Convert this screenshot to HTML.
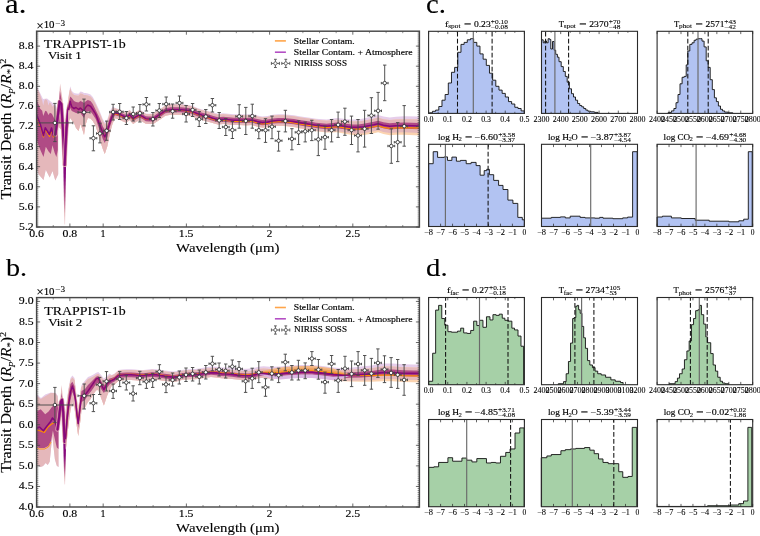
<!DOCTYPE html>
<html><head><meta charset="utf-8"><style>
html,body{margin:0;padding:0;background:#fff;}
svg{display:block;will-change:transform;}
text{font-family:"Liberation Serif",serif;stroke:#000;}
</style></head><body>
<svg width="760" height="536" viewBox="0 0 760 536">
<rect width="760" height="536" fill="#fff"/>
<text x="5.12" y="12.6" font-size="27" text-anchor="start" textLength="21.34" lengthAdjust="spacingAndGlyphs" fill="#000" stroke-width="0.12" >a.</text>
<text x="5.9" y="276" font-size="26.2" text-anchor="start" textLength="21.13" lengthAdjust="spacingAndGlyphs" fill="#000" stroke-width="0.12" >b.</text>
<text x="426.02" y="12.9" font-size="27.5" text-anchor="start" textLength="19.91" lengthAdjust="spacingAndGlyphs" fill="#000" stroke-width="0.12" >c.</text>
<text x="426.09" y="275.8" font-size="26" text-anchor="start" textLength="21.58" lengthAdjust="spacingAndGlyphs" fill="#000" stroke-width="0.12" >d.</text>
<defs><clipPath id="ca"><rect x="36.6" y="31.2" width="382.8" height="195.8"/></clipPath><clipPath id="cb"><rect x="36.6" y="297.6" width="382.8" height="209.4"/></clipPath></defs>
<g clip-path="url(#ca)">
<polygon points="36.6,85.5 39.6,92 43,99 47,98.5 52,102.5 56,106 57.5,112 58.2,174.3 55.3,180.4 52.5,170.9 49.7,177.6 45.8,169.8 43.5,179.9 38.5,174.3 36.6,167" fill="#e6cdea" />
<polygon points="36.6,86.7 38.1,90.3 39.6,93.3 41.2,97.9 42.2,100.5 43.2,105.6 44.3,100.5 45.8,99 47.3,100.5 48.4,105.6 49.4,102.6 50.9,103.6 52.5,106.7 54,104.6 55.5,108 57,114 58.2,125 58.2,174.3 55.3,180.4 52.5,170.9 49.7,177.6 45.8,169.8 43.5,179.9 38.5,174.3 36.6,167" fill="#e5b8bb" />
<polygon points="36.6,99.5 38.1,103.6 40.2,108.7 42.2,110.8 43.2,115.9 45.3,110.8 46.8,111.5 48.4,114.9 49.9,112.8 51.9,113.8 53.5,116.9 54.5,119 56,121 57.8,128 57.8,150 56.4,156.9 54.7,153 52.5,145.2 50.8,154.1 48.6,151.5 45.8,146.8 43.5,156.9 40.7,150.8 38.5,145.2 36.6,138.4" fill="#b04b85" />
<polyline points="36.6,116 38.6,122 40.2,126 41.7,131 43.5,137 45.3,129 47.3,133 49.5,136.5 51.5,130 53.3,137 55.5,136" fill="none" stroke="#ff8c00" stroke-width="1.2" stroke-linejoin="round" />
<polyline points="36.6,114.9 38.6,120 40.2,124.1 41.7,129.2 43.5,135.6 45.3,127.8 47.3,131 49.5,134.5 51.5,128 53.3,135.6 55.5,134.4" fill="none" stroke="#86087c" stroke-width="1.6" stroke-linejoin="round" />
<polygon points="57,126 58.3,108 60.1,83.4 62.6,100 63.6,124 62,130" fill="#e5b8bb" />
<polygon points="67.6,118 68.6,104 70.2,87.8 72.5,100" fill="#e5b8bb" />
<polygon points="57.8,122 58.9,106 59.9,91 61.6,100 62.6,118 60.5,124" fill="#b04b85" />
<polygon points="68.4,110 70.2,96.5 71.8,104" fill="#b04b85" />
<defs><linearGradient id="spA" x1="0" y1="0" x2="0" y2="1"><stop offset="0" stop-color="#86087c"/><stop offset="0.35" stop-color="#86087c"/><stop offset="0.6" stop-color="#b04b85"/><stop offset="0.85" stop-color="#e5b8bb"/><stop offset="1" stop-color="#f6e0e3"/></linearGradient></defs>
<polygon points="63.1,150 66.3,150 65.1,224.5 64.3,224.5" fill="url(#spA)" />
<polyline points="55.5,134.4 57.6,118 59.6,101.5 61.3,104 63,130 64.2,155 64.7,165" fill="none" stroke="#e5b8bb" stroke-width="4.2" stroke-linejoin="round" stroke-linecap="round"/>
<polyline points="55.5,134.4 57.6,118 59.6,101.5 61.3,104 63,130 64.2,155 64.7,165" fill="none" stroke="#b04b85" stroke-width="3" stroke-linejoin="round" stroke-linecap="round"/>
<polyline points="55.5,134.4 57.6,118 59.6,101.5 61.3,104 63,130 64.2,155 64.7,165" fill="none" stroke="#86087c" stroke-width="2" stroke-linejoin="round" stroke-linecap="round"/>
<polyline points="64.7,165 65.3,150 66.5,128 68.2,110 70.2,101.2 72.3,108" fill="none" stroke="#e5b8bb" stroke-width="4.2" stroke-linejoin="round" stroke-linecap="round"/>
<polyline points="64.7,165 65.3,150 66.5,128 68.2,110 70.2,101.2 72.3,108" fill="none" stroke="#b04b85" stroke-width="3" stroke-linejoin="round" stroke-linecap="round"/>
<polyline points="64.7,165 65.3,150 66.5,128 68.2,110 70.2,101.2 72.3,108" fill="none" stroke="#86087c" stroke-width="2" stroke-linejoin="round" stroke-linecap="round"/>
<polygon points="68.5,96 70.2,86.2 71.8,91 74,92.9 76,93.5 78.5,93.7 80.5,91.5 82.5,92 84,93 85.5,93 87.8,93.5 90.5,94.5 92.8,97 95.7,102.5 99.6,111 102.8,119 104.8,122.5 107.4,119 110,111 112.6,106.5 115.2,107.95 119.2,109.19 123.1,111.14 126.3,112.39 129.6,109.74 133.2,113.59 136.3,111.45 139.5,109.8 142.6,111.35 145.8,113.41 148.9,113.66 153.2,113.6 157.4,110.64 161.6,107.89 165.3,105.27 170.5,104.13 175.8,104.1 181,104.07 186.3,104.64 191.6,105.6 196.8,107.67 202.1,109.44 207.4,110.8 212.6,112.37 217.9,113.84 223.2,113.31 228.4,113.77 233.7,114.34 238.9,114.31 246.5,114.46 251.8,113.93 257.1,115.49 262.3,116.46 267.6,115.93 272.8,114.8 278.1,114.26 283.4,114.23 288.6,114.7 293.9,115.26 299.2,116.23 304.4,117 309.7,117.76 316,118.83 326.5,119.54 337,118.12 347.6,119.2 352.8,119.59 358.1,119.38 363.4,118.56 368.6,117.36 373.9,116.12 378.1,115.04 383.4,116.53 389.7,117.41 396,116.78 404,116.32 420,116.5 420,133 404,132.34 396,132.56 389.7,133 383.4,131.93 378.1,130.28 373.9,131.24 368.6,132.27 363.4,133.17 358.1,133.66 352.8,133.56 347.6,132.85 337,131.14 326.5,131.93 316,130.76 309.7,129.61 304.4,128.76 299.2,127.92 293.9,126.87 288.6,126.23 283.4,125.68 278.1,125.63 272.8,126.09 267.6,127.14 262.3,127.6 257.1,126.55 251.8,124.9 246.5,125.36 238.9,125.1 233.7,125.12 228.4,124.53 223.2,124.04 217.9,124.56 212.6,123.07 207.4,121.48 202.1,120.09 196.8,118.31 191.6,116.22 186.3,115.23 181,114.65 175.8,114.66 170.5,114.67 165.3,115.79 161.6,118.4 157.4,121.13 153.2,124.07 148.9,124.12 145.8,123.85 142.6,121.78 139.5,120.21 136.3,121.85 133.2,123.98 129.6,120.12 126.3,122.75 123.1,121.48 119.2,119.52 115.2,118.27 112.6,123.5 110,133 107.4,146 104.8,154 102.8,149 99.6,139 95.7,126 92.8,121 90.5,118.5 87.8,118 85.5,125 84,135 82.5,130 80.5,124 78.5,131 76,128 74,123 71.8,120.3 70.2,118 68.5,122" fill="#e6cdea" />
<polygon points="68.5,98 70.2,88.2 71.8,93 74,94.9 76,95.5 78.5,95.7 80.5,93.5 82.5,94 84,95 85.5,95 87.8,95.5 90.5,96.5 92.8,99 95.7,104.5 99.6,113 102.8,121 104.8,124.5 107.4,121 110,113 112.6,108.5 115.2,108.55 119.2,109.78 123.1,111.71 126.3,112.96 129.6,110.31 133.2,114.15 136.3,111.99 139.5,110.34 142.6,111.89 145.8,113.94 148.9,114.19 153.2,114.11 157.4,111.14 161.6,108.4 165.3,105.8 170.5,104.7 175.8,104.7 181,104.7 186.3,105.3 191.6,106.3 196.8,108.4 202.1,110.2 207.4,111.6 212.6,113.2 217.9,114.7 223.2,114.2 228.4,114.7 233.7,115.3 238.9,115.3 246.5,115.46 251.8,114.93 257.1,116.49 262.3,117.46 267.6,116.93 272.8,115.8 278.1,115.26 283.4,115.23 288.6,115.7 293.9,116.26 299.2,117.23 304.4,118 309.7,118.76 316,119.83 326.5,120.73 337,119.63 347.6,121.02 352.8,121.57 358.1,121.52 363.4,120.87 368.6,119.81 373.9,118.66 378.1,117.62 383.4,119.17 389.7,120.1 396,119.54 404,119.16 420,119.5 420,135.5 404,134.68 396,134.82 389.7,135.19 383.4,134.07 378.1,132.36 373.9,133.28 368.6,134.23 363.4,134.97 358.1,135.31 352.8,135.04 347.6,134.18 337,132.15 326.5,132.62 316,131.24 309.7,130.05 304.4,129.17 299.2,128.29 293.9,127.21 288.6,126.53 283.4,125.95 278.1,125.87 272.8,126.29 267.6,127.31 262.3,127.73 257.1,126.66 251.8,124.98 246.5,125.4 238.9,125.1 233.7,125.12 228.4,124.53 223.2,124.04 217.9,124.56 212.6,123.07 207.4,121.48 202.1,120.09 196.8,118.31 191.6,116.22 186.3,115.23 181,114.65 175.8,114.66 170.5,114.67 165.3,115.79 161.6,118.4 157.4,121.13 153.2,124.07 148.9,124.12 145.8,123.85 142.6,121.78 139.5,120.21 136.3,121.85 133.2,123.98 129.6,120.12 126.3,122.75 123.1,121.48 119.2,119.52 115.2,118.27 112.6,123.5 110,133 107.4,146 104.8,154 102.8,149 99.6,139 95.7,126 92.8,121 90.5,118.5 87.8,118 85.5,125 84,135 82.5,130 80.5,124 78.5,131 76,128 74,123 71.8,120.3 70.2,118 68.5,122" fill="#fbd3b0" />
<polygon points="68.5,98 70.2,88.2 71.8,93 74,94.9 76,95.5 78.5,95.7 80.5,93.5 82.5,94 84,95 85.5,95 87.8,95.5 90.5,96.5 92.8,99 95.7,104.5 99.6,113 102.8,121 104.8,124.5 107.4,121 110,113 112.6,108.5 115.2,108.55 119.2,109.78 123.1,111.71 126.3,112.96 129.6,110.31 133.2,114.15 136.3,111.99 139.5,110.34 142.6,111.89 145.8,113.94 148.9,114.19 153.2,114.11 157.4,111.14 161.6,108.4 165.3,105.8 170.5,104.7 175.8,104.7 181,104.7 186.3,105.3 191.6,106.3 196.8,108.4 202.1,110.2 207.4,111.6 212.6,113.2 217.9,114.7 223.2,114.2 228.4,114.7 233.7,115.3 238.9,115.3 246.5,115.46 251.8,114.93 257.1,116.49 262.3,117.46 267.6,116.93 272.8,115.8 278.1,115.26 283.4,115.23 288.6,115.7 293.9,116.26 299.2,117.23 304.4,118 309.7,118.76 316,119.83 326.5,120.73 337,119.63 347.6,121.02 352.8,121.57 358.1,121.52 363.4,120.87 368.6,119.81 373.9,118.66 378.1,117.62 383.4,119.17 389.7,120.1 396,119.54 404,119.16 420,119.5 420,133 404,132.34 396,132.56 389.7,133 383.4,131.93 378.1,130.28 373.9,131.24 368.6,132.27 363.4,133.17 358.1,133.66 352.8,133.56 347.6,132.85 337,131.14 326.5,131.93 316,130.76 309.7,129.61 304.4,128.76 299.2,127.92 293.9,126.87 288.6,126.23 283.4,125.68 278.1,125.63 272.8,126.09 267.6,127.14 262.3,127.6 257.1,126.55 251.8,124.9 246.5,125.36 238.9,125.1 233.7,125.12 228.4,124.53 223.2,124.04 217.9,124.56 212.6,123.07 207.4,121.48 202.1,120.09 196.8,118.31 191.6,116.22 186.3,115.23 181,114.65 175.8,114.66 170.5,114.67 165.3,115.79 161.6,118.4 157.4,121.13 153.2,124.07 148.9,124.12 145.8,123.85 142.6,121.78 139.5,120.21 136.3,121.85 133.2,123.98 129.6,120.12 126.3,122.75 123.1,121.48 119.2,119.52 115.2,118.27 112.6,123.5 110,133 107.4,146 104.8,154 102.8,149 99.6,139 95.7,126 92.8,121 90.5,118.5 87.8,118 85.5,125 84,135 82.5,130 80.5,124 78.5,131 76,128 74,123 71.8,120.3 70.2,118 68.5,122" fill="#e5b8bb" />
<polygon points="68.5,104 70.2,96.5 71.8,98 74,101 76,102 78.5,102.4 80.5,101 82.5,102 84,103 85.5,101.5 87.8,100 90.5,101 92.8,104 95.7,110 99.6,118 102.8,126.5 104.8,129.5 107.4,125.5 110,117 112.6,111.5 115.2,110.58 119.2,111.85 123.1,113.83 126.3,115.11 129.6,112.49 133.2,116.37 136.3,114.25 139.5,112.63 142.6,114.21 145.8,116.29 148.9,116.57 153.2,116.54 157.4,113.62 161.6,110.9 165.3,108.3 170.5,107.2 175.8,107.2 181,107.2 186.3,107.8 191.6,108.8 196.8,110.9 202.1,112.7 207.4,114.1 212.6,115.7 217.9,117.2 223.2,116.7 228.4,117.2 233.7,117.8 238.9,117.8 246.5,117.99 251.8,117.49 257.1,119.08 262.3,120.07 267.6,119.57 272.8,118.46 278.1,117.95 283.4,117.95 288.6,118.44 293.9,119.03 299.2,120.03 304.4,120.82 309.7,121.61 316,122.7 326.5,123.65 337,122.56 347.6,123.98 352.8,124.54 358.1,124.5 363.4,123.85 368.6,122.81 373.9,121.7 378.1,120.7 383.4,122.3 389.7,123.3 396,122.8 404,122.5 420,123 420,129.2 404,128.64 396,128.9 389.7,129.38 383.4,128.35 378.1,126.73 373.9,127.72 368.6,128.79 363.4,129.77 358.1,130.35 352.8,130.33 347.6,129.71 337,128.17 326.5,129.13 316,128.09 309.7,126.96 304.4,126.14 299.2,125.32 293.9,124.3 288.6,123.68 283.4,123.16 278.1,123.14 272.8,123.62 267.6,124.7 262.3,125.18 257.1,124.16 251.8,122.54 246.5,123.02 238.9,122.8 233.7,122.8 228.4,122.2 223.2,121.7 217.9,122.2 212.6,120.7 207.4,119.1 202.1,117.7 196.8,115.9 191.6,113.8 186.3,112.8 181,112.2 175.8,112.2 170.5,112.2 165.3,113.3 161.6,115.9 157.4,118.59 153.2,121.49 148.9,121.48 145.8,121.17 142.6,119.06 139.5,117.46 136.3,119.05 133.2,121.14 129.6,117.24 126.3,119.83 123.1,118.52 119.2,116.52 115.2,115.21 112.6,119 110,126.5 107.4,137 104.8,143 102.8,139 99.6,130 95.7,119 92.8,114.5 90.5,111.5 87.8,111 85.5,114 84,118 82.5,116 80.5,113 78.5,113.6 76,113 74,112.1 71.8,111 70.2,108 68.5,112" fill="#b04b85" />
<polyline points="68.5,110 70.2,101.4 71.8,106.9 74,108.5 76,107.5 78.5,109.5 80.5,108 82.5,110 84,110.8 85.5,107.5 87.8,105 90.5,106.3 92.8,109.5 95.7,114.1 99.6,124.6 102.8,133 104.8,137 107.4,131.1 110,121.9 112.6,115.4 115.2,113.75 119.2,114.99 123.1,116.94 126.3,118.19 129.6,115.54 133.2,119.39 136.3,117.25 139.5,115.6 142.6,117.15 145.8,119.21 148.9,119.46 153.2,119.4 157.4,116.44 161.6,113.72 165.3,111.16 170.5,110.12 175.8,110.18 181,110.24 186.3,110.9 191.6,111.96 196.8,114.11 202.1,115.97 207.4,117.43 212.6,119.09 217.9,120.65 223.2,120.21 228.4,120.77 233.7,121.43 238.9,121.49 246.5,121.7 251.8,121.2 257.1,122.8 262.3,123.8 267.6,123.3 272.8,122.2 278.1,121.7 283.4,121.7 288.6,122.2 293.9,122.8 299.2,123.8 304.4,124.6 309.7,125.4 316,126.5 326.5,127.6 337,126.77 347.6,128.44 352.8,129.12 358.1,129.21 363.4,128.69 368.6,127.78 373.9,126.72 378.1,125.73 383.4,127.35 389.7,128.38 396,127.9 404,127.64 420,128.2" fill="none" stroke="#ff8c00" stroke-width="1.2" stroke-linejoin="round" />
<polyline points="68.5,110 70.2,101.4 71.8,106.9 74,108.5 76,107.5 78.5,109.5 80.5,108 82.5,110 84,110.8 85.5,107.5 87.8,105 90.5,106.3 92.8,109.5 95.7,114.1 99.6,124.6 102.8,133 104.8,137 107.4,131.1 110,121.9 112.6,115.4 115.2,112.8 119.2,114.1 123.1,116.1 126.3,117.4 129.6,114.8 133.2,118.7 136.3,116.6 139.5,115 142.6,116.6 145.8,118.7 148.9,119 153.2,119 157.4,116.1 161.6,113.4 165.3,110.8 170.5,109.7 175.8,109.7 181,109.7 186.3,110.3 191.6,111.3 196.8,113.4 202.1,115.2 207.4,116.6 212.6,118.2 217.9,119.7 223.2,119.2 228.4,119.7 233.7,120.3 238.9,120.3 246.5,120.5 251.8,120 257.1,121.6 262.3,122.6 267.6,122.1 272.8,121 278.1,120.5 283.4,120.5 288.6,121 293.9,121.6 299.2,122.6 304.4,123.4 309.7,124.2 316,125.3 326.5,126.3 337,125.3 347.6,126.8 352.8,127.4 358.1,127.4 363.4,126.8 368.6,125.8 373.9,124.7 378.1,123.7 383.4,125.3 389.7,126.3 396,125.8 404,125.5 420,126" fill="none" stroke="#86087c" stroke-width="1.6" stroke-linejoin="round" />
<line x1="37.3" y1="122.9" x2="72.8" y2="122.9" stroke="#4a4a4a" stroke-width="0.95" />
<line x1="54.9" y1="103.4" x2="54.9" y2="141.6" stroke="#4a4a4a" stroke-width="0.95" />
<line x1="53.2" y1="103.4" x2="56.6" y2="103.4" stroke="#4a4a4a" stroke-width="0.95" />
<line x1="53.2" y1="141.6" x2="56.6" y2="141.6" stroke="#4a4a4a" stroke-width="0.95" />
<line x1="37.3" y1="121.6" x2="37.3" y2="124.2" stroke="#4a4a4a" stroke-width="0.95" />
<line x1="72.8" y1="121.6" x2="72.8" y2="124.2" stroke="#4a4a4a" stroke-width="0.95" />
<circle cx="54.9" cy="122.9" r="1.75" fill="#fff" stroke="#222" stroke-width="0.8"/>
<line x1="78" y1="112.3" x2="90" y2="112.3" stroke="#4a4a4a" stroke-width="0.95" />
<line x1="84" y1="99.1" x2="84" y2="125.9" stroke="#4a4a4a" stroke-width="0.95" />
<line x1="82.3" y1="99.1" x2="85.7" y2="99.1" stroke="#4a4a4a" stroke-width="0.95" />
<line x1="82.3" y1="125.9" x2="85.7" y2="125.9" stroke="#4a4a4a" stroke-width="0.95" />
<line x1="78" y1="111" x2="78" y2="113.6" stroke="#4a4a4a" stroke-width="0.95" />
<line x1="90" y1="111" x2="90" y2="113.6" stroke="#4a4a4a" stroke-width="0.95" />
<circle cx="84" cy="112.3" r="1.75" fill="#fff" stroke="#222" stroke-width="0.8"/>
<line x1="90" y1="138.2" x2="96.8" y2="138.2" stroke="#4a4a4a" stroke-width="0.95" />
<line x1="93.4" y1="125.8" x2="93.4" y2="150.8" stroke="#4a4a4a" stroke-width="0.95" />
<line x1="91.7" y1="125.8" x2="95.1" y2="125.8" stroke="#4a4a4a" stroke-width="0.95" />
<line x1="91.7" y1="150.8" x2="95.1" y2="150.8" stroke="#4a4a4a" stroke-width="0.95" />
<line x1="90" y1="137" x2="90" y2="139.4" stroke="#4a4a4a" stroke-width="0.95" />
<line x1="96.8" y1="137" x2="96.8" y2="139.4" stroke="#4a4a4a" stroke-width="0.95" />
<circle cx="93.4" cy="138.2" r="1.75" fill="#fff" stroke="#222" stroke-width="0.8"/>
<line x1="96.5" y1="133.5" x2="103.3" y2="133.5" stroke="#4a4a4a" stroke-width="0.95" />
<line x1="99.9" y1="123.2" x2="99.9" y2="142.9" stroke="#4a4a4a" stroke-width="0.95" />
<line x1="98.2" y1="123.2" x2="101.6" y2="123.2" stroke="#4a4a4a" stroke-width="0.95" />
<line x1="98.2" y1="142.9" x2="101.6" y2="142.9" stroke="#4a4a4a" stroke-width="0.95" />
<line x1="96.5" y1="132.3" x2="96.5" y2="134.7" stroke="#4a4a4a" stroke-width="0.95" />
<line x1="103.3" y1="132.3" x2="103.3" y2="134.7" stroke="#4a4a4a" stroke-width="0.95" />
<circle cx="99.9" cy="133.5" r="1.75" fill="#fff" stroke="#222" stroke-width="0.8"/>
<line x1="103.3" y1="130.8" x2="110.1" y2="130.8" stroke="#4a4a4a" stroke-width="0.95" />
<line x1="106.7" y1="121.1" x2="106.7" y2="140.3" stroke="#4a4a4a" stroke-width="0.95" />
<line x1="105" y1="121.1" x2="108.4" y2="121.1" stroke="#4a4a4a" stroke-width="0.95" />
<line x1="105" y1="140.3" x2="108.4" y2="140.3" stroke="#4a4a4a" stroke-width="0.95" />
<line x1="103.3" y1="129.6" x2="103.3" y2="132" stroke="#4a4a4a" stroke-width="0.95" />
<line x1="110.1" y1="129.6" x2="110.1" y2="132" stroke="#4a4a4a" stroke-width="0.95" />
<circle cx="106.7" cy="130.8" r="1.75" fill="#fff" stroke="#222" stroke-width="0.8"/>
<line x1="109.7" y1="112.1" x2="116.5" y2="112.1" stroke="#4a4a4a" stroke-width="0.95" />
<line x1="113.1" y1="104.3" x2="113.1" y2="120" stroke="#4a4a4a" stroke-width="0.95" />
<line x1="111.4" y1="104.3" x2="114.8" y2="104.3" stroke="#4a4a4a" stroke-width="0.95" />
<line x1="111.4" y1="120" x2="114.8" y2="120" stroke="#4a4a4a" stroke-width="0.95" />
<line x1="109.7" y1="110.9" x2="109.7" y2="113.3" stroke="#4a4a4a" stroke-width="0.95" />
<line x1="116.5" y1="110.9" x2="116.5" y2="113.3" stroke="#4a4a4a" stroke-width="0.95" />
<circle cx="113.1" cy="112.1" r="1.75" fill="#fff" stroke="#222" stroke-width="0.8"/>
<line x1="116.3" y1="111.8" x2="123.1" y2="111.8" stroke="#4a4a4a" stroke-width="0.95" />
<line x1="119.7" y1="103.5" x2="119.7" y2="119.5" stroke="#4a4a4a" stroke-width="0.95" />
<line x1="118" y1="103.5" x2="121.4" y2="103.5" stroke="#4a4a4a" stroke-width="0.95" />
<line x1="118" y1="119.5" x2="121.4" y2="119.5" stroke="#4a4a4a" stroke-width="0.95" />
<line x1="116.3" y1="110.6" x2="116.3" y2="113" stroke="#4a4a4a" stroke-width="0.95" />
<line x1="123.1" y1="110.6" x2="123.1" y2="113" stroke="#4a4a4a" stroke-width="0.95" />
<circle cx="119.7" cy="111.8" r="1.75" fill="#fff" stroke="#222" stroke-width="0.8"/>
<line x1="123" y1="118.1" x2="129.8" y2="118.1" stroke="#4a4a4a" stroke-width="0.95" />
<line x1="126.4" y1="111.5" x2="126.4" y2="124.5" stroke="#4a4a4a" stroke-width="0.95" />
<line x1="124.7" y1="111.5" x2="128.1" y2="111.5" stroke="#4a4a4a" stroke-width="0.95" />
<line x1="124.7" y1="124.5" x2="128.1" y2="124.5" stroke="#4a4a4a" stroke-width="0.95" />
<line x1="123" y1="116.9" x2="123" y2="119.3" stroke="#4a4a4a" stroke-width="0.95" />
<line x1="129.8" y1="116.9" x2="129.8" y2="119.3" stroke="#4a4a4a" stroke-width="0.95" />
<circle cx="126.4" cy="118.1" r="1.75" fill="#fff" stroke="#222" stroke-width="0.8"/>
<line x1="129.8" y1="114" x2="136.6" y2="114" stroke="#4a4a4a" stroke-width="0.95" />
<line x1="133.2" y1="107" x2="133.2" y2="121" stroke="#4a4a4a" stroke-width="0.95" />
<line x1="131.5" y1="107" x2="134.9" y2="107" stroke="#4a4a4a" stroke-width="0.95" />
<line x1="131.5" y1="121" x2="134.9" y2="121" stroke="#4a4a4a" stroke-width="0.95" />
<line x1="129.8" y1="112.8" x2="129.8" y2="115.2" stroke="#4a4a4a" stroke-width="0.95" />
<line x1="136.6" y1="112.8" x2="136.6" y2="115.2" stroke="#4a4a4a" stroke-width="0.95" />
<circle cx="133.2" cy="114" r="1.75" fill="#fff" stroke="#222" stroke-width="0.8"/>
<line x1="136.5" y1="113.2" x2="143.3" y2="113.2" stroke="#4a4a4a" stroke-width="0.95" />
<line x1="139.9" y1="104.5" x2="139.9" y2="122" stroke="#4a4a4a" stroke-width="0.95" />
<line x1="138.2" y1="104.5" x2="141.6" y2="104.5" stroke="#4a4a4a" stroke-width="0.95" />
<line x1="138.2" y1="122" x2="141.6" y2="122" stroke="#4a4a4a" stroke-width="0.95" />
<line x1="136.5" y1="112" x2="136.5" y2="114.4" stroke="#4a4a4a" stroke-width="0.95" />
<line x1="143.3" y1="112" x2="143.3" y2="114.4" stroke="#4a4a4a" stroke-width="0.95" />
<circle cx="139.9" cy="113.2" r="1.75" fill="#fff" stroke="#222" stroke-width="0.8"/>
<line x1="143" y1="104.4" x2="149.8" y2="104.4" stroke="#4a4a4a" stroke-width="0.95" />
<line x1="146.4" y1="97.5" x2="146.4" y2="111" stroke="#4a4a4a" stroke-width="0.95" />
<line x1="144.7" y1="97.5" x2="148.1" y2="97.5" stroke="#4a4a4a" stroke-width="0.95" />
<line x1="144.7" y1="111" x2="148.1" y2="111" stroke="#4a4a4a" stroke-width="0.95" />
<line x1="143" y1="103.2" x2="143" y2="105.6" stroke="#4a4a4a" stroke-width="0.95" />
<line x1="149.8" y1="103.2" x2="149.8" y2="105.6" stroke="#4a4a4a" stroke-width="0.95" />
<circle cx="146.4" cy="104.4" r="1.75" fill="#fff" stroke="#222" stroke-width="0.8"/>
<line x1="149.5" y1="119.1" x2="156.3" y2="119.1" stroke="#4a4a4a" stroke-width="0.95" />
<line x1="152.9" y1="112.5" x2="152.9" y2="126" stroke="#4a4a4a" stroke-width="0.95" />
<line x1="151.2" y1="112.5" x2="154.6" y2="112.5" stroke="#4a4a4a" stroke-width="0.95" />
<line x1="151.2" y1="126" x2="154.6" y2="126" stroke="#4a4a4a" stroke-width="0.95" />
<line x1="149.5" y1="117.9" x2="149.5" y2="120.3" stroke="#4a4a4a" stroke-width="0.95" />
<line x1="156.3" y1="117.9" x2="156.3" y2="120.3" stroke="#4a4a4a" stroke-width="0.95" />
<circle cx="152.9" cy="119.1" r="1.75" fill="#fff" stroke="#222" stroke-width="0.8"/>
<line x1="155.9" y1="110.5" x2="162.7" y2="110.5" stroke="#4a4a4a" stroke-width="0.95" />
<line x1="159.3" y1="103.5" x2="159.3" y2="117.5" stroke="#4a4a4a" stroke-width="0.95" />
<line x1="157.6" y1="103.5" x2="161" y2="103.5" stroke="#4a4a4a" stroke-width="0.95" />
<line x1="157.6" y1="117.5" x2="161" y2="117.5" stroke="#4a4a4a" stroke-width="0.95" />
<line x1="155.9" y1="109.3" x2="155.9" y2="111.7" stroke="#4a4a4a" stroke-width="0.95" />
<line x1="162.7" y1="109.3" x2="162.7" y2="111.7" stroke="#4a4a4a" stroke-width="0.95" />
<circle cx="159.3" cy="110.5" r="1.75" fill="#fff" stroke="#222" stroke-width="0.8"/>
<line x1="162.8" y1="104.1" x2="169.6" y2="104.1" stroke="#4a4a4a" stroke-width="0.95" />
<line x1="166.2" y1="97" x2="166.2" y2="111" stroke="#4a4a4a" stroke-width="0.95" />
<line x1="164.5" y1="97" x2="167.9" y2="97" stroke="#4a4a4a" stroke-width="0.95" />
<line x1="164.5" y1="111" x2="167.9" y2="111" stroke="#4a4a4a" stroke-width="0.95" />
<line x1="162.8" y1="102.9" x2="162.8" y2="105.3" stroke="#4a4a4a" stroke-width="0.95" />
<line x1="169.6" y1="102.9" x2="169.6" y2="105.3" stroke="#4a4a4a" stroke-width="0.95" />
<circle cx="166.2" cy="104.1" r="1.75" fill="#fff" stroke="#222" stroke-width="0.8"/>
<line x1="169.2" y1="111.2" x2="176" y2="111.2" stroke="#4a4a4a" stroke-width="0.95" />
<line x1="172.6" y1="104" x2="172.6" y2="118.2" stroke="#4a4a4a" stroke-width="0.95" />
<line x1="170.9" y1="104" x2="174.3" y2="104" stroke="#4a4a4a" stroke-width="0.95" />
<line x1="170.9" y1="118.2" x2="174.3" y2="118.2" stroke="#4a4a4a" stroke-width="0.95" />
<line x1="169.2" y1="110" x2="169.2" y2="112.4" stroke="#4a4a4a" stroke-width="0.95" />
<line x1="176" y1="110" x2="176" y2="112.4" stroke="#4a4a4a" stroke-width="0.95" />
<circle cx="172.6" cy="111.2" r="1.75" fill="#fff" stroke="#222" stroke-width="0.8"/>
<line x1="176.1" y1="103" x2="182.9" y2="103" stroke="#4a4a4a" stroke-width="0.95" />
<line x1="179.5" y1="96" x2="179.5" y2="110.5" stroke="#4a4a4a" stroke-width="0.95" />
<line x1="177.8" y1="96" x2="181.2" y2="96" stroke="#4a4a4a" stroke-width="0.95" />
<line x1="177.8" y1="110.5" x2="181.2" y2="110.5" stroke="#4a4a4a" stroke-width="0.95" />
<line x1="176.1" y1="101.8" x2="176.1" y2="104.2" stroke="#4a4a4a" stroke-width="0.95" />
<line x1="182.9" y1="101.8" x2="182.9" y2="104.2" stroke="#4a4a4a" stroke-width="0.95" />
<circle cx="179.5" cy="103" r="1.75" fill="#fff" stroke="#222" stroke-width="0.8"/>
<line x1="182.7" y1="114" x2="189.5" y2="114" stroke="#4a4a4a" stroke-width="0.95" />
<line x1="186.1" y1="105.5" x2="186.1" y2="122" stroke="#4a4a4a" stroke-width="0.95" />
<line x1="184.4" y1="105.5" x2="187.8" y2="105.5" stroke="#4a4a4a" stroke-width="0.95" />
<line x1="184.4" y1="122" x2="187.8" y2="122" stroke="#4a4a4a" stroke-width="0.95" />
<line x1="182.7" y1="112.8" x2="182.7" y2="115.2" stroke="#4a4a4a" stroke-width="0.95" />
<line x1="189.5" y1="112.8" x2="189.5" y2="115.2" stroke="#4a4a4a" stroke-width="0.95" />
<circle cx="186.1" cy="114" r="1.75" fill="#fff" stroke="#222" stroke-width="0.8"/>
<line x1="189.2" y1="109.9" x2="196" y2="109.9" stroke="#4a4a4a" stroke-width="0.95" />
<line x1="192.6" y1="103.5" x2="192.6" y2="116.5" stroke="#4a4a4a" stroke-width="0.95" />
<line x1="190.9" y1="103.5" x2="194.3" y2="103.5" stroke="#4a4a4a" stroke-width="0.95" />
<line x1="190.9" y1="116.5" x2="194.3" y2="116.5" stroke="#4a4a4a" stroke-width="0.95" />
<line x1="189.2" y1="108.7" x2="189.2" y2="111.1" stroke="#4a4a4a" stroke-width="0.95" />
<line x1="196" y1="108.7" x2="196" y2="111.1" stroke="#4a4a4a" stroke-width="0.95" />
<circle cx="192.6" cy="109.9" r="1.75" fill="#fff" stroke="#222" stroke-width="0.8"/>
<line x1="195.8" y1="119.2" x2="202.6" y2="119.2" stroke="#4a4a4a" stroke-width="0.95" />
<line x1="199.2" y1="111.5" x2="199.2" y2="126.5" stroke="#4a4a4a" stroke-width="0.95" />
<line x1="197.5" y1="111.5" x2="200.9" y2="111.5" stroke="#4a4a4a" stroke-width="0.95" />
<line x1="197.5" y1="126.5" x2="200.9" y2="126.5" stroke="#4a4a4a" stroke-width="0.95" />
<line x1="195.8" y1="118" x2="195.8" y2="120.4" stroke="#4a4a4a" stroke-width="0.95" />
<line x1="202.6" y1="118" x2="202.6" y2="120.4" stroke="#4a4a4a" stroke-width="0.95" />
<circle cx="199.2" cy="119.2" r="1.75" fill="#fff" stroke="#222" stroke-width="0.8"/>
<line x1="202.4" y1="116.5" x2="209.2" y2="116.5" stroke="#4a4a4a" stroke-width="0.95" />
<line x1="205.8" y1="109.5" x2="205.8" y2="123.5" stroke="#4a4a4a" stroke-width="0.95" />
<line x1="204.1" y1="109.5" x2="207.5" y2="109.5" stroke="#4a4a4a" stroke-width="0.95" />
<line x1="204.1" y1="123.5" x2="207.5" y2="123.5" stroke="#4a4a4a" stroke-width="0.95" />
<line x1="202.4" y1="115.3" x2="202.4" y2="117.7" stroke="#4a4a4a" stroke-width="0.95" />
<line x1="209.2" y1="115.3" x2="209.2" y2="117.7" stroke="#4a4a4a" stroke-width="0.95" />
<circle cx="205.8" cy="116.5" r="1.75" fill="#fff" stroke="#222" stroke-width="0.8"/>
<line x1="209" y1="105.2" x2="215.8" y2="105.2" stroke="#4a4a4a" stroke-width="0.95" />
<line x1="212.4" y1="98.5" x2="212.4" y2="112" stroke="#4a4a4a" stroke-width="0.95" />
<line x1="210.7" y1="98.5" x2="214.1" y2="98.5" stroke="#4a4a4a" stroke-width="0.95" />
<line x1="210.7" y1="112" x2="214.1" y2="112" stroke="#4a4a4a" stroke-width="0.95" />
<line x1="209" y1="104" x2="209" y2="106.4" stroke="#4a4a4a" stroke-width="0.95" />
<line x1="215.8" y1="104" x2="215.8" y2="106.4" stroke="#4a4a4a" stroke-width="0.95" />
<circle cx="212.4" cy="105.2" r="1.75" fill="#fff" stroke="#222" stroke-width="0.8"/>
<line x1="215.8" y1="120.4" x2="222.6" y2="120.4" stroke="#4a4a4a" stroke-width="0.95" />
<line x1="219.2" y1="112.5" x2="219.2" y2="128.5" stroke="#4a4a4a" stroke-width="0.95" />
<line x1="217.5" y1="112.5" x2="220.9" y2="112.5" stroke="#4a4a4a" stroke-width="0.95" />
<line x1="217.5" y1="128.5" x2="220.9" y2="128.5" stroke="#4a4a4a" stroke-width="0.95" />
<line x1="215.8" y1="119.2" x2="215.8" y2="121.6" stroke="#4a4a4a" stroke-width="0.95" />
<line x1="222.6" y1="119.2" x2="222.6" y2="121.6" stroke="#4a4a4a" stroke-width="0.95" />
<circle cx="219.2" cy="120.4" r="1.75" fill="#fff" stroke="#222" stroke-width="0.8"/>
<line x1="222.4" y1="127" x2="229.2" y2="127" stroke="#4a4a4a" stroke-width="0.95" />
<line x1="225.8" y1="118.5" x2="225.8" y2="135.5" stroke="#4a4a4a" stroke-width="0.95" />
<line x1="224.1" y1="118.5" x2="227.5" y2="118.5" stroke="#4a4a4a" stroke-width="0.95" />
<line x1="224.1" y1="135.5" x2="227.5" y2="135.5" stroke="#4a4a4a" stroke-width="0.95" />
<line x1="222.4" y1="125.8" x2="222.4" y2="128.2" stroke="#4a4a4a" stroke-width="0.95" />
<line x1="229.2" y1="125.8" x2="229.2" y2="128.2" stroke="#4a4a4a" stroke-width="0.95" />
<circle cx="225.8" cy="127" r="1.75" fill="#fff" stroke="#222" stroke-width="0.8"/>
<line x1="229" y1="130" x2="235.8" y2="130" stroke="#4a4a4a" stroke-width="0.95" />
<line x1="232.4" y1="121.5" x2="232.4" y2="138.5" stroke="#4a4a4a" stroke-width="0.95" />
<line x1="230.7" y1="121.5" x2="234.1" y2="121.5" stroke="#4a4a4a" stroke-width="0.95" />
<line x1="230.7" y1="138.5" x2="234.1" y2="138.5" stroke="#4a4a4a" stroke-width="0.95" />
<line x1="229" y1="128.8" x2="229" y2="131.2" stroke="#4a4a4a" stroke-width="0.95" />
<line x1="235.8" y1="128.8" x2="235.8" y2="131.2" stroke="#4a4a4a" stroke-width="0.95" />
<circle cx="232.4" cy="130" r="1.75" fill="#fff" stroke="#222" stroke-width="0.8"/>
<line x1="235.8" y1="116.4" x2="242.6" y2="116.4" stroke="#4a4a4a" stroke-width="0.95" />
<line x1="239.2" y1="104.7" x2="239.2" y2="128.2" stroke="#4a4a4a" stroke-width="0.95" />
<line x1="237.5" y1="104.7" x2="240.9" y2="104.7" stroke="#4a4a4a" stroke-width="0.95" />
<line x1="237.5" y1="128.2" x2="240.9" y2="128.2" stroke="#4a4a4a" stroke-width="0.95" />
<line x1="235.8" y1="115.2" x2="235.8" y2="117.6" stroke="#4a4a4a" stroke-width="0.95" />
<line x1="242.6" y1="115.2" x2="242.6" y2="117.6" stroke="#4a4a4a" stroke-width="0.95" />
<circle cx="239.2" cy="116.4" r="1.75" fill="#fff" stroke="#222" stroke-width="0.8"/>
<line x1="242.4" y1="120.9" x2="249.2" y2="120.9" stroke="#4a4a4a" stroke-width="0.95" />
<line x1="245.8" y1="107.4" x2="245.8" y2="134.5" stroke="#4a4a4a" stroke-width="0.95" />
<line x1="244.1" y1="107.4" x2="247.5" y2="107.4" stroke="#4a4a4a" stroke-width="0.95" />
<line x1="244.1" y1="134.5" x2="247.5" y2="134.5" stroke="#4a4a4a" stroke-width="0.95" />
<line x1="242.4" y1="119.7" x2="242.4" y2="122.1" stroke="#4a4a4a" stroke-width="0.95" />
<line x1="249.2" y1="119.7" x2="249.2" y2="122.1" stroke="#4a4a4a" stroke-width="0.95" />
<circle cx="245.8" cy="120.9" r="1.75" fill="#fff" stroke="#222" stroke-width="0.8"/>
<line x1="248.9" y1="116.1" x2="255.7" y2="116.1" stroke="#4a4a4a" stroke-width="0.95" />
<line x1="252.3" y1="104.2" x2="252.3" y2="128.2" stroke="#4a4a4a" stroke-width="0.95" />
<line x1="250.6" y1="104.2" x2="254" y2="104.2" stroke="#4a4a4a" stroke-width="0.95" />
<line x1="250.6" y1="128.2" x2="254" y2="128.2" stroke="#4a4a4a" stroke-width="0.95" />
<line x1="248.9" y1="114.9" x2="248.9" y2="117.3" stroke="#4a4a4a" stroke-width="0.95" />
<line x1="255.7" y1="114.9" x2="255.7" y2="117.3" stroke="#4a4a4a" stroke-width="0.95" />
<circle cx="252.3" cy="116.1" r="1.75" fill="#fff" stroke="#222" stroke-width="0.8"/>
<line x1="255.4" y1="130.2" x2="262.2" y2="130.2" stroke="#4a4a4a" stroke-width="0.95" />
<line x1="258.8" y1="123.5" x2="258.8" y2="138.7" stroke="#4a4a4a" stroke-width="0.95" />
<line x1="257.1" y1="123.5" x2="260.5" y2="123.5" stroke="#4a4a4a" stroke-width="0.95" />
<line x1="257.1" y1="138.7" x2="260.5" y2="138.7" stroke="#4a4a4a" stroke-width="0.95" />
<line x1="255.4" y1="129" x2="255.4" y2="131.4" stroke="#4a4a4a" stroke-width="0.95" />
<line x1="262.2" y1="129" x2="262.2" y2="131.4" stroke="#4a4a4a" stroke-width="0.95" />
<circle cx="258.8" cy="130.2" r="1.75" fill="#fff" stroke="#222" stroke-width="0.8"/>
<line x1="262.1" y1="130.2" x2="268.9" y2="130.2" stroke="#4a4a4a" stroke-width="0.95" />
<line x1="265.5" y1="118.7" x2="265.5" y2="142.4" stroke="#4a4a4a" stroke-width="0.95" />
<line x1="263.8" y1="118.7" x2="267.2" y2="118.7" stroke="#4a4a4a" stroke-width="0.95" />
<line x1="263.8" y1="142.4" x2="267.2" y2="142.4" stroke="#4a4a4a" stroke-width="0.95" />
<line x1="262.1" y1="129" x2="262.1" y2="131.4" stroke="#4a4a4a" stroke-width="0.95" />
<line x1="268.9" y1="129" x2="268.9" y2="131.4" stroke="#4a4a4a" stroke-width="0.95" />
<circle cx="265.5" cy="130.2" r="1.75" fill="#fff" stroke="#222" stroke-width="0.8"/>
<line x1="268.6" y1="126.7" x2="275.4" y2="126.7" stroke="#4a4a4a" stroke-width="0.95" />
<line x1="272" y1="116.1" x2="272" y2="138.7" stroke="#4a4a4a" stroke-width="0.95" />
<line x1="270.3" y1="116.1" x2="273.7" y2="116.1" stroke="#4a4a4a" stroke-width="0.95" />
<line x1="270.3" y1="138.7" x2="273.7" y2="138.7" stroke="#4a4a4a" stroke-width="0.95" />
<line x1="268.6" y1="125.5" x2="268.6" y2="127.9" stroke="#4a4a4a" stroke-width="0.95" />
<line x1="275.4" y1="125.5" x2="275.4" y2="127.9" stroke="#4a4a4a" stroke-width="0.95" />
<circle cx="272" cy="126.7" r="1.75" fill="#fff" stroke="#222" stroke-width="0.8"/>
<line x1="275.2" y1="140.7" x2="282" y2="140.7" stroke="#4a4a4a" stroke-width="0.95" />
<line x1="278.6" y1="131.3" x2="278.6" y2="151.1" stroke="#4a4a4a" stroke-width="0.95" />
<line x1="276.9" y1="131.3" x2="280.3" y2="131.3" stroke="#4a4a4a" stroke-width="0.95" />
<line x1="276.9" y1="151.1" x2="280.3" y2="151.1" stroke="#4a4a4a" stroke-width="0.95" />
<line x1="275.2" y1="139.5" x2="275.2" y2="141.9" stroke="#4a4a4a" stroke-width="0.95" />
<line x1="282" y1="139.5" x2="282" y2="141.9" stroke="#4a4a4a" stroke-width="0.95" />
<circle cx="278.6" cy="140.7" r="1.75" fill="#fff" stroke="#222" stroke-width="0.8"/>
<line x1="282" y1="121" x2="288.8" y2="121" stroke="#4a4a4a" stroke-width="0.95" />
<line x1="285.4" y1="110.3" x2="285.4" y2="131.9" stroke="#4a4a4a" stroke-width="0.95" />
<line x1="283.7" y1="110.3" x2="287.1" y2="110.3" stroke="#4a4a4a" stroke-width="0.95" />
<line x1="283.7" y1="131.9" x2="287.1" y2="131.9" stroke="#4a4a4a" stroke-width="0.95" />
<line x1="282" y1="119.8" x2="282" y2="122.2" stroke="#4a4a4a" stroke-width="0.95" />
<line x1="288.8" y1="119.8" x2="288.8" y2="122.2" stroke="#4a4a4a" stroke-width="0.95" />
<circle cx="285.4" cy="121" r="1.75" fill="#fff" stroke="#222" stroke-width="0.8"/>
<line x1="288.5" y1="138.9" x2="295.3" y2="138.9" stroke="#4a4a4a" stroke-width="0.95" />
<line x1="291.9" y1="128.7" x2="291.9" y2="149.8" stroke="#4a4a4a" stroke-width="0.95" />
<line x1="290.2" y1="128.7" x2="293.6" y2="128.7" stroke="#4a4a4a" stroke-width="0.95" />
<line x1="290.2" y1="149.8" x2="293.6" y2="149.8" stroke="#4a4a4a" stroke-width="0.95" />
<line x1="288.5" y1="137.7" x2="288.5" y2="140.1" stroke="#4a4a4a" stroke-width="0.95" />
<line x1="295.3" y1="137.7" x2="295.3" y2="140.1" stroke="#4a4a4a" stroke-width="0.95" />
<circle cx="291.9" cy="138.9" r="1.75" fill="#fff" stroke="#222" stroke-width="0.8"/>
<line x1="295.2" y1="132.3" x2="302" y2="132.3" stroke="#4a4a4a" stroke-width="0.95" />
<line x1="298.6" y1="120.8" x2="298.6" y2="144.5" stroke="#4a4a4a" stroke-width="0.95" />
<line x1="296.9" y1="120.8" x2="300.3" y2="120.8" stroke="#4a4a4a" stroke-width="0.95" />
<line x1="296.9" y1="144.5" x2="300.3" y2="144.5" stroke="#4a4a4a" stroke-width="0.95" />
<line x1="295.2" y1="131.1" x2="295.2" y2="133.5" stroke="#4a4a4a" stroke-width="0.95" />
<line x1="302" y1="131.1" x2="302" y2="133.5" stroke="#4a4a4a" stroke-width="0.95" />
<circle cx="298.6" cy="132.3" r="1.75" fill="#fff" stroke="#222" stroke-width="0.8"/>
<line x1="301.8" y1="131.3" x2="308.6" y2="131.3" stroke="#4a4a4a" stroke-width="0.95" />
<line x1="305.2" y1="122.1" x2="305.2" y2="141.9" stroke="#4a4a4a" stroke-width="0.95" />
<line x1="303.5" y1="122.1" x2="306.9" y2="122.1" stroke="#4a4a4a" stroke-width="0.95" />
<line x1="303.5" y1="141.9" x2="306.9" y2="141.9" stroke="#4a4a4a" stroke-width="0.95" />
<line x1="301.8" y1="130.1" x2="301.8" y2="132.5" stroke="#4a4a4a" stroke-width="0.95" />
<line x1="308.6" y1="130.1" x2="308.6" y2="132.5" stroke="#4a4a4a" stroke-width="0.95" />
<circle cx="305.2" cy="131.3" r="1.75" fill="#fff" stroke="#222" stroke-width="0.8"/>
<line x1="308.4" y1="130.2" x2="315.2" y2="130.2" stroke="#4a4a4a" stroke-width="0.95" />
<line x1="311.8" y1="120.3" x2="311.8" y2="140.6" stroke="#4a4a4a" stroke-width="0.95" />
<line x1="310.1" y1="120.3" x2="313.5" y2="120.3" stroke="#4a4a4a" stroke-width="0.95" />
<line x1="310.1" y1="140.6" x2="313.5" y2="140.6" stroke="#4a4a4a" stroke-width="0.95" />
<line x1="308.4" y1="129" x2="308.4" y2="131.4" stroke="#4a4a4a" stroke-width="0.95" />
<line x1="315.2" y1="129" x2="315.2" y2="131.4" stroke="#4a4a4a" stroke-width="0.95" />
<circle cx="311.8" cy="130.2" r="1.75" fill="#fff" stroke="#222" stroke-width="0.8"/>
<line x1="314.9" y1="139.4" x2="321.7" y2="139.4" stroke="#4a4a4a" stroke-width="0.95" />
<line x1="318.3" y1="124.8" x2="318.3" y2="155.6" stroke="#4a4a4a" stroke-width="0.95" />
<line x1="316.6" y1="124.8" x2="320" y2="124.8" stroke="#4a4a4a" stroke-width="0.95" />
<line x1="316.6" y1="155.6" x2="320" y2="155.6" stroke="#4a4a4a" stroke-width="0.95" />
<line x1="314.9" y1="138.2" x2="314.9" y2="140.6" stroke="#4a4a4a" stroke-width="0.95" />
<line x1="321.7" y1="138.2" x2="321.7" y2="140.6" stroke="#4a4a4a" stroke-width="0.95" />
<circle cx="318.3" cy="139.4" r="1.75" fill="#fff" stroke="#222" stroke-width="0.8"/>
<line x1="321.6" y1="137.2" x2="328.4" y2="137.2" stroke="#4a4a4a" stroke-width="0.95" />
<line x1="325" y1="126.1" x2="325" y2="149.3" stroke="#4a4a4a" stroke-width="0.95" />
<line x1="323.3" y1="126.1" x2="326.7" y2="126.1" stroke="#4a4a4a" stroke-width="0.95" />
<line x1="323.3" y1="149.3" x2="326.7" y2="149.3" stroke="#4a4a4a" stroke-width="0.95" />
<line x1="321.6" y1="136" x2="321.6" y2="138.4" stroke="#4a4a4a" stroke-width="0.95" />
<line x1="328.4" y1="136" x2="328.4" y2="138.4" stroke="#4a4a4a" stroke-width="0.95" />
<circle cx="325" cy="137.2" r="1.75" fill="#fff" stroke="#222" stroke-width="0.8"/>
<line x1="328.2" y1="130.2" x2="335" y2="130.2" stroke="#4a4a4a" stroke-width="0.95" />
<line x1="331.6" y1="119.5" x2="331.6" y2="141.9" stroke="#4a4a4a" stroke-width="0.95" />
<line x1="329.9" y1="119.5" x2="333.3" y2="119.5" stroke="#4a4a4a" stroke-width="0.95" />
<line x1="329.9" y1="141.9" x2="333.3" y2="141.9" stroke="#4a4a4a" stroke-width="0.95" />
<line x1="328.2" y1="129" x2="328.2" y2="131.4" stroke="#4a4a4a" stroke-width="0.95" />
<line x1="335" y1="129" x2="335" y2="131.4" stroke="#4a4a4a" stroke-width="0.95" />
<circle cx="331.6" cy="130.2" r="1.75" fill="#fff" stroke="#222" stroke-width="0.8"/>
<line x1="334.7" y1="124.8" x2="341.5" y2="124.8" stroke="#4a4a4a" stroke-width="0.95" />
<line x1="338.1" y1="112.1" x2="338.1" y2="137.4" stroke="#4a4a4a" stroke-width="0.95" />
<line x1="336.4" y1="112.1" x2="339.8" y2="112.1" stroke="#4a4a4a" stroke-width="0.95" />
<line x1="336.4" y1="137.4" x2="339.8" y2="137.4" stroke="#4a4a4a" stroke-width="0.95" />
<line x1="334.7" y1="123.6" x2="334.7" y2="126" stroke="#4a4a4a" stroke-width="0.95" />
<line x1="341.5" y1="123.6" x2="341.5" y2="126" stroke="#4a4a4a" stroke-width="0.95" />
<circle cx="338.1" cy="124.8" r="1.75" fill="#fff" stroke="#222" stroke-width="0.8"/>
<line x1="341.5" y1="121.6" x2="348.3" y2="121.6" stroke="#4a4a4a" stroke-width="0.95" />
<line x1="344.9" y1="108.2" x2="344.9" y2="135.3" stroke="#4a4a4a" stroke-width="0.95" />
<line x1="343.2" y1="108.2" x2="346.6" y2="108.2" stroke="#4a4a4a" stroke-width="0.95" />
<line x1="343.2" y1="135.3" x2="346.6" y2="135.3" stroke="#4a4a4a" stroke-width="0.95" />
<line x1="341.5" y1="120.4" x2="341.5" y2="122.8" stroke="#4a4a4a" stroke-width="0.95" />
<line x1="348.3" y1="120.4" x2="348.3" y2="122.8" stroke="#4a4a4a" stroke-width="0.95" />
<circle cx="344.9" cy="121.6" r="1.75" fill="#fff" stroke="#222" stroke-width="0.8"/>
<line x1="348.1" y1="130.1" x2="354.9" y2="130.1" stroke="#4a4a4a" stroke-width="0.95" />
<line x1="351.5" y1="116.1" x2="351.5" y2="144.5" stroke="#4a4a4a" stroke-width="0.95" />
<line x1="349.8" y1="116.1" x2="353.2" y2="116.1" stroke="#4a4a4a" stroke-width="0.95" />
<line x1="349.8" y1="144.5" x2="353.2" y2="144.5" stroke="#4a4a4a" stroke-width="0.95" />
<line x1="348.1" y1="128.9" x2="348.1" y2="131.3" stroke="#4a4a4a" stroke-width="0.95" />
<line x1="354.9" y1="128.9" x2="354.9" y2="131.3" stroke="#4a4a4a" stroke-width="0.95" />
<circle cx="351.5" cy="130.1" r="1.75" fill="#fff" stroke="#222" stroke-width="0.8"/>
<line x1="354.6" y1="135.5" x2="361.4" y2="135.5" stroke="#4a4a4a" stroke-width="0.95" />
<line x1="358" y1="119.5" x2="358" y2="151.9" stroke="#4a4a4a" stroke-width="0.95" />
<line x1="356.3" y1="119.5" x2="359.7" y2="119.5" stroke="#4a4a4a" stroke-width="0.95" />
<line x1="356.3" y1="151.9" x2="359.7" y2="151.9" stroke="#4a4a4a" stroke-width="0.95" />
<line x1="354.6" y1="134.3" x2="354.6" y2="136.7" stroke="#4a4a4a" stroke-width="0.95" />
<line x1="361.4" y1="134.3" x2="361.4" y2="136.7" stroke="#4a4a4a" stroke-width="0.95" />
<circle cx="358" cy="135.5" r="1.75" fill="#fff" stroke="#222" stroke-width="0.8"/>
<line x1="361.2" y1="128.8" x2="368" y2="128.8" stroke="#4a4a4a" stroke-width="0.95" />
<line x1="364.6" y1="110.3" x2="364.6" y2="147.1" stroke="#4a4a4a" stroke-width="0.95" />
<line x1="362.9" y1="110.3" x2="366.3" y2="110.3" stroke="#4a4a4a" stroke-width="0.95" />
<line x1="362.9" y1="147.1" x2="366.3" y2="147.1" stroke="#4a4a4a" stroke-width="0.95" />
<line x1="361.2" y1="127.6" x2="361.2" y2="130" stroke="#4a4a4a" stroke-width="0.95" />
<line x1="368" y1="127.6" x2="368" y2="130" stroke="#4a4a4a" stroke-width="0.95" />
<circle cx="364.6" cy="128.8" r="1.75" fill="#fff" stroke="#222" stroke-width="0.8"/>
<line x1="368" y1="115.5" x2="374.8" y2="115.5" stroke="#4a4a4a" stroke-width="0.95" />
<line x1="371.4" y1="97.7" x2="371.4" y2="133.5" stroke="#4a4a4a" stroke-width="0.95" />
<line x1="369.7" y1="97.7" x2="373.1" y2="97.7" stroke="#4a4a4a" stroke-width="0.95" />
<line x1="369.7" y1="133.5" x2="373.1" y2="133.5" stroke="#4a4a4a" stroke-width="0.95" />
<line x1="368" y1="114.3" x2="368" y2="116.7" stroke="#4a4a4a" stroke-width="0.95" />
<line x1="374.8" y1="114.3" x2="374.8" y2="116.7" stroke="#4a4a4a" stroke-width="0.95" />
<circle cx="371.4" cy="115.5" r="1.75" fill="#fff" stroke="#222" stroke-width="0.8"/>
<line x1="374.7" y1="110.8" x2="381.5" y2="110.8" stroke="#4a4a4a" stroke-width="0.95" />
<line x1="378.1" y1="92.4" x2="378.1" y2="129.2" stroke="#4a4a4a" stroke-width="0.95" />
<line x1="376.4" y1="92.4" x2="379.8" y2="92.4" stroke="#4a4a4a" stroke-width="0.95" />
<line x1="376.4" y1="129.2" x2="379.8" y2="129.2" stroke="#4a4a4a" stroke-width="0.95" />
<line x1="374.7" y1="109.6" x2="374.7" y2="112" stroke="#4a4a4a" stroke-width="0.95" />
<line x1="381.5" y1="109.6" x2="381.5" y2="112" stroke="#4a4a4a" stroke-width="0.95" />
<circle cx="378.1" cy="110.8" r="1.75" fill="#fff" stroke="#222" stroke-width="0.8"/>
<line x1="381.3" y1="83.1" x2="388.1" y2="83.1" stroke="#4a4a4a" stroke-width="0.95" />
<line x1="384.7" y1="65.1" x2="384.7" y2="100.7" stroke="#4a4a4a" stroke-width="0.95" />
<line x1="383" y1="65.1" x2="386.4" y2="65.1" stroke="#4a4a4a" stroke-width="0.95" />
<line x1="383" y1="100.7" x2="386.4" y2="100.7" stroke="#4a4a4a" stroke-width="0.95" />
<line x1="381.3" y1="81.9" x2="381.3" y2="84.3" stroke="#4a4a4a" stroke-width="0.95" />
<line x1="388.1" y1="81.9" x2="388.1" y2="84.3" stroke="#4a4a4a" stroke-width="0.95" />
<circle cx="384.7" cy="83.1" r="1.75" fill="#fff" stroke="#222" stroke-width="0.8"/>
<line x1="387.9" y1="146" x2="394.7" y2="146" stroke="#4a4a4a" stroke-width="0.95" />
<line x1="391.3" y1="128.8" x2="391.3" y2="163.3" stroke="#4a4a4a" stroke-width="0.95" />
<line x1="389.6" y1="128.8" x2="393" y2="128.8" stroke="#4a4a4a" stroke-width="0.95" />
<line x1="389.6" y1="163.3" x2="393" y2="163.3" stroke="#4a4a4a" stroke-width="0.95" />
<line x1="387.9" y1="144.8" x2="387.9" y2="147.2" stroke="#4a4a4a" stroke-width="0.95" />
<line x1="394.7" y1="144.8" x2="394.7" y2="147.2" stroke="#4a4a4a" stroke-width="0.95" />
<circle cx="391.3" cy="146" r="1.75" fill="#fff" stroke="#222" stroke-width="0.8"/>
<line x1="394.3" y1="142.2" x2="401.1" y2="142.2" stroke="#4a4a4a" stroke-width="0.95" />
<line x1="397.7" y1="122.6" x2="397.7" y2="161.6" stroke="#4a4a4a" stroke-width="0.95" />
<line x1="396" y1="122.6" x2="399.4" y2="122.6" stroke="#4a4a4a" stroke-width="0.95" />
<line x1="396" y1="161.6" x2="399.4" y2="161.6" stroke="#4a4a4a" stroke-width="0.95" />
<line x1="394.3" y1="141" x2="394.3" y2="143.4" stroke="#4a4a4a" stroke-width="0.95" />
<line x1="401.1" y1="141" x2="401.1" y2="143.4" stroke="#4a4a4a" stroke-width="0.95" />
<circle cx="397.7" cy="142.2" r="1.75" fill="#fff" stroke="#222" stroke-width="0.8"/>
<line x1="400.8" y1="126.2" x2="407.6" y2="126.2" stroke="#4a4a4a" stroke-width="0.95" />
<line x1="404.2" y1="105.6" x2="404.2" y2="146.2" stroke="#4a4a4a" stroke-width="0.95" />
<line x1="402.5" y1="105.6" x2="405.9" y2="105.6" stroke="#4a4a4a" stroke-width="0.95" />
<line x1="402.5" y1="146.2" x2="405.9" y2="146.2" stroke="#4a4a4a" stroke-width="0.95" />
<line x1="400.8" y1="125" x2="400.8" y2="127.4" stroke="#4a4a4a" stroke-width="0.95" />
<line x1="407.6" y1="125" x2="407.6" y2="127.4" stroke="#4a4a4a" stroke-width="0.95" />
<circle cx="404.2" cy="126.2" r="1.75" fill="#fff" stroke="#222" stroke-width="0.8"/>
</g>
<rect x="36.6" y="31.2" width="382.8" height="195.8" fill="none" stroke="#484848" stroke-width="1.45"/>
<line x1="36.6" y1="227" x2="36.6" y2="223.5" stroke="#484848" stroke-width="0.8" />
<line x1="36.6" y1="31.2" x2="36.6" y2="34.7" stroke="#484848" stroke-width="0.8" />
<line x1="69.89" y1="227" x2="69.89" y2="223.5" stroke="#484848" stroke-width="0.8" />
<line x1="69.89" y1="31.2" x2="69.89" y2="34.7" stroke="#484848" stroke-width="0.8" />
<line x1="103.17" y1="227" x2="103.17" y2="223.5" stroke="#484848" stroke-width="0.8" />
<line x1="103.17" y1="31.2" x2="103.17" y2="34.7" stroke="#484848" stroke-width="0.8" />
<line x1="186.39" y1="227" x2="186.39" y2="223.5" stroke="#484848" stroke-width="0.8" />
<line x1="186.39" y1="31.2" x2="186.39" y2="34.7" stroke="#484848" stroke-width="0.8" />
<line x1="269.6" y1="227" x2="269.6" y2="223.5" stroke="#484848" stroke-width="0.8" />
<line x1="269.6" y1="31.2" x2="269.6" y2="34.7" stroke="#484848" stroke-width="0.8" />
<line x1="352.82" y1="227" x2="352.82" y2="223.5" stroke="#484848" stroke-width="0.8" />
<line x1="352.82" y1="31.2" x2="352.82" y2="34.7" stroke="#484848" stroke-width="0.8" />
<line x1="53.24" y1="227" x2="53.24" y2="225" stroke="#484848" stroke-width="0.6" />
<line x1="53.24" y1="31.2" x2="53.24" y2="33.2" stroke="#484848" stroke-width="0.6" />
<line x1="86.53" y1="227" x2="86.53" y2="225" stroke="#484848" stroke-width="0.6" />
<line x1="86.53" y1="31.2" x2="86.53" y2="33.2" stroke="#484848" stroke-width="0.6" />
<line x1="119.81" y1="227" x2="119.81" y2="225" stroke="#484848" stroke-width="0.6" />
<line x1="119.81" y1="31.2" x2="119.81" y2="33.2" stroke="#484848" stroke-width="0.6" />
<line x1="136.46" y1="227" x2="136.46" y2="225" stroke="#484848" stroke-width="0.6" />
<line x1="136.46" y1="31.2" x2="136.46" y2="33.2" stroke="#484848" stroke-width="0.6" />
<line x1="153.1" y1="227" x2="153.1" y2="225" stroke="#484848" stroke-width="0.6" />
<line x1="153.1" y1="31.2" x2="153.1" y2="33.2" stroke="#484848" stroke-width="0.6" />
<line x1="169.74" y1="227" x2="169.74" y2="225" stroke="#484848" stroke-width="0.6" />
<line x1="169.74" y1="31.2" x2="169.74" y2="33.2" stroke="#484848" stroke-width="0.6" />
<line x1="203.03" y1="227" x2="203.03" y2="225" stroke="#484848" stroke-width="0.6" />
<line x1="203.03" y1="31.2" x2="203.03" y2="33.2" stroke="#484848" stroke-width="0.6" />
<line x1="219.67" y1="227" x2="219.67" y2="225" stroke="#484848" stroke-width="0.6" />
<line x1="219.67" y1="31.2" x2="219.67" y2="33.2" stroke="#484848" stroke-width="0.6" />
<line x1="236.32" y1="227" x2="236.32" y2="225" stroke="#484848" stroke-width="0.6" />
<line x1="236.32" y1="31.2" x2="236.32" y2="33.2" stroke="#484848" stroke-width="0.6" />
<line x1="252.96" y1="227" x2="252.96" y2="225" stroke="#484848" stroke-width="0.6" />
<line x1="252.96" y1="31.2" x2="252.96" y2="33.2" stroke="#484848" stroke-width="0.6" />
<line x1="286.25" y1="227" x2="286.25" y2="225" stroke="#484848" stroke-width="0.6" />
<line x1="286.25" y1="31.2" x2="286.25" y2="33.2" stroke="#484848" stroke-width="0.6" />
<line x1="302.89" y1="227" x2="302.89" y2="225" stroke="#484848" stroke-width="0.6" />
<line x1="302.89" y1="31.2" x2="302.89" y2="33.2" stroke="#484848" stroke-width="0.6" />
<line x1="319.53" y1="227" x2="319.53" y2="225" stroke="#484848" stroke-width="0.6" />
<line x1="319.53" y1="31.2" x2="319.53" y2="33.2" stroke="#484848" stroke-width="0.6" />
<line x1="336.17" y1="227" x2="336.17" y2="225" stroke="#484848" stroke-width="0.6" />
<line x1="336.17" y1="31.2" x2="336.17" y2="33.2" stroke="#484848" stroke-width="0.6" />
<line x1="369.46" y1="227" x2="369.46" y2="225" stroke="#484848" stroke-width="0.6" />
<line x1="369.46" y1="31.2" x2="369.46" y2="33.2" stroke="#484848" stroke-width="0.6" />
<line x1="386.1" y1="227" x2="386.1" y2="225" stroke="#484848" stroke-width="0.6" />
<line x1="386.1" y1="31.2" x2="386.1" y2="33.2" stroke="#484848" stroke-width="0.6" />
<line x1="402.75" y1="227" x2="402.75" y2="225" stroke="#484848" stroke-width="0.6" />
<line x1="402.75" y1="31.2" x2="402.75" y2="33.2" stroke="#484848" stroke-width="0.6" />
<line x1="36.6" y1="227" x2="40.1" y2="227" stroke="#484848" stroke-width="0.8" />
<line x1="419.4" y1="227" x2="415.9" y2="227" stroke="#484848" stroke-width="0.8" />
<line x1="36.6" y1="206.9" x2="40.1" y2="206.9" stroke="#484848" stroke-width="0.8" />
<line x1="419.4" y1="206.9" x2="415.9" y2="206.9" stroke="#484848" stroke-width="0.8" />
<line x1="36.6" y1="186.8" x2="40.1" y2="186.8" stroke="#484848" stroke-width="0.8" />
<line x1="419.4" y1="186.8" x2="415.9" y2="186.8" stroke="#484848" stroke-width="0.8" />
<line x1="36.6" y1="166.7" x2="40.1" y2="166.7" stroke="#484848" stroke-width="0.8" />
<line x1="419.4" y1="166.7" x2="415.9" y2="166.7" stroke="#484848" stroke-width="0.8" />
<line x1="36.6" y1="146.6" x2="40.1" y2="146.6" stroke="#484848" stroke-width="0.8" />
<line x1="419.4" y1="146.6" x2="415.9" y2="146.6" stroke="#484848" stroke-width="0.8" />
<line x1="36.6" y1="126.5" x2="40.1" y2="126.5" stroke="#484848" stroke-width="0.8" />
<line x1="419.4" y1="126.5" x2="415.9" y2="126.5" stroke="#484848" stroke-width="0.8" />
<line x1="36.6" y1="106.4" x2="40.1" y2="106.4" stroke="#484848" stroke-width="0.8" />
<line x1="419.4" y1="106.4" x2="415.9" y2="106.4" stroke="#484848" stroke-width="0.8" />
<line x1="36.6" y1="86.3" x2="40.1" y2="86.3" stroke="#484848" stroke-width="0.8" />
<line x1="419.4" y1="86.3" x2="415.9" y2="86.3" stroke="#484848" stroke-width="0.8" />
<line x1="36.6" y1="66.2" x2="40.1" y2="66.2" stroke="#484848" stroke-width="0.8" />
<line x1="419.4" y1="66.2" x2="415.9" y2="66.2" stroke="#484848" stroke-width="0.8" />
<line x1="36.6" y1="46.1" x2="40.1" y2="46.1" stroke="#484848" stroke-width="0.8" />
<line x1="419.4" y1="46.1" x2="415.9" y2="46.1" stroke="#484848" stroke-width="0.8" />
<line x1="36.6" y1="227" x2="38.4" y2="227" stroke="#484848" stroke-width="0.65" />
<line x1="419.4" y1="227" x2="417.6" y2="227" stroke="#484848" stroke-width="0.65" />
<line x1="36.6" y1="224.99" x2="38.4" y2="224.99" stroke="#484848" stroke-width="0.65" />
<line x1="419.4" y1="224.99" x2="417.6" y2="224.99" stroke="#484848" stroke-width="0.65" />
<line x1="36.6" y1="222.98" x2="38.4" y2="222.98" stroke="#484848" stroke-width="0.65" />
<line x1="419.4" y1="222.98" x2="417.6" y2="222.98" stroke="#484848" stroke-width="0.65" />
<line x1="36.6" y1="220.97" x2="38.4" y2="220.97" stroke="#484848" stroke-width="0.65" />
<line x1="419.4" y1="220.97" x2="417.6" y2="220.97" stroke="#484848" stroke-width="0.65" />
<line x1="36.6" y1="218.96" x2="38.4" y2="218.96" stroke="#484848" stroke-width="0.65" />
<line x1="419.4" y1="218.96" x2="417.6" y2="218.96" stroke="#484848" stroke-width="0.65" />
<line x1="36.6" y1="216.95" x2="38.4" y2="216.95" stroke="#484848" stroke-width="0.65" />
<line x1="419.4" y1="216.95" x2="417.6" y2="216.95" stroke="#484848" stroke-width="0.65" />
<line x1="36.6" y1="214.94" x2="38.4" y2="214.94" stroke="#484848" stroke-width="0.65" />
<line x1="419.4" y1="214.94" x2="417.6" y2="214.94" stroke="#484848" stroke-width="0.65" />
<line x1="36.6" y1="212.93" x2="38.4" y2="212.93" stroke="#484848" stroke-width="0.65" />
<line x1="419.4" y1="212.93" x2="417.6" y2="212.93" stroke="#484848" stroke-width="0.65" />
<line x1="36.6" y1="210.92" x2="38.4" y2="210.92" stroke="#484848" stroke-width="0.65" />
<line x1="419.4" y1="210.92" x2="417.6" y2="210.92" stroke="#484848" stroke-width="0.65" />
<line x1="36.6" y1="208.91" x2="38.4" y2="208.91" stroke="#484848" stroke-width="0.65" />
<line x1="419.4" y1="208.91" x2="417.6" y2="208.91" stroke="#484848" stroke-width="0.65" />
<line x1="36.6" y1="206.9" x2="38.4" y2="206.9" stroke="#484848" stroke-width="0.65" />
<line x1="419.4" y1="206.9" x2="417.6" y2="206.9" stroke="#484848" stroke-width="0.65" />
<line x1="36.6" y1="204.89" x2="38.4" y2="204.89" stroke="#484848" stroke-width="0.65" />
<line x1="419.4" y1="204.89" x2="417.6" y2="204.89" stroke="#484848" stroke-width="0.65" />
<line x1="36.6" y1="202.88" x2="38.4" y2="202.88" stroke="#484848" stroke-width="0.65" />
<line x1="419.4" y1="202.88" x2="417.6" y2="202.88" stroke="#484848" stroke-width="0.65" />
<line x1="36.6" y1="200.87" x2="38.4" y2="200.87" stroke="#484848" stroke-width="0.65" />
<line x1="419.4" y1="200.87" x2="417.6" y2="200.87" stroke="#484848" stroke-width="0.65" />
<line x1="36.6" y1="198.86" x2="38.4" y2="198.86" stroke="#484848" stroke-width="0.65" />
<line x1="419.4" y1="198.86" x2="417.6" y2="198.86" stroke="#484848" stroke-width="0.65" />
<line x1="36.6" y1="196.85" x2="38.4" y2="196.85" stroke="#484848" stroke-width="0.65" />
<line x1="419.4" y1="196.85" x2="417.6" y2="196.85" stroke="#484848" stroke-width="0.65" />
<line x1="36.6" y1="194.84" x2="38.4" y2="194.84" stroke="#484848" stroke-width="0.65" />
<line x1="419.4" y1="194.84" x2="417.6" y2="194.84" stroke="#484848" stroke-width="0.65" />
<line x1="36.6" y1="192.83" x2="38.4" y2="192.83" stroke="#484848" stroke-width="0.65" />
<line x1="419.4" y1="192.83" x2="417.6" y2="192.83" stroke="#484848" stroke-width="0.65" />
<line x1="36.6" y1="190.82" x2="38.4" y2="190.82" stroke="#484848" stroke-width="0.65" />
<line x1="419.4" y1="190.82" x2="417.6" y2="190.82" stroke="#484848" stroke-width="0.65" />
<line x1="36.6" y1="188.81" x2="38.4" y2="188.81" stroke="#484848" stroke-width="0.65" />
<line x1="419.4" y1="188.81" x2="417.6" y2="188.81" stroke="#484848" stroke-width="0.65" />
<line x1="36.6" y1="186.8" x2="38.4" y2="186.8" stroke="#484848" stroke-width="0.65" />
<line x1="419.4" y1="186.8" x2="417.6" y2="186.8" stroke="#484848" stroke-width="0.65" />
<line x1="36.6" y1="184.79" x2="38.4" y2="184.79" stroke="#484848" stroke-width="0.65" />
<line x1="419.4" y1="184.79" x2="417.6" y2="184.79" stroke="#484848" stroke-width="0.65" />
<line x1="36.6" y1="182.78" x2="38.4" y2="182.78" stroke="#484848" stroke-width="0.65" />
<line x1="419.4" y1="182.78" x2="417.6" y2="182.78" stroke="#484848" stroke-width="0.65" />
<line x1="36.6" y1="180.77" x2="38.4" y2="180.77" stroke="#484848" stroke-width="0.65" />
<line x1="419.4" y1="180.77" x2="417.6" y2="180.77" stroke="#484848" stroke-width="0.65" />
<line x1="36.6" y1="178.76" x2="38.4" y2="178.76" stroke="#484848" stroke-width="0.65" />
<line x1="419.4" y1="178.76" x2="417.6" y2="178.76" stroke="#484848" stroke-width="0.65" />
<line x1="36.6" y1="176.75" x2="38.4" y2="176.75" stroke="#484848" stroke-width="0.65" />
<line x1="419.4" y1="176.75" x2="417.6" y2="176.75" stroke="#484848" stroke-width="0.65" />
<line x1="36.6" y1="174.74" x2="38.4" y2="174.74" stroke="#484848" stroke-width="0.65" />
<line x1="419.4" y1="174.74" x2="417.6" y2="174.74" stroke="#484848" stroke-width="0.65" />
<line x1="36.6" y1="172.73" x2="38.4" y2="172.73" stroke="#484848" stroke-width="0.65" />
<line x1="419.4" y1="172.73" x2="417.6" y2="172.73" stroke="#484848" stroke-width="0.65" />
<line x1="36.6" y1="170.72" x2="38.4" y2="170.72" stroke="#484848" stroke-width="0.65" />
<line x1="419.4" y1="170.72" x2="417.6" y2="170.72" stroke="#484848" stroke-width="0.65" />
<line x1="36.6" y1="168.71" x2="38.4" y2="168.71" stroke="#484848" stroke-width="0.65" />
<line x1="419.4" y1="168.71" x2="417.6" y2="168.71" stroke="#484848" stroke-width="0.65" />
<line x1="36.6" y1="166.7" x2="38.4" y2="166.7" stroke="#484848" stroke-width="0.65" />
<line x1="419.4" y1="166.7" x2="417.6" y2="166.7" stroke="#484848" stroke-width="0.65" />
<line x1="36.6" y1="164.69" x2="38.4" y2="164.69" stroke="#484848" stroke-width="0.65" />
<line x1="419.4" y1="164.69" x2="417.6" y2="164.69" stroke="#484848" stroke-width="0.65" />
<line x1="36.6" y1="162.68" x2="38.4" y2="162.68" stroke="#484848" stroke-width="0.65" />
<line x1="419.4" y1="162.68" x2="417.6" y2="162.68" stroke="#484848" stroke-width="0.65" />
<line x1="36.6" y1="160.67" x2="38.4" y2="160.67" stroke="#484848" stroke-width="0.65" />
<line x1="419.4" y1="160.67" x2="417.6" y2="160.67" stroke="#484848" stroke-width="0.65" />
<line x1="36.6" y1="158.66" x2="38.4" y2="158.66" stroke="#484848" stroke-width="0.65" />
<line x1="419.4" y1="158.66" x2="417.6" y2="158.66" stroke="#484848" stroke-width="0.65" />
<line x1="36.6" y1="156.65" x2="38.4" y2="156.65" stroke="#484848" stroke-width="0.65" />
<line x1="419.4" y1="156.65" x2="417.6" y2="156.65" stroke="#484848" stroke-width="0.65" />
<line x1="36.6" y1="154.64" x2="38.4" y2="154.64" stroke="#484848" stroke-width="0.65" />
<line x1="419.4" y1="154.64" x2="417.6" y2="154.64" stroke="#484848" stroke-width="0.65" />
<line x1="36.6" y1="152.63" x2="38.4" y2="152.63" stroke="#484848" stroke-width="0.65" />
<line x1="419.4" y1="152.63" x2="417.6" y2="152.63" stroke="#484848" stroke-width="0.65" />
<line x1="36.6" y1="150.62" x2="38.4" y2="150.62" stroke="#484848" stroke-width="0.65" />
<line x1="419.4" y1="150.62" x2="417.6" y2="150.62" stroke="#484848" stroke-width="0.65" />
<line x1="36.6" y1="148.61" x2="38.4" y2="148.61" stroke="#484848" stroke-width="0.65" />
<line x1="419.4" y1="148.61" x2="417.6" y2="148.61" stroke="#484848" stroke-width="0.65" />
<line x1="36.6" y1="146.6" x2="38.4" y2="146.6" stroke="#484848" stroke-width="0.65" />
<line x1="419.4" y1="146.6" x2="417.6" y2="146.6" stroke="#484848" stroke-width="0.65" />
<line x1="36.6" y1="144.59" x2="38.4" y2="144.59" stroke="#484848" stroke-width="0.65" />
<line x1="419.4" y1="144.59" x2="417.6" y2="144.59" stroke="#484848" stroke-width="0.65" />
<line x1="36.6" y1="142.58" x2="38.4" y2="142.58" stroke="#484848" stroke-width="0.65" />
<line x1="419.4" y1="142.58" x2="417.6" y2="142.58" stroke="#484848" stroke-width="0.65" />
<line x1="36.6" y1="140.57" x2="38.4" y2="140.57" stroke="#484848" stroke-width="0.65" />
<line x1="419.4" y1="140.57" x2="417.6" y2="140.57" stroke="#484848" stroke-width="0.65" />
<line x1="36.6" y1="138.56" x2="38.4" y2="138.56" stroke="#484848" stroke-width="0.65" />
<line x1="419.4" y1="138.56" x2="417.6" y2="138.56" stroke="#484848" stroke-width="0.65" />
<line x1="36.6" y1="136.55" x2="38.4" y2="136.55" stroke="#484848" stroke-width="0.65" />
<line x1="419.4" y1="136.55" x2="417.6" y2="136.55" stroke="#484848" stroke-width="0.65" />
<line x1="36.6" y1="134.54" x2="38.4" y2="134.54" stroke="#484848" stroke-width="0.65" />
<line x1="419.4" y1="134.54" x2="417.6" y2="134.54" stroke="#484848" stroke-width="0.65" />
<line x1="36.6" y1="132.53" x2="38.4" y2="132.53" stroke="#484848" stroke-width="0.65" />
<line x1="419.4" y1="132.53" x2="417.6" y2="132.53" stroke="#484848" stroke-width="0.65" />
<line x1="36.6" y1="130.52" x2="38.4" y2="130.52" stroke="#484848" stroke-width="0.65" />
<line x1="419.4" y1="130.52" x2="417.6" y2="130.52" stroke="#484848" stroke-width="0.65" />
<line x1="36.6" y1="128.51" x2="38.4" y2="128.51" stroke="#484848" stroke-width="0.65" />
<line x1="419.4" y1="128.51" x2="417.6" y2="128.51" stroke="#484848" stroke-width="0.65" />
<line x1="36.6" y1="126.5" x2="38.4" y2="126.5" stroke="#484848" stroke-width="0.65" />
<line x1="419.4" y1="126.5" x2="417.6" y2="126.5" stroke="#484848" stroke-width="0.65" />
<line x1="36.6" y1="124.49" x2="38.4" y2="124.49" stroke="#484848" stroke-width="0.65" />
<line x1="419.4" y1="124.49" x2="417.6" y2="124.49" stroke="#484848" stroke-width="0.65" />
<line x1="36.6" y1="122.48" x2="38.4" y2="122.48" stroke="#484848" stroke-width="0.65" />
<line x1="419.4" y1="122.48" x2="417.6" y2="122.48" stroke="#484848" stroke-width="0.65" />
<line x1="36.6" y1="120.47" x2="38.4" y2="120.47" stroke="#484848" stroke-width="0.65" />
<line x1="419.4" y1="120.47" x2="417.6" y2="120.47" stroke="#484848" stroke-width="0.65" />
<line x1="36.6" y1="118.46" x2="38.4" y2="118.46" stroke="#484848" stroke-width="0.65" />
<line x1="419.4" y1="118.46" x2="417.6" y2="118.46" stroke="#484848" stroke-width="0.65" />
<line x1="36.6" y1="116.45" x2="38.4" y2="116.45" stroke="#484848" stroke-width="0.65" />
<line x1="419.4" y1="116.45" x2="417.6" y2="116.45" stroke="#484848" stroke-width="0.65" />
<line x1="36.6" y1="114.44" x2="38.4" y2="114.44" stroke="#484848" stroke-width="0.65" />
<line x1="419.4" y1="114.44" x2="417.6" y2="114.44" stroke="#484848" stroke-width="0.65" />
<line x1="36.6" y1="112.43" x2="38.4" y2="112.43" stroke="#484848" stroke-width="0.65" />
<line x1="419.4" y1="112.43" x2="417.6" y2="112.43" stroke="#484848" stroke-width="0.65" />
<line x1="36.6" y1="110.42" x2="38.4" y2="110.42" stroke="#484848" stroke-width="0.65" />
<line x1="419.4" y1="110.42" x2="417.6" y2="110.42" stroke="#484848" stroke-width="0.65" />
<line x1="36.6" y1="108.41" x2="38.4" y2="108.41" stroke="#484848" stroke-width="0.65" />
<line x1="419.4" y1="108.41" x2="417.6" y2="108.41" stroke="#484848" stroke-width="0.65" />
<line x1="36.6" y1="106.4" x2="38.4" y2="106.4" stroke="#484848" stroke-width="0.65" />
<line x1="419.4" y1="106.4" x2="417.6" y2="106.4" stroke="#484848" stroke-width="0.65" />
<line x1="36.6" y1="104.39" x2="38.4" y2="104.39" stroke="#484848" stroke-width="0.65" />
<line x1="419.4" y1="104.39" x2="417.6" y2="104.39" stroke="#484848" stroke-width="0.65" />
<line x1="36.6" y1="102.38" x2="38.4" y2="102.38" stroke="#484848" stroke-width="0.65" />
<line x1="419.4" y1="102.38" x2="417.6" y2="102.38" stroke="#484848" stroke-width="0.65" />
<line x1="36.6" y1="100.37" x2="38.4" y2="100.37" stroke="#484848" stroke-width="0.65" />
<line x1="419.4" y1="100.37" x2="417.6" y2="100.37" stroke="#484848" stroke-width="0.65" />
<line x1="36.6" y1="98.36" x2="38.4" y2="98.36" stroke="#484848" stroke-width="0.65" />
<line x1="419.4" y1="98.36" x2="417.6" y2="98.36" stroke="#484848" stroke-width="0.65" />
<line x1="36.6" y1="96.35" x2="38.4" y2="96.35" stroke="#484848" stroke-width="0.65" />
<line x1="419.4" y1="96.35" x2="417.6" y2="96.35" stroke="#484848" stroke-width="0.65" />
<line x1="36.6" y1="94.34" x2="38.4" y2="94.34" stroke="#484848" stroke-width="0.65" />
<line x1="419.4" y1="94.34" x2="417.6" y2="94.34" stroke="#484848" stroke-width="0.65" />
<line x1="36.6" y1="92.33" x2="38.4" y2="92.33" stroke="#484848" stroke-width="0.65" />
<line x1="419.4" y1="92.33" x2="417.6" y2="92.33" stroke="#484848" stroke-width="0.65" />
<line x1="36.6" y1="90.32" x2="38.4" y2="90.32" stroke="#484848" stroke-width="0.65" />
<line x1="419.4" y1="90.32" x2="417.6" y2="90.32" stroke="#484848" stroke-width="0.65" />
<line x1="36.6" y1="88.31" x2="38.4" y2="88.31" stroke="#484848" stroke-width="0.65" />
<line x1="419.4" y1="88.31" x2="417.6" y2="88.31" stroke="#484848" stroke-width="0.65" />
<line x1="36.6" y1="86.3" x2="38.4" y2="86.3" stroke="#484848" stroke-width="0.65" />
<line x1="419.4" y1="86.3" x2="417.6" y2="86.3" stroke="#484848" stroke-width="0.65" />
<line x1="36.6" y1="84.29" x2="38.4" y2="84.29" stroke="#484848" stroke-width="0.65" />
<line x1="419.4" y1="84.29" x2="417.6" y2="84.29" stroke="#484848" stroke-width="0.65" />
<line x1="36.6" y1="82.28" x2="38.4" y2="82.28" stroke="#484848" stroke-width="0.65" />
<line x1="419.4" y1="82.28" x2="417.6" y2="82.28" stroke="#484848" stroke-width="0.65" />
<line x1="36.6" y1="80.27" x2="38.4" y2="80.27" stroke="#484848" stroke-width="0.65" />
<line x1="419.4" y1="80.27" x2="417.6" y2="80.27" stroke="#484848" stroke-width="0.65" />
<line x1="36.6" y1="78.26" x2="38.4" y2="78.26" stroke="#484848" stroke-width="0.65" />
<line x1="419.4" y1="78.26" x2="417.6" y2="78.26" stroke="#484848" stroke-width="0.65" />
<line x1="36.6" y1="76.25" x2="38.4" y2="76.25" stroke="#484848" stroke-width="0.65" />
<line x1="419.4" y1="76.25" x2="417.6" y2="76.25" stroke="#484848" stroke-width="0.65" />
<line x1="36.6" y1="74.24" x2="38.4" y2="74.24" stroke="#484848" stroke-width="0.65" />
<line x1="419.4" y1="74.24" x2="417.6" y2="74.24" stroke="#484848" stroke-width="0.65" />
<line x1="36.6" y1="72.23" x2="38.4" y2="72.23" stroke="#484848" stroke-width="0.65" />
<line x1="419.4" y1="72.23" x2="417.6" y2="72.23" stroke="#484848" stroke-width="0.65" />
<line x1="36.6" y1="70.22" x2="38.4" y2="70.22" stroke="#484848" stroke-width="0.65" />
<line x1="419.4" y1="70.22" x2="417.6" y2="70.22" stroke="#484848" stroke-width="0.65" />
<line x1="36.6" y1="68.21" x2="38.4" y2="68.21" stroke="#484848" stroke-width="0.65" />
<line x1="419.4" y1="68.21" x2="417.6" y2="68.21" stroke="#484848" stroke-width="0.65" />
<line x1="36.6" y1="66.2" x2="38.4" y2="66.2" stroke="#484848" stroke-width="0.65" />
<line x1="419.4" y1="66.2" x2="417.6" y2="66.2" stroke="#484848" stroke-width="0.65" />
<line x1="36.6" y1="64.19" x2="38.4" y2="64.19" stroke="#484848" stroke-width="0.65" />
<line x1="419.4" y1="64.19" x2="417.6" y2="64.19" stroke="#484848" stroke-width="0.65" />
<line x1="36.6" y1="62.18" x2="38.4" y2="62.18" stroke="#484848" stroke-width="0.65" />
<line x1="419.4" y1="62.18" x2="417.6" y2="62.18" stroke="#484848" stroke-width="0.65" />
<line x1="36.6" y1="60.17" x2="38.4" y2="60.17" stroke="#484848" stroke-width="0.65" />
<line x1="419.4" y1="60.17" x2="417.6" y2="60.17" stroke="#484848" stroke-width="0.65" />
<line x1="36.6" y1="58.16" x2="38.4" y2="58.16" stroke="#484848" stroke-width="0.65" />
<line x1="419.4" y1="58.16" x2="417.6" y2="58.16" stroke="#484848" stroke-width="0.65" />
<line x1="36.6" y1="56.15" x2="38.4" y2="56.15" stroke="#484848" stroke-width="0.65" />
<line x1="419.4" y1="56.15" x2="417.6" y2="56.15" stroke="#484848" stroke-width="0.65" />
<line x1="36.6" y1="54.14" x2="38.4" y2="54.14" stroke="#484848" stroke-width="0.65" />
<line x1="419.4" y1="54.14" x2="417.6" y2="54.14" stroke="#484848" stroke-width="0.65" />
<line x1="36.6" y1="52.13" x2="38.4" y2="52.13" stroke="#484848" stroke-width="0.65" />
<line x1="419.4" y1="52.13" x2="417.6" y2="52.13" stroke="#484848" stroke-width="0.65" />
<line x1="36.6" y1="50.12" x2="38.4" y2="50.12" stroke="#484848" stroke-width="0.65" />
<line x1="419.4" y1="50.12" x2="417.6" y2="50.12" stroke="#484848" stroke-width="0.65" />
<line x1="36.6" y1="48.11" x2="38.4" y2="48.11" stroke="#484848" stroke-width="0.65" />
<line x1="419.4" y1="48.11" x2="417.6" y2="48.11" stroke="#484848" stroke-width="0.65" />
<line x1="36.6" y1="46.1" x2="38.4" y2="46.1" stroke="#484848" stroke-width="0.65" />
<line x1="419.4" y1="46.1" x2="417.6" y2="46.1" stroke="#484848" stroke-width="0.65" />
<line x1="36.6" y1="44.09" x2="38.4" y2="44.09" stroke="#484848" stroke-width="0.65" />
<line x1="419.4" y1="44.09" x2="417.6" y2="44.09" stroke="#484848" stroke-width="0.65" />
<line x1="36.6" y1="42.08" x2="38.4" y2="42.08" stroke="#484848" stroke-width="0.65" />
<line x1="419.4" y1="42.08" x2="417.6" y2="42.08" stroke="#484848" stroke-width="0.65" />
<line x1="36.6" y1="40.07" x2="38.4" y2="40.07" stroke="#484848" stroke-width="0.65" />
<line x1="419.4" y1="40.07" x2="417.6" y2="40.07" stroke="#484848" stroke-width="0.65" />
<line x1="36.6" y1="38.06" x2="38.4" y2="38.06" stroke="#484848" stroke-width="0.65" />
<line x1="419.4" y1="38.06" x2="417.6" y2="38.06" stroke="#484848" stroke-width="0.65" />
<line x1="36.6" y1="36.05" x2="38.4" y2="36.05" stroke="#484848" stroke-width="0.65" />
<line x1="419.4" y1="36.05" x2="417.6" y2="36.05" stroke="#484848" stroke-width="0.65" />
<line x1="36.6" y1="34.04" x2="38.4" y2="34.04" stroke="#484848" stroke-width="0.65" />
<line x1="419.4" y1="34.04" x2="417.6" y2="34.04" stroke="#484848" stroke-width="0.65" />
<line x1="36.6" y1="32.03" x2="38.4" y2="32.03" stroke="#484848" stroke-width="0.65" />
<line x1="419.4" y1="32.03" x2="417.6" y2="32.03" stroke="#484848" stroke-width="0.65" />
<text x="19.05" y="229.9" font-size="10" text-anchor="start" textLength="14.69" lengthAdjust="spacingAndGlyphs" fill="#000" stroke-width="0.14" >5.2</text>
<text x="18.72" y="209.8" font-size="10" text-anchor="start" textLength="14.74" lengthAdjust="spacingAndGlyphs" fill="#000" stroke-width="0.14" >5.6</text>
<text x="18.75" y="189.7" font-size="10" text-anchor="start" textLength="14.79" lengthAdjust="spacingAndGlyphs" fill="#000" stroke-width="0.14" >6.0</text>
<text x="18.61" y="169.6" font-size="10" text-anchor="start" textLength="14.66" lengthAdjust="spacingAndGlyphs" fill="#000" stroke-width="0.14" >6.4</text>
<text x="18.75" y="149.5" font-size="10" text-anchor="start" textLength="14.79" lengthAdjust="spacingAndGlyphs" fill="#000" stroke-width="0.14" >6.8</text>
<text x="18.96" y="129.4" font-size="10" text-anchor="start" textLength="14.79" lengthAdjust="spacingAndGlyphs" fill="#000" stroke-width="0.14" >7.2</text>
<text x="18.63" y="109.3" font-size="10" text-anchor="start" textLength="14.83" lengthAdjust="spacingAndGlyphs" fill="#000" stroke-width="0.14" >7.6</text>
<text x="18.81" y="89.2" font-size="10" text-anchor="start" textLength="14.73" lengthAdjust="spacingAndGlyphs" fill="#000" stroke-width="0.14" >8.0</text>
<text x="18.67" y="69.1" font-size="10" text-anchor="start" textLength="14.6" lengthAdjust="spacingAndGlyphs" fill="#000" stroke-width="0.14" >8.4</text>
<text x="18.81" y="49" font-size="10" text-anchor="start" textLength="14.73" lengthAdjust="spacingAndGlyphs" fill="#000" stroke-width="0.14" >8.8</text>
<text x="29.21" y="237.2" font-size="10" text-anchor="start" textLength="14.69" lengthAdjust="spacingAndGlyphs" fill="#000" stroke-width="0.14" >0.6</text>
<text x="62.51" y="237.2" font-size="10" text-anchor="start" textLength="14.76" lengthAdjust="spacingAndGlyphs" fill="#000" stroke-width="0.14" >0.8</text>
<text x="100.52" y="237.2" font-size="10" text-anchor="start" textLength="5.02" lengthAdjust="spacingAndGlyphs" fill="#000" stroke-width="0.14" >1</text>
<text x="178.74" y="237.2" font-size="10" text-anchor="start" textLength="14.73" lengthAdjust="spacingAndGlyphs" fill="#000" stroke-width="0.14" >1.5</text>
<text x="266.87" y="237.2" font-size="10" text-anchor="start" textLength="5.58" lengthAdjust="spacingAndGlyphs" fill="#000" stroke-width="0.14" >2</text>
<text x="345.41" y="237.2" font-size="10" text-anchor="start" textLength="14.75" lengthAdjust="spacingAndGlyphs" fill="#000" stroke-width="0.14" >2.5</text>
<text x="176.1" y="251.6" font-size="13.5" text-anchor="start" textLength="103.35" lengthAdjust="spacingAndGlyphs" fill="#000" stroke-width="0.12" >Wavelength (μm)</text>
<g transform="translate(10.8,129.1) rotate(-90)"><text x="0" y="0" font-size="13.8" stroke-width="0.12" text-anchor="middle" textLength="141" lengthAdjust="spacingAndGlyphs">Transit Depth (<tspan font-style="italic">R</tspan><tspan font-style="italic" font-size="9" dy="2.5">p</tspan><tspan dy="-2.5">/</tspan><tspan font-style="italic">R</tspan><tspan font-size="9" dy="2.5">*</tspan><tspan dy="-2.5">)</tspan><tspan font-size="9" dy="-5">2</tspan></text></g>
<text x="36.49" y="29.9" font-size="11.6" text-anchor="start" textLength="7.1" lengthAdjust="spacingAndGlyphs" fill="#000" stroke-width="0.14" >×</text>
<text x="43.65" y="28.3" font-size="9.6" text-anchor="start" textLength="10.86" lengthAdjust="spacingAndGlyphs" fill="#000" stroke-width="0.14" >10</text>
<text x="55.24" y="25.5" font-size="7.6" text-anchor="start" textLength="9.82" lengthAdjust="spacingAndGlyphs" fill="#000" stroke-width="0.08" >−3</text>
<text x="43.86" y="47.8" font-size="12.3" text-anchor="start" textLength="81.78" lengthAdjust="spacingAndGlyphs" fill="#000" stroke-width="0.12" >TRAPPIST-1b</text>
<text x="47.97" y="58.7" font-size="11" text-anchor="start" textLength="33.69" lengthAdjust="spacingAndGlyphs" fill="#000" stroke-width="0.14" >Visit 1</text>
<line x1="274.9" y1="40.9" x2="285.9" y2="40.9" stroke="#ffa54a" stroke-width="1.6" />
<line x1="274.9" y1="52.2" x2="285.9" y2="52.2" stroke="#b44fc4" stroke-width="1.6" />
<line x1="271.4" y1="63.4" x2="279.4" y2="63.4" stroke="#5e5e5e" stroke-width="1" />
<line x1="275.4" y1="59.3" x2="275.4" y2="67.5" stroke="#5e5e5e" stroke-width="1" />
<line x1="274" y1="59.3" x2="276.8" y2="59.3" stroke="#5e5e5e" stroke-width="1" />
<line x1="274" y1="67.5" x2="276.8" y2="67.5" stroke="#5e5e5e" stroke-width="1" />
<line x1="271.4" y1="61.9" x2="271.4" y2="64.9" stroke="#5e5e5e" stroke-width="1" />
<line x1="279.4" y1="61.9" x2="279.4" y2="64.9" stroke="#5e5e5e" stroke-width="1" />
<circle cx="275.4" cy="63.4" r="1.6" fill="#fff" stroke="#555" stroke-width="0.8"/>
<line x1="281.8" y1="63.4" x2="289.8" y2="63.4" stroke="#5e5e5e" stroke-width="1" />
<line x1="285.8" y1="59.3" x2="285.8" y2="67.5" stroke="#5e5e5e" stroke-width="1" />
<line x1="284.4" y1="59.3" x2="287.2" y2="59.3" stroke="#5e5e5e" stroke-width="1" />
<line x1="284.4" y1="67.5" x2="287.2" y2="67.5" stroke="#5e5e5e" stroke-width="1" />
<line x1="281.8" y1="61.9" x2="281.8" y2="64.9" stroke="#5e5e5e" stroke-width="1" />
<line x1="289.8" y1="61.9" x2="289.8" y2="64.9" stroke="#5e5e5e" stroke-width="1" />
<circle cx="285.8" cy="63.4" r="1.6" fill="#fff" stroke="#555" stroke-width="0.8"/>
<text x="293.74" y="43.8" font-size="8.4" text-anchor="start" textLength="60.98" lengthAdjust="spacingAndGlyphs" fill="#000" stroke-width="0.14" >Stellar Contam.</text>
<text x="293.74" y="55.3" font-size="8.4" text-anchor="start" textLength="118.89" lengthAdjust="spacingAndGlyphs" fill="#000" stroke-width="0.14" >Stellar Contam. + Atmosphere</text>
<text x="294.13" y="65.7" font-size="8.4" text-anchor="start" textLength="52.83" lengthAdjust="spacingAndGlyphs" fill="#000" stroke-width="0.14" >NIRISS SOSS</text>
<g clip-path="url(#cb)">
<polygon points="36.6,394.1 41,398 45.2,394.6 50.8,392.4 56,393 57.8,396 58.5,467 56.8,465.7 54.9,459.2 52.3,435.7 49.7,461.8 47.7,465 45.7,463.1 43.1,466 40.5,467 36.6,464.4" fill="#e6cdea" />
<polygon points="36.6,395.8 40.7,399.1 45.2,396.3 50.8,393 55,393 57.5,396 58.5,405 58.5,467 56.8,465.7 54.9,459.2 52.3,435.7 49.7,461.8 47.7,465 45.7,463.1 43.1,466 40.5,467 36.6,464.4" fill="#e5b8bb" />
<polygon points="36.6,411.4 40.7,409.2 45.2,414.2 48.6,411.4 51.9,407 55,404 57.5,405 58.5,412 58.5,449 56.8,447.4 54.9,439.6 52.9,430.4 51,440.9 48.4,446 44.4,448.1 39.2,448.1 36.6,446.1" fill="#b04b85" />
<polyline points="36.6,430 40.5,431 44.4,432.4 48,427 51,424.5 54.9,422 58.2,429.1" fill="none" stroke="#ff8c00" stroke-width="1.2" stroke-linejoin="round" />
<polyline points="36.6,428.2 39.5,427 43.4,430.8 47,426 50.6,421.5 52.5,418 54.7,420.4 57.5,429.4" fill="none" stroke="#86087c" stroke-width="1.6" stroke-linejoin="round" />
<polyline points="36.6,447.5 39.2,449 44.4,449 48.4,447 51,442" fill="none" stroke="#ff8c00" stroke-width="1" stroke-linejoin="round" opacity="0.8"/>
<polygon points="59.2,412 61.6,385 64,410" fill="#e5b8bb" />
<polygon points="60,408 61.7,393 63.4,406" fill="#b04b85" />
<defs><linearGradient id="spB" x1="0" y1="0" x2="0" y2="1"><stop offset="0" stop-color="#86087c"/><stop offset="0.35" stop-color="#86087c"/><stop offset="0.6" stop-color="#b04b85"/><stop offset="0.85" stop-color="#e5b8bb"/><stop offset="1" stop-color="#f6e0e3"/></linearGradient></defs>
<polygon points="63.2,440 66.2,440 65.1,484.5 64.3,484.5" fill="url(#spB)" />
<polyline points="57.5,429.4 59,418 60.8,402 62,399.7 63.2,412 64.2,432 64.7,442" fill="none" stroke="#e5b8bb" stroke-width="4.2" stroke-linejoin="round" stroke-linecap="round"/>
<polyline points="57.5,429.4 59,418 60.8,402 62,399.7 63.2,412 64.2,432 64.7,442" fill="none" stroke="#b04b85" stroke-width="3" stroke-linejoin="round" stroke-linecap="round"/>
<polyline points="57.5,429.4 59,418 60.8,402 62,399.7 63.2,412 64.2,432 64.7,442" fill="none" stroke="#86087c" stroke-width="2" stroke-linejoin="round" stroke-linecap="round"/>
<polygon points="65.8,408 68.5,388 70.5,378 72.4,375.6 74.5,378 76.5,395 78.2,408 80.5,390 81.5,385 85,380.4 88,377 90.6,376 93.5,374.5 96.2,372.7 98.3,372 101.1,375 103.9,378.4 107,376 109.5,373.5 111.6,374.9 114.2,373.7 118.4,370 122.6,369.5 126.8,369.3 131,369.3 135.3,369.5 139.5,370 143.7,370 147.9,369.5 152.1,369 156.3,369.3 160.5,370 164.7,370.6 168.9,371.1 173.2,371.6 177.4,371.1 181.6,370 185.8,369.5 190,369.3 195.3,369.07 200.5,368.24 205.8,367.31 211,366.58 216.3,366.74 221.6,367.41 226.8,367.58 232.1,367.85 237.4,368.42 242.6,368.69 247.9,368.85 253.2,368.1 258.4,366.7 263.7,366.2 270,366.7 280.5,366.6 291.1,365.6 301.6,365.1 312.1,365.1 322.6,366.1 333.2,367.4 343.7,368.2 350.5,367.69 361,366.59 371.6,365.38 382.1,363.6 392.6,363.6 403.2,364.2 413.7,364.4 420,364.4 420,379.9 413.7,379.9 403.2,379.7 392.6,379.1 382.1,379.1 371.6,380.16 361,380.46 350.5,380.66 343.7,380.69 333.2,379.77 322.6,378.35 312.1,377.23 301.6,377.12 291.1,377.51 280.5,378.41 270,378.4 263.7,377.84 258.4,378.28 253.2,379.63 247.9,380.3 242.6,380 237.4,379.6 232.1,378.9 226.8,378.5 221.6,378.2 216.3,377.4 211,377.1 205.8,377.7 200.5,378.5 195.3,379.2 190,379.3 185.8,379.55 181.6,380.11 177.4,381.26 173.2,381.81 168.9,381.36 164.7,380.92 160.5,380.37 156.3,379.72 152.1,379.47 147.9,380.03 143.7,380.58 139.5,380.63 135.3,380.18 131,380.04 126.8,380.09 122.6,380.34 118.4,380.89 114.2,384.65 111.6,385.88 109.5,390 107,396 103.9,405.6 101.1,398 98.3,390 96.2,390.3 93.5,394 90.6,399 88,402 85,407.6 81.5,410 80.5,420 78.2,436 76.5,424 74.5,408 72.4,402 70.5,410 68.5,425 65.8,450" fill="#e6cdea" />
<polygon points="65.8,410 68.5,390 70.5,380 72.4,377.6 74.5,380 76.5,397 78.2,410 80.5,392 81.5,387 85,382.4 88,379 90.6,378 93.5,376.5 96.2,374.7 98.3,374 101.1,377 103.9,380.4 107,378 109.5,375.5 111.6,375.61 114.2,374.42 118.4,370.73 122.6,370.25 126.8,370.06 131,370.08 135.3,370.29 139.5,370.81 143.7,370.83 147.9,370.34 152.1,369.86 156.3,370.17 160.5,370.89 164.7,371.51 168.9,372.02 173.2,372.54 177.4,372.05 181.6,370.97 185.8,370.48 190,370.3 195.3,370.2 200.5,369.5 205.8,368.7 211,368.1 216.3,368.4 221.6,369.2 226.8,369.5 232.1,369.9 237.4,370.6 242.6,371 247.9,371.3 253.2,370.57 258.4,369.12 263.7,368.56 270,369 280.5,368.8 291.1,367.69 301.6,367.1 312.1,367.1 322.6,368.1 333.2,369.4 343.7,370.2 350.5,369.84 361,369.04 371.6,368.14 382.1,366.6 392.6,366.6 403.2,367.2 413.7,367.4 420,367.4 420,382.4 413.7,382.32 403.2,381.99 392.6,381.26 382.1,381.13 371.6,381.8 361,381.64 350.5,381.39 343.7,381.17 333.2,380.14 322.6,378.6 312.1,377.37 301.6,377.14 291.1,377.51 280.5,378.41 270,378.4 263.7,377.84 258.4,378.28 253.2,379.63 247.9,380.3 242.6,380 237.4,379.6 232.1,378.9 226.8,378.5 221.6,378.2 216.3,377.4 211,377.1 205.8,377.7 200.5,378.5 195.3,379.2 190,379.3 185.8,379.55 181.6,380.11 177.4,381.26 173.2,381.81 168.9,381.36 164.7,380.92 160.5,380.37 156.3,379.72 152.1,379.47 147.9,380.03 143.7,380.58 139.5,380.63 135.3,380.18 131,380.04 126.8,380.09 122.6,380.34 118.4,380.89 114.2,384.65 111.6,385.88 109.5,390 107,396 103.9,405.6 101.1,398 98.3,390 96.2,390.3 93.5,394 90.6,399 88,402 85,407.6 81.5,410 80.5,420 78.2,436 76.5,424 74.5,408 72.4,402 70.5,410 68.5,425 65.8,450" fill="#fbd3b0" />
<polygon points="65.8,410 68.5,390 70.5,380 72.4,377.6 74.5,380 76.5,397 78.2,410 80.5,392 81.5,387 85,382.4 88,379 90.6,378 93.5,376.5 96.2,374.7 98.3,374 101.1,377 103.9,380.4 107,378 109.5,375.5 111.6,375.61 114.2,374.42 118.4,370.73 122.6,370.25 126.8,370.06 131,370.08 135.3,370.29 139.5,370.81 143.7,370.83 147.9,370.34 152.1,369.86 156.3,370.17 160.5,370.89 164.7,371.51 168.9,372.02 173.2,372.54 177.4,372.05 181.6,370.97 185.8,370.48 190,370.3 195.3,370.2 200.5,369.5 205.8,368.7 211,368.1 216.3,368.4 221.6,369.2 226.8,369.5 232.1,369.9 237.4,370.6 242.6,371 247.9,371.3 253.2,370.57 258.4,369.12 263.7,368.56 270,369 280.5,368.8 291.1,367.69 301.6,367.1 312.1,367.1 322.6,368.1 333.2,369.4 343.7,370.2 350.5,369.84 361,369.04 371.6,368.14 382.1,366.6 392.6,366.6 403.2,367.2 413.7,367.4 420,367.4 420,379.9 413.7,379.9 403.2,379.7 392.6,379.1 382.1,379.1 371.6,380.16 361,380.46 350.5,380.66 343.7,380.69 333.2,379.77 322.6,378.35 312.1,377.23 301.6,377.12 291.1,377.51 280.5,378.41 270,378.4 263.7,377.84 258.4,378.28 253.2,379.63 247.9,380.3 242.6,380 237.4,379.6 232.1,378.9 226.8,378.5 221.6,378.2 216.3,377.4 211,377.1 205.8,377.7 200.5,378.5 195.3,379.2 190,379.3 185.8,379.55 181.6,380.11 177.4,381.26 173.2,381.81 168.9,381.36 164.7,380.92 160.5,380.37 156.3,379.72 152.1,379.47 147.9,380.03 143.7,380.58 139.5,380.63 135.3,380.18 131,380.04 126.8,380.09 122.6,380.34 118.4,380.89 114.2,384.65 111.6,385.88 109.5,390 107,396 103.9,405.6 101.1,398 98.3,390 96.2,390.3 93.5,394 90.6,399 88,402 85,407.6 81.5,410 80.5,420 78.2,436 76.5,424 74.5,408 72.4,402 70.5,410 68.5,425 65.8,450" fill="#e5b8bb" />
<polygon points="65.8,420 68.5,395 70.5,384 72.4,381.8 74.5,386 76.5,403 78.2,417 80.5,398 81.5,391 85,389 88,385 90.6,382.5 93.5,379.5 96.2,376.8 98.3,376 101.1,381 103.9,385.5 107,381.5 109.5,378.5 111.6,378.1 114.2,376.91 118.4,373.21 122.6,372.72 126.8,372.52 131,372.53 135.3,372.73 139.5,373.24 143.7,373.24 147.9,372.75 152.1,372.25 156.3,372.56 160.5,373.26 164.7,373.87 168.9,374.37 173.2,374.88 177.4,374.38 181.6,373.29 185.8,372.79 190,372.6 195.3,372.5 200.5,371.8 205.8,371 211,370.4 216.3,370.7 221.6,371.5 226.8,371.8 232.1,372.2 237.4,372.9 242.6,373.3 247.9,373.6 253.2,372.89 258.4,371.47 263.7,370.95 270,371.42 280.5,371.28 291.1,370.24 301.6,369.7 312.1,369.67 322.6,370.65 333.2,371.93 343.7,372.7 350.5,372.42 361,371.77 371.6,371.02 382.1,369.6 392.6,369.6 403.2,370.2 413.7,370.4 420,370.4 420,376.4 413.7,376.4 403.2,376.2 392.6,375.6 382.1,375.6 371.6,376.85 361,377.39 350.5,377.83 343.7,377.99 333.2,377.15 322.6,375.8 312.1,374.75 301.6,374.71 291.1,375.16 280.5,376.12 270,376.18 263.7,375.65 258.4,376.13 253.2,377.51 247.9,378.19 242.6,377.88 237.4,377.46 232.1,376.74 226.8,376.32 221.6,376.01 216.3,375.19 211,374.87 205.8,375.45 200.5,376.24 195.3,376.92 190,377 185.8,377.22 181.6,377.73 177.4,378.85 173.2,379.36 168.9,378.88 164.7,378.39 160.5,377.81 156.3,377.13 152.1,376.84 147.9,377.36 143.7,377.87 139.5,377.89 135.3,377.41 131,377.22 126.8,377.24 122.6,377.45 118.4,377.97 114.2,381.68 111.6,382.89 109.5,384.5 107,388 103.9,393 101.1,389 98.3,383 96.2,383.8 93.5,388 90.6,392 88,395 85,399.9 81.5,402 80.5,410 78.2,428 76.5,414 74.5,398 72.4,392 70.5,400 68.5,415 65.8,445" fill="#b04b85" />
<polyline points="65.4,439.2 67,420 68.5,405 70.5,392 72.4,386 74,391 75.5,400 77,415 78.2,423.5 80,408 81.5,395.8 85,395 88,391 90.6,387.3 93.5,383 96.2,378.9 98.3,378.3 101.1,384.6 103.9,389.5 107,384 109.5,381.5 111.6,379.9 114.2,378.69 118.4,374.99 122.6,374.48 126.8,374.28 131,374.27 135.3,374.47 139.5,374.96 143.7,374.96 147.9,374.45 152.1,373.95 156.3,374.24 160.5,374.94 164.7,375.53 168.9,376.03 173.2,376.52 177.4,376.02 181.6,374.91 185.8,374.41 190,374.2 195.3,374.06 200.5,373.33 205.8,372.49 211,371.86 216.3,372.12 221.6,372.89 226.8,373.15 232.1,373.52 237.4,374.18 242.6,374.55 247.9,374.81 253.2,374.07 258.4,372.62 263.7,372.06 270,372.5 280.5,372.3 291.1,371.19 301.6,370.64 312.1,370.87 322.6,372.1 333.2,373.64 343.7,374.67 350.5,374.97 361,375.37 371.6,375.68 382.1,375.1 392.6,375.1 403.2,375.7 413.7,375.9 420,375.9" fill="none" stroke="#ff8c00" stroke-width="1.2" stroke-linejoin="round" />
<polyline points="65.4,439.2 67,420 68.5,405 70.5,392 72.4,386 74,391 75.5,400 77,415 78.2,423.5 80,408 81.5,395.8 85,395 88,391 90.6,387.3 93.5,383 96.2,378.9 98.3,378.3 101.1,384.6 103.9,389.5 107,384 109.5,381.5 111.6,380.4 114.2,379.2 118.4,375.5 122.6,375 126.8,374.8 131,374.8 135.3,375 139.5,375.5 143.7,375.5 147.9,375 152.1,374.5 156.3,374.8 160.5,375.5 164.7,376.1 168.9,376.6 173.2,377.1 177.4,376.6 181.6,375.5 185.8,375 190,374.8 195.3,374.7 200.5,374 205.8,373.2 211,372.6 216.3,372.9 221.6,373.7 226.8,374 232.1,374.4 237.4,375.1 242.6,375.5 247.9,375.8 253.2,375.1 258.4,373.7 263.7,373.2 270,373.7 280.5,373.6 291.1,372.6 301.6,372.1 312.1,372.1 322.6,373.1 333.2,374.4 343.7,375.2 350.5,375 361,374.5 371.6,373.9 382.1,372.6 392.6,372.6 403.2,373.2 413.7,373.4 420,373.4" fill="none" stroke="#86087c" stroke-width="1.6" stroke-linejoin="round" />
<polygon points="253.2,375.1 258.4,372.68 263.7,370.59 270,369.2 280.5,367.6 291.1,366.6 301.6,366.1 312.1,366.1 322.6,367.1 333.2,368.4 343.7,372.27 350.5,374.47 350.5,374.95 343.7,374.91 333.2,373.8 322.6,372.5 312.1,371.5 301.6,371.5 291.1,372 280.5,373 270,373.25 263.7,372.94 258.4,373.6 253.2,375.1" fill="#f3b27a" opacity="0.9"/>
<polygon points="253.2,375.1 258.4,373.05 263.7,371.55 270,370.85 280.5,369.8 291.1,368.8 301.6,368.3 312.1,368.3 322.6,369.3 333.2,370.6 343.7,373.34 350.5,374.66 350.5,374.95 343.7,374.91 333.2,373.8 322.6,372.5 312.1,371.5 301.6,371.5 291.1,372 280.5,373 270,373.25 263.7,372.94 258.4,373.6 253.2,375.1" fill="#ef9a4e" opacity="0.8"/>
<polygon points="253.2,375.1 258.4,374.11 263.7,374.24 270,375.5 280.5,376 291.1,375 301.6,374.5 312.1,374.5 322.6,375.5 333.2,376.8 343.7,376.37 350.5,375.21 350.5,375.51 343.7,378.03 333.2,380.2 322.6,378.9 312.1,377.9 301.6,377.9 291.1,378.4 280.5,379.4 270,378.05 263.7,375.72 258.4,374.69 253.2,375.1" fill="#dcb8e4" />
<polyline points="253.2,375.1 258.4,373.46 263.7,372.59 270,372.65 280.5,372.2 291.1,371.2 301.6,370.7 312.1,370.7 322.6,371.7 333.2,373 343.7,374.52 350.5,374.88" fill="none" stroke="#ff8c00" stroke-width="1.1" stroke-linejoin="round" />
<polyline points="253.2,375.1 258.4,373.7 263.7,373.2 270,373.7 280.5,373.6 291.1,372.6 301.6,372.1 312.1,372.1 322.6,373.1 333.2,374.4 343.7,375.2 350.5,375" fill="none" stroke="#86087c" stroke-width="1.6" stroke-linejoin="round" />
<line x1="36" y1="405" x2="72.8" y2="405" stroke="#4a4a4a" stroke-width="0.95" />
<line x1="54.9" y1="387.4" x2="54.9" y2="422.6" stroke="#4a4a4a" stroke-width="0.95" />
<line x1="53.2" y1="387.4" x2="56.6" y2="387.4" stroke="#4a4a4a" stroke-width="0.95" />
<line x1="53.2" y1="422.6" x2="56.6" y2="422.6" stroke="#4a4a4a" stroke-width="0.95" />
<line x1="36" y1="403.7" x2="36" y2="406.3" stroke="#4a4a4a" stroke-width="0.95" />
<line x1="72.8" y1="403.7" x2="72.8" y2="406.3" stroke="#4a4a4a" stroke-width="0.95" />
<circle cx="54.9" cy="405" r="1.75" fill="#fff" stroke="#222" stroke-width="0.8"/>
<line x1="78" y1="395.8" x2="90.5" y2="395.8" stroke="#4a4a4a" stroke-width="0.95" />
<line x1="84.2" y1="384" x2="84.2" y2="409" stroke="#4a4a4a" stroke-width="0.95" />
<line x1="82.5" y1="384" x2="85.9" y2="384" stroke="#4a4a4a" stroke-width="0.95" />
<line x1="82.5" y1="409" x2="85.9" y2="409" stroke="#4a4a4a" stroke-width="0.95" />
<line x1="78" y1="394.5" x2="78" y2="397.1" stroke="#4a4a4a" stroke-width="0.95" />
<line x1="90.5" y1="394.5" x2="90.5" y2="397.1" stroke="#4a4a4a" stroke-width="0.95" />
<circle cx="84.2" cy="395.8" r="1.75" fill="#fff" stroke="#222" stroke-width="0.8"/>
<line x1="90" y1="403.2" x2="96.8" y2="403.2" stroke="#4a4a4a" stroke-width="0.95" />
<line x1="93.4" y1="394.5" x2="93.4" y2="411.6" stroke="#4a4a4a" stroke-width="0.95" />
<line x1="91.7" y1="394.5" x2="95.1" y2="394.5" stroke="#4a4a4a" stroke-width="0.95" />
<line x1="91.7" y1="411.6" x2="95.1" y2="411.6" stroke="#4a4a4a" stroke-width="0.95" />
<line x1="90" y1="402" x2="90" y2="404.4" stroke="#4a4a4a" stroke-width="0.95" />
<line x1="96.8" y1="402" x2="96.8" y2="404.4" stroke="#4a4a4a" stroke-width="0.95" />
<circle cx="93.4" cy="403.2" r="1.75" fill="#fff" stroke="#222" stroke-width="0.8"/>
<line x1="96.3" y1="384.7" x2="103.1" y2="384.7" stroke="#4a4a4a" stroke-width="0.95" />
<line x1="99.7" y1="377.4" x2="99.7" y2="394.5" stroke="#4a4a4a" stroke-width="0.95" />
<line x1="98" y1="377.4" x2="101.4" y2="377.4" stroke="#4a4a4a" stroke-width="0.95" />
<line x1="98" y1="394.5" x2="101.4" y2="394.5" stroke="#4a4a4a" stroke-width="0.95" />
<line x1="96.3" y1="383.5" x2="96.3" y2="385.9" stroke="#4a4a4a" stroke-width="0.95" />
<line x1="103.1" y1="383.5" x2="103.1" y2="385.9" stroke="#4a4a4a" stroke-width="0.95" />
<circle cx="99.7" cy="384.7" r="1.75" fill="#fff" stroke="#222" stroke-width="0.8"/>
<line x1="103.1" y1="381.3" x2="109.9" y2="381.3" stroke="#4a4a4a" stroke-width="0.95" />
<line x1="106.5" y1="371.6" x2="106.5" y2="391" stroke="#4a4a4a" stroke-width="0.95" />
<line x1="104.8" y1="371.6" x2="108.2" y2="371.6" stroke="#4a4a4a" stroke-width="0.95" />
<line x1="104.8" y1="391" x2="108.2" y2="391" stroke="#4a4a4a" stroke-width="0.95" />
<line x1="103.1" y1="380.1" x2="103.1" y2="382.5" stroke="#4a4a4a" stroke-width="0.95" />
<line x1="109.9" y1="380.1" x2="109.9" y2="382.5" stroke="#4a4a4a" stroke-width="0.95" />
<circle cx="106.5" cy="381.3" r="1.75" fill="#fff" stroke="#222" stroke-width="0.8"/>
<line x1="109.7" y1="391" x2="116.5" y2="391" stroke="#4a4a4a" stroke-width="0.95" />
<line x1="113.1" y1="384" x2="113.1" y2="398.4" stroke="#4a4a4a" stroke-width="0.95" />
<line x1="111.4" y1="384" x2="114.8" y2="384" stroke="#4a4a4a" stroke-width="0.95" />
<line x1="111.4" y1="398.4" x2="114.8" y2="398.4" stroke="#4a4a4a" stroke-width="0.95" />
<line x1="109.7" y1="389.8" x2="109.7" y2="392.2" stroke="#4a4a4a" stroke-width="0.95" />
<line x1="116.5" y1="389.8" x2="116.5" y2="392.2" stroke="#4a4a4a" stroke-width="0.95" />
<circle cx="113.1" cy="391" r="1.75" fill="#fff" stroke="#222" stroke-width="0.8"/>
<line x1="116.3" y1="379" x2="123.1" y2="379" stroke="#4a4a4a" stroke-width="0.95" />
<line x1="119.7" y1="371.6" x2="119.7" y2="386.6" stroke="#4a4a4a" stroke-width="0.95" />
<line x1="118" y1="371.6" x2="121.4" y2="371.6" stroke="#4a4a4a" stroke-width="0.95" />
<line x1="118" y1="386.6" x2="121.4" y2="386.6" stroke="#4a4a4a" stroke-width="0.95" />
<line x1="116.3" y1="377.8" x2="116.3" y2="380.2" stroke="#4a4a4a" stroke-width="0.95" />
<line x1="123.1" y1="377.8" x2="123.1" y2="380.2" stroke="#4a4a4a" stroke-width="0.95" />
<circle cx="119.7" cy="379" r="1.75" fill="#fff" stroke="#222" stroke-width="0.8"/>
<line x1="122.9" y1="382.6" x2="129.7" y2="382.6" stroke="#4a4a4a" stroke-width="0.95" />
<line x1="126.3" y1="375.3" x2="126.3" y2="390" stroke="#4a4a4a" stroke-width="0.95" />
<line x1="124.6" y1="375.3" x2="128" y2="375.3" stroke="#4a4a4a" stroke-width="0.95" />
<line x1="124.6" y1="390" x2="128" y2="390" stroke="#4a4a4a" stroke-width="0.95" />
<line x1="122.9" y1="381.4" x2="122.9" y2="383.8" stroke="#4a4a4a" stroke-width="0.95" />
<line x1="129.7" y1="381.4" x2="129.7" y2="383.8" stroke="#4a4a4a" stroke-width="0.95" />
<circle cx="126.3" cy="382.6" r="1.75" fill="#fff" stroke="#222" stroke-width="0.8"/>
<line x1="129.7" y1="393.6" x2="136.5" y2="393.6" stroke="#4a4a4a" stroke-width="0.95" />
<line x1="133.1" y1="385.8" x2="133.1" y2="401" stroke="#4a4a4a" stroke-width="0.95" />
<line x1="131.4" y1="385.8" x2="134.8" y2="385.8" stroke="#4a4a4a" stroke-width="0.95" />
<line x1="131.4" y1="401" x2="134.8" y2="401" stroke="#4a4a4a" stroke-width="0.95" />
<line x1="129.7" y1="392.4" x2="129.7" y2="394.8" stroke="#4a4a4a" stroke-width="0.95" />
<line x1="136.5" y1="392.4" x2="136.5" y2="394.8" stroke="#4a4a4a" stroke-width="0.95" />
<circle cx="133.1" cy="393.6" r="1.75" fill="#fff" stroke="#222" stroke-width="0.8"/>
<line x1="136.4" y1="378" x2="143.2" y2="378" stroke="#4a4a4a" stroke-width="0.95" />
<line x1="139.8" y1="371.3" x2="139.8" y2="384.7" stroke="#4a4a4a" stroke-width="0.95" />
<line x1="138.1" y1="371.3" x2="141.5" y2="371.3" stroke="#4a4a4a" stroke-width="0.95" />
<line x1="138.1" y1="384.7" x2="141.5" y2="384.7" stroke="#4a4a4a" stroke-width="0.95" />
<line x1="136.4" y1="376.8" x2="136.4" y2="379.2" stroke="#4a4a4a" stroke-width="0.95" />
<line x1="143.2" y1="376.8" x2="143.2" y2="379.2" stroke="#4a4a4a" stroke-width="0.95" />
<circle cx="139.8" cy="378" r="1.75" fill="#fff" stroke="#222" stroke-width="0.8"/>
<line x1="143" y1="381.6" x2="149.8" y2="381.6" stroke="#4a4a4a" stroke-width="0.95" />
<line x1="146.4" y1="374.2" x2="146.4" y2="388.4" stroke="#4a4a4a" stroke-width="0.95" />
<line x1="144.7" y1="374.2" x2="148.1" y2="374.2" stroke="#4a4a4a" stroke-width="0.95" />
<line x1="144.7" y1="388.4" x2="148.1" y2="388.4" stroke="#4a4a4a" stroke-width="0.95" />
<line x1="143" y1="380.4" x2="143" y2="382.8" stroke="#4a4a4a" stroke-width="0.95" />
<line x1="149.8" y1="380.4" x2="149.8" y2="382.8" stroke="#4a4a4a" stroke-width="0.95" />
<circle cx="146.4" cy="381.6" r="1.75" fill="#fff" stroke="#222" stroke-width="0.8"/>
<line x1="149.3" y1="380" x2="156.1" y2="380" stroke="#4a4a4a" stroke-width="0.95" />
<line x1="152.7" y1="373.4" x2="152.7" y2="387.4" stroke="#4a4a4a" stroke-width="0.95" />
<line x1="151" y1="373.4" x2="154.4" y2="373.4" stroke="#4a4a4a" stroke-width="0.95" />
<line x1="151" y1="387.4" x2="154.4" y2="387.4" stroke="#4a4a4a" stroke-width="0.95" />
<line x1="149.3" y1="378.8" x2="149.3" y2="381.2" stroke="#4a4a4a" stroke-width="0.95" />
<line x1="156.1" y1="378.8" x2="156.1" y2="381.2" stroke="#4a4a4a" stroke-width="0.95" />
<circle cx="152.7" cy="380" r="1.75" fill="#fff" stroke="#222" stroke-width="0.8"/>
<line x1="156" y1="371.6" x2="162.8" y2="371.6" stroke="#4a4a4a" stroke-width="0.95" />
<line x1="159.4" y1="364.7" x2="159.4" y2="378.7" stroke="#4a4a4a" stroke-width="0.95" />
<line x1="157.7" y1="364.7" x2="161.1" y2="364.7" stroke="#4a4a4a" stroke-width="0.95" />
<line x1="157.7" y1="378.7" x2="161.1" y2="378.7" stroke="#4a4a4a" stroke-width="0.95" />
<line x1="156" y1="370.4" x2="156" y2="372.8" stroke="#4a4a4a" stroke-width="0.95" />
<line x1="162.8" y1="370.4" x2="162.8" y2="372.8" stroke="#4a4a4a" stroke-width="0.95" />
<circle cx="159.4" cy="371.6" r="1.75" fill="#fff" stroke="#222" stroke-width="0.8"/>
<line x1="162.6" y1="384.4" x2="169.4" y2="384.4" stroke="#4a4a4a" stroke-width="0.95" />
<line x1="166" y1="376.8" x2="166" y2="392.6" stroke="#4a4a4a" stroke-width="0.95" />
<line x1="164.3" y1="376.8" x2="167.7" y2="376.8" stroke="#4a4a4a" stroke-width="0.95" />
<line x1="164.3" y1="392.6" x2="167.7" y2="392.6" stroke="#4a4a4a" stroke-width="0.95" />
<line x1="162.6" y1="383.2" x2="162.6" y2="385.6" stroke="#4a4a4a" stroke-width="0.95" />
<line x1="169.4" y1="383.2" x2="169.4" y2="385.6" stroke="#4a4a4a" stroke-width="0.95" />
<circle cx="166" cy="384.4" r="1.75" fill="#fff" stroke="#222" stroke-width="0.8"/>
<line x1="169.2" y1="380" x2="176" y2="380" stroke="#4a4a4a" stroke-width="0.95" />
<line x1="172.6" y1="373" x2="172.6" y2="386" stroke="#4a4a4a" stroke-width="0.95" />
<line x1="170.9" y1="373" x2="174.3" y2="373" stroke="#4a4a4a" stroke-width="0.95" />
<line x1="170.9" y1="386" x2="174.3" y2="386" stroke="#4a4a4a" stroke-width="0.95" />
<line x1="169.2" y1="378.8" x2="169.2" y2="381.2" stroke="#4a4a4a" stroke-width="0.95" />
<line x1="176" y1="378.8" x2="176" y2="381.2" stroke="#4a4a4a" stroke-width="0.95" />
<circle cx="172.6" cy="380" r="1.75" fill="#fff" stroke="#222" stroke-width="0.8"/>
<line x1="175.9" y1="377.4" x2="182.7" y2="377.4" stroke="#4a4a4a" stroke-width="0.95" />
<line x1="179.3" y1="371" x2="179.3" y2="384" stroke="#4a4a4a" stroke-width="0.95" />
<line x1="177.6" y1="371" x2="181" y2="371" stroke="#4a4a4a" stroke-width="0.95" />
<line x1="177.6" y1="384" x2="181" y2="384" stroke="#4a4a4a" stroke-width="0.95" />
<line x1="175.9" y1="376.2" x2="175.9" y2="378.6" stroke="#4a4a4a" stroke-width="0.95" />
<line x1="182.7" y1="376.2" x2="182.7" y2="378.6" stroke="#4a4a4a" stroke-width="0.95" />
<circle cx="179.3" cy="377.4" r="1.75" fill="#fff" stroke="#222" stroke-width="0.8"/>
<line x1="182.6" y1="374.8" x2="189.4" y2="374.8" stroke="#4a4a4a" stroke-width="0.95" />
<line x1="186" y1="368" x2="186" y2="381.5" stroke="#4a4a4a" stroke-width="0.95" />
<line x1="184.3" y1="368" x2="187.7" y2="368" stroke="#4a4a4a" stroke-width="0.95" />
<line x1="184.3" y1="381.5" x2="187.7" y2="381.5" stroke="#4a4a4a" stroke-width="0.95" />
<line x1="182.6" y1="373.6" x2="182.6" y2="376" stroke="#4a4a4a" stroke-width="0.95" />
<line x1="189.4" y1="373.6" x2="189.4" y2="376" stroke="#4a4a4a" stroke-width="0.95" />
<circle cx="186" cy="374.8" r="1.75" fill="#fff" stroke="#222" stroke-width="0.8"/>
<line x1="189.2" y1="373.8" x2="196" y2="373.8" stroke="#4a4a4a" stroke-width="0.95" />
<line x1="192.6" y1="367.5" x2="192.6" y2="381" stroke="#4a4a4a" stroke-width="0.95" />
<line x1="190.9" y1="367.5" x2="194.3" y2="367.5" stroke="#4a4a4a" stroke-width="0.95" />
<line x1="190.9" y1="381" x2="194.3" y2="381" stroke="#4a4a4a" stroke-width="0.95" />
<line x1="189.2" y1="372.6" x2="189.2" y2="375" stroke="#4a4a4a" stroke-width="0.95" />
<line x1="196" y1="372.6" x2="196" y2="375" stroke="#4a4a4a" stroke-width="0.95" />
<circle cx="192.6" cy="373.8" r="1.75" fill="#fff" stroke="#222" stroke-width="0.8"/>
<line x1="195.9" y1="376.8" x2="202.7" y2="376.8" stroke="#4a4a4a" stroke-width="0.95" />
<line x1="199.3" y1="370" x2="199.3" y2="384" stroke="#4a4a4a" stroke-width="0.95" />
<line x1="197.6" y1="370" x2="201" y2="370" stroke="#4a4a4a" stroke-width="0.95" />
<line x1="197.6" y1="384" x2="201" y2="384" stroke="#4a4a4a" stroke-width="0.95" />
<line x1="195.9" y1="375.6" x2="195.9" y2="378" stroke="#4a4a4a" stroke-width="0.95" />
<line x1="202.7" y1="375.6" x2="202.7" y2="378" stroke="#4a4a4a" stroke-width="0.95" />
<circle cx="199.3" cy="376.8" r="1.75" fill="#fff" stroke="#222" stroke-width="0.8"/>
<line x1="202.4" y1="372.3" x2="209.2" y2="372.3" stroke="#4a4a4a" stroke-width="0.95" />
<line x1="205.8" y1="365.5" x2="205.8" y2="379" stroke="#4a4a4a" stroke-width="0.95" />
<line x1="204.1" y1="365.5" x2="207.5" y2="365.5" stroke="#4a4a4a" stroke-width="0.95" />
<line x1="204.1" y1="379" x2="207.5" y2="379" stroke="#4a4a4a" stroke-width="0.95" />
<line x1="202.4" y1="371.1" x2="202.4" y2="373.5" stroke="#4a4a4a" stroke-width="0.95" />
<line x1="209.2" y1="371.1" x2="209.2" y2="373.5" stroke="#4a4a4a" stroke-width="0.95" />
<circle cx="205.8" cy="372.3" r="1.75" fill="#fff" stroke="#222" stroke-width="0.8"/>
<line x1="209" y1="363.7" x2="215.8" y2="363.7" stroke="#4a4a4a" stroke-width="0.95" />
<line x1="212.4" y1="356.3" x2="212.4" y2="370.8" stroke="#4a4a4a" stroke-width="0.95" />
<line x1="210.7" y1="356.3" x2="214.1" y2="356.3" stroke="#4a4a4a" stroke-width="0.95" />
<line x1="210.7" y1="370.8" x2="214.1" y2="370.8" stroke="#4a4a4a" stroke-width="0.95" />
<line x1="209" y1="362.5" x2="209" y2="364.9" stroke="#4a4a4a" stroke-width="0.95" />
<line x1="215.8" y1="362.5" x2="215.8" y2="364.9" stroke="#4a4a4a" stroke-width="0.95" />
<circle cx="212.4" cy="363.7" r="1.75" fill="#fff" stroke="#222" stroke-width="0.8"/>
<line x1="215.7" y1="369.5" x2="222.5" y2="369.5" stroke="#4a4a4a" stroke-width="0.95" />
<line x1="219.1" y1="363" x2="219.1" y2="376" stroke="#4a4a4a" stroke-width="0.95" />
<line x1="217.4" y1="363" x2="220.8" y2="363" stroke="#4a4a4a" stroke-width="0.95" />
<line x1="217.4" y1="376" x2="220.8" y2="376" stroke="#4a4a4a" stroke-width="0.95" />
<line x1="215.7" y1="368.3" x2="215.7" y2="370.7" stroke="#4a4a4a" stroke-width="0.95" />
<line x1="222.5" y1="368.3" x2="222.5" y2="370.7" stroke="#4a4a4a" stroke-width="0.95" />
<circle cx="219.1" cy="369.5" r="1.75" fill="#fff" stroke="#222" stroke-width="0.8"/>
<line x1="222.3" y1="370.8" x2="229.1" y2="370.8" stroke="#4a4a4a" stroke-width="0.95" />
<line x1="225.7" y1="364" x2="225.7" y2="378" stroke="#4a4a4a" stroke-width="0.95" />
<line x1="224" y1="364" x2="227.4" y2="364" stroke="#4a4a4a" stroke-width="0.95" />
<line x1="224" y1="378" x2="227.4" y2="378" stroke="#4a4a4a" stroke-width="0.95" />
<line x1="222.3" y1="369.6" x2="222.3" y2="372" stroke="#4a4a4a" stroke-width="0.95" />
<line x1="229.1" y1="369.6" x2="229.1" y2="372" stroke="#4a4a4a" stroke-width="0.95" />
<circle cx="225.7" cy="370.8" r="1.75" fill="#fff" stroke="#222" stroke-width="0.8"/>
<line x1="228.9" y1="366.6" x2="235.7" y2="366.6" stroke="#4a4a4a" stroke-width="0.95" />
<line x1="232.3" y1="360" x2="232.3" y2="373.5" stroke="#4a4a4a" stroke-width="0.95" />
<line x1="230.6" y1="360" x2="234" y2="360" stroke="#4a4a4a" stroke-width="0.95" />
<line x1="230.6" y1="373.5" x2="234" y2="373.5" stroke="#4a4a4a" stroke-width="0.95" />
<line x1="228.9" y1="365.4" x2="228.9" y2="367.8" stroke="#4a4a4a" stroke-width="0.95" />
<line x1="235.7" y1="365.4" x2="235.7" y2="367.8" stroke="#4a4a4a" stroke-width="0.95" />
<circle cx="232.3" cy="366.6" r="1.75" fill="#fff" stroke="#222" stroke-width="0.8"/>
<line x1="235.6" y1="368.9" x2="242.4" y2="368.9" stroke="#4a4a4a" stroke-width="0.95" />
<line x1="239" y1="361.6" x2="239" y2="376.1" stroke="#4a4a4a" stroke-width="0.95" />
<line x1="237.3" y1="361.6" x2="240.7" y2="361.6" stroke="#4a4a4a" stroke-width="0.95" />
<line x1="237.3" y1="376.1" x2="240.7" y2="376.1" stroke="#4a4a4a" stroke-width="0.95" />
<line x1="235.6" y1="367.7" x2="235.6" y2="370.1" stroke="#4a4a4a" stroke-width="0.95" />
<line x1="242.4" y1="367.7" x2="242.4" y2="370.1" stroke="#4a4a4a" stroke-width="0.95" />
<circle cx="239" cy="368.9" r="1.75" fill="#fff" stroke="#222" stroke-width="0.8"/>
<line x1="242.2" y1="381.2" x2="249" y2="381.2" stroke="#4a4a4a" stroke-width="0.95" />
<line x1="245.6" y1="370.8" x2="245.6" y2="392.4" stroke="#4a4a4a" stroke-width="0.95" />
<line x1="243.9" y1="370.8" x2="247.3" y2="370.8" stroke="#4a4a4a" stroke-width="0.95" />
<line x1="243.9" y1="392.4" x2="247.3" y2="392.4" stroke="#4a4a4a" stroke-width="0.95" />
<line x1="242.2" y1="380" x2="242.2" y2="382.4" stroke="#4a4a4a" stroke-width="0.95" />
<line x1="249" y1="380" x2="249" y2="382.4" stroke="#4a4a4a" stroke-width="0.95" />
<circle cx="245.6" cy="381.2" r="1.75" fill="#fff" stroke="#222" stroke-width="0.8"/>
<line x1="248.8" y1="378.4" x2="255.6" y2="378.4" stroke="#4a4a4a" stroke-width="0.95" />
<line x1="252.2" y1="368.2" x2="252.2" y2="388.4" stroke="#4a4a4a" stroke-width="0.95" />
<line x1="250.5" y1="368.2" x2="253.9" y2="368.2" stroke="#4a4a4a" stroke-width="0.95" />
<line x1="250.5" y1="388.4" x2="253.9" y2="388.4" stroke="#4a4a4a" stroke-width="0.95" />
<line x1="248.8" y1="377.2" x2="248.8" y2="379.6" stroke="#4a4a4a" stroke-width="0.95" />
<line x1="255.6" y1="377.2" x2="255.6" y2="379.6" stroke="#4a4a4a" stroke-width="0.95" />
<circle cx="252.2" cy="378.4" r="1.75" fill="#fff" stroke="#222" stroke-width="0.8"/>
<line x1="255.4" y1="372.3" x2="262.2" y2="372.3" stroke="#4a4a4a" stroke-width="0.95" />
<line x1="258.8" y1="361.6" x2="258.8" y2="382.6" stroke="#4a4a4a" stroke-width="0.95" />
<line x1="257.1" y1="361.6" x2="260.5" y2="361.6" stroke="#4a4a4a" stroke-width="0.95" />
<line x1="257.1" y1="382.6" x2="260.5" y2="382.6" stroke="#4a4a4a" stroke-width="0.95" />
<line x1="255.4" y1="371.1" x2="255.4" y2="373.5" stroke="#4a4a4a" stroke-width="0.95" />
<line x1="262.2" y1="371.1" x2="262.2" y2="373.5" stroke="#4a4a4a" stroke-width="0.95" />
<circle cx="258.8" cy="372.3" r="1.75" fill="#fff" stroke="#222" stroke-width="0.8"/>
<line x1="262.1" y1="387.3" x2="268.9" y2="387.3" stroke="#4a4a4a" stroke-width="0.95" />
<line x1="265.5" y1="378.7" x2="265.5" y2="396.3" stroke="#4a4a4a" stroke-width="0.95" />
<line x1="263.8" y1="378.7" x2="267.2" y2="378.7" stroke="#4a4a4a" stroke-width="0.95" />
<line x1="263.8" y1="396.3" x2="267.2" y2="396.3" stroke="#4a4a4a" stroke-width="0.95" />
<line x1="262.1" y1="386.1" x2="262.1" y2="388.5" stroke="#4a4a4a" stroke-width="0.95" />
<line x1="268.9" y1="386.1" x2="268.9" y2="388.5" stroke="#4a4a4a" stroke-width="0.95" />
<circle cx="265.5" cy="387.3" r="1.75" fill="#fff" stroke="#222" stroke-width="0.8"/>
<line x1="268.5" y1="373.6" x2="275.3" y2="373.6" stroke="#4a4a4a" stroke-width="0.95" />
<line x1="271.9" y1="366.8" x2="271.9" y2="380" stroke="#4a4a4a" stroke-width="0.95" />
<line x1="270.2" y1="366.8" x2="273.6" y2="366.8" stroke="#4a4a4a" stroke-width="0.95" />
<line x1="270.2" y1="380" x2="273.6" y2="380" stroke="#4a4a4a" stroke-width="0.95" />
<line x1="268.5" y1="372.4" x2="268.5" y2="374.8" stroke="#4a4a4a" stroke-width="0.95" />
<line x1="275.3" y1="372.4" x2="275.3" y2="374.8" stroke="#4a4a4a" stroke-width="0.95" />
<circle cx="271.9" cy="373.6" r="1.75" fill="#fff" stroke="#222" stroke-width="0.8"/>
<line x1="275.2" y1="375.3" x2="282" y2="375.3" stroke="#4a4a4a" stroke-width="0.95" />
<line x1="278.6" y1="368.2" x2="278.6" y2="382.6" stroke="#4a4a4a" stroke-width="0.95" />
<line x1="276.9" y1="368.2" x2="280.3" y2="368.2" stroke="#4a4a4a" stroke-width="0.95" />
<line x1="276.9" y1="382.6" x2="280.3" y2="382.6" stroke="#4a4a4a" stroke-width="0.95" />
<line x1="275.2" y1="374.1" x2="275.2" y2="376.5" stroke="#4a4a4a" stroke-width="0.95" />
<line x1="282" y1="374.1" x2="282" y2="376.5" stroke="#4a4a4a" stroke-width="0.95" />
<circle cx="278.6" cy="375.3" r="1.75" fill="#fff" stroke="#222" stroke-width="0.8"/>
<line x1="281.9" y1="362.2" x2="288.7" y2="362.2" stroke="#4a4a4a" stroke-width="0.95" />
<line x1="285.3" y1="354.2" x2="285.3" y2="370.8" stroke="#4a4a4a" stroke-width="0.95" />
<line x1="283.6" y1="354.2" x2="287" y2="354.2" stroke="#4a4a4a" stroke-width="0.95" />
<line x1="283.6" y1="370.8" x2="287" y2="370.8" stroke="#4a4a4a" stroke-width="0.95" />
<line x1="281.9" y1="361" x2="281.9" y2="363.4" stroke="#4a4a4a" stroke-width="0.95" />
<line x1="288.7" y1="361" x2="288.7" y2="363.4" stroke="#4a4a4a" stroke-width="0.95" />
<circle cx="285.3" cy="362.2" r="1.75" fill="#fff" stroke="#222" stroke-width="0.8"/>
<line x1="288.5" y1="372.4" x2="295.3" y2="372.4" stroke="#4a4a4a" stroke-width="0.95" />
<line x1="291.9" y1="365.5" x2="291.9" y2="380" stroke="#4a4a4a" stroke-width="0.95" />
<line x1="290.2" y1="365.5" x2="293.6" y2="365.5" stroke="#4a4a4a" stroke-width="0.95" />
<line x1="290.2" y1="380" x2="293.6" y2="380" stroke="#4a4a4a" stroke-width="0.95" />
<line x1="288.5" y1="371.2" x2="288.5" y2="373.6" stroke="#4a4a4a" stroke-width="0.95" />
<line x1="295.3" y1="371.2" x2="295.3" y2="373.6" stroke="#4a4a4a" stroke-width="0.95" />
<circle cx="291.9" cy="372.4" r="1.75" fill="#fff" stroke="#222" stroke-width="0.8"/>
<line x1="295" y1="370.5" x2="301.8" y2="370.5" stroke="#4a4a4a" stroke-width="0.95" />
<line x1="298.4" y1="360.3" x2="298.4" y2="380" stroke="#4a4a4a" stroke-width="0.95" />
<line x1="296.7" y1="360.3" x2="300.1" y2="360.3" stroke="#4a4a4a" stroke-width="0.95" />
<line x1="296.7" y1="380" x2="300.1" y2="380" stroke="#4a4a4a" stroke-width="0.95" />
<line x1="295" y1="369.3" x2="295" y2="371.7" stroke="#4a4a4a" stroke-width="0.95" />
<line x1="301.8" y1="369.3" x2="301.8" y2="371.7" stroke="#4a4a4a" stroke-width="0.95" />
<circle cx="298.4" cy="370.5" r="1.75" fill="#fff" stroke="#222" stroke-width="0.8"/>
<line x1="301.8" y1="370.5" x2="308.6" y2="370.5" stroke="#4a4a4a" stroke-width="0.95" />
<line x1="305.2" y1="362.9" x2="305.2" y2="378.7" stroke="#4a4a4a" stroke-width="0.95" />
<line x1="303.5" y1="362.9" x2="306.9" y2="362.9" stroke="#4a4a4a" stroke-width="0.95" />
<line x1="303.5" y1="378.7" x2="306.9" y2="378.7" stroke="#4a4a4a" stroke-width="0.95" />
<line x1="301.8" y1="369.3" x2="301.8" y2="371.7" stroke="#4a4a4a" stroke-width="0.95" />
<line x1="308.6" y1="369.3" x2="308.6" y2="371.7" stroke="#4a4a4a" stroke-width="0.95" />
<circle cx="305.2" cy="370.5" r="1.75" fill="#fff" stroke="#222" stroke-width="0.8"/>
<line x1="308.5" y1="358.6" x2="315.3" y2="358.6" stroke="#4a4a4a" stroke-width="0.95" />
<line x1="311.9" y1="351.6" x2="311.9" y2="365.5" stroke="#4a4a4a" stroke-width="0.95" />
<line x1="310.2" y1="351.6" x2="313.6" y2="351.6" stroke="#4a4a4a" stroke-width="0.95" />
<line x1="310.2" y1="365.5" x2="313.6" y2="365.5" stroke="#4a4a4a" stroke-width="0.95" />
<line x1="308.5" y1="357.4" x2="308.5" y2="359.8" stroke="#4a4a4a" stroke-width="0.95" />
<line x1="315.3" y1="357.4" x2="315.3" y2="359.8" stroke="#4a4a4a" stroke-width="0.95" />
<circle cx="311.9" cy="358.6" r="1.75" fill="#fff" stroke="#222" stroke-width="0.8"/>
<line x1="315" y1="369.7" x2="321.8" y2="369.7" stroke="#4a4a4a" stroke-width="0.95" />
<line x1="318.4" y1="359.5" x2="318.4" y2="379.2" stroke="#4a4a4a" stroke-width="0.95" />
<line x1="316.7" y1="359.5" x2="320.1" y2="359.5" stroke="#4a4a4a" stroke-width="0.95" />
<line x1="316.7" y1="379.2" x2="320.1" y2="379.2" stroke="#4a4a4a" stroke-width="0.95" />
<line x1="315" y1="368.5" x2="315" y2="370.9" stroke="#4a4a4a" stroke-width="0.95" />
<line x1="321.8" y1="368.5" x2="321.8" y2="370.9" stroke="#4a4a4a" stroke-width="0.95" />
<circle cx="318.4" cy="369.7" r="1.75" fill="#fff" stroke="#222" stroke-width="0.8"/>
<line x1="321.6" y1="382.1" x2="328.4" y2="382.1" stroke="#4a4a4a" stroke-width="0.95" />
<line x1="325" y1="372.1" x2="325" y2="393.2" stroke="#4a4a4a" stroke-width="0.95" />
<line x1="323.3" y1="372.1" x2="326.7" y2="372.1" stroke="#4a4a4a" stroke-width="0.95" />
<line x1="323.3" y1="393.2" x2="326.7" y2="393.2" stroke="#4a4a4a" stroke-width="0.95" />
<line x1="321.6" y1="380.9" x2="321.6" y2="383.3" stroke="#4a4a4a" stroke-width="0.95" />
<line x1="328.4" y1="380.9" x2="328.4" y2="383.3" stroke="#4a4a4a" stroke-width="0.95" />
<circle cx="325" cy="382.1" r="1.75" fill="#fff" stroke="#222" stroke-width="0.8"/>
<line x1="328.2" y1="363.9" x2="335" y2="363.9" stroke="#4a4a4a" stroke-width="0.95" />
<line x1="331.6" y1="355.5" x2="331.6" y2="373.4" stroke="#4a4a4a" stroke-width="0.95" />
<line x1="329.9" y1="355.5" x2="333.3" y2="355.5" stroke="#4a4a4a" stroke-width="0.95" />
<line x1="329.9" y1="373.4" x2="333.3" y2="373.4" stroke="#4a4a4a" stroke-width="0.95" />
<line x1="328.2" y1="362.7" x2="328.2" y2="365.1" stroke="#4a4a4a" stroke-width="0.95" />
<line x1="335" y1="362.7" x2="335" y2="365.1" stroke="#4a4a4a" stroke-width="0.95" />
<circle cx="331.6" cy="363.9" r="1.75" fill="#fff" stroke="#222" stroke-width="0.8"/>
<line x1="334.8" y1="380.5" x2="341.6" y2="380.5" stroke="#4a4a4a" stroke-width="0.95" />
<line x1="338.2" y1="369.5" x2="338.2" y2="392.4" stroke="#4a4a4a" stroke-width="0.95" />
<line x1="336.5" y1="369.5" x2="339.9" y2="369.5" stroke="#4a4a4a" stroke-width="0.95" />
<line x1="336.5" y1="392.4" x2="339.9" y2="392.4" stroke="#4a4a4a" stroke-width="0.95" />
<line x1="334.8" y1="379.3" x2="334.8" y2="381.7" stroke="#4a4a4a" stroke-width="0.95" />
<line x1="341.6" y1="379.3" x2="341.6" y2="381.7" stroke="#4a4a4a" stroke-width="0.95" />
<circle cx="338.2" cy="380.5" r="1.75" fill="#fff" stroke="#222" stroke-width="0.8"/>
<line x1="341.6" y1="368.6" x2="348.4" y2="368.6" stroke="#4a4a4a" stroke-width="0.95" />
<line x1="345" y1="356.3" x2="345" y2="380.5" stroke="#4a4a4a" stroke-width="0.95" />
<line x1="343.3" y1="356.3" x2="346.7" y2="356.3" stroke="#4a4a4a" stroke-width="0.95" />
<line x1="343.3" y1="380.5" x2="346.7" y2="380.5" stroke="#4a4a4a" stroke-width="0.95" />
<line x1="341.6" y1="367.4" x2="341.6" y2="369.8" stroke="#4a4a4a" stroke-width="0.95" />
<line x1="348.4" y1="367.4" x2="348.4" y2="369.8" stroke="#4a4a4a" stroke-width="0.95" />
<circle cx="345" cy="368.6" r="1.75" fill="#fff" stroke="#222" stroke-width="0.8"/>
<line x1="348.2" y1="373.9" x2="355" y2="373.9" stroke="#4a4a4a" stroke-width="0.95" />
<line x1="351.6" y1="361" x2="351.6" y2="386.6" stroke="#4a4a4a" stroke-width="0.95" />
<line x1="349.9" y1="361" x2="353.3" y2="361" stroke="#4a4a4a" stroke-width="0.95" />
<line x1="349.9" y1="386.6" x2="353.3" y2="386.6" stroke="#4a4a4a" stroke-width="0.95" />
<line x1="348.2" y1="372.7" x2="348.2" y2="375.1" stroke="#4a4a4a" stroke-width="0.95" />
<line x1="355" y1="372.7" x2="355" y2="375.1" stroke="#4a4a4a" stroke-width="0.95" />
<circle cx="351.6" cy="373.9" r="1.75" fill="#fff" stroke="#222" stroke-width="0.8"/>
<line x1="354.7" y1="364" x2="361.5" y2="364" stroke="#4a4a4a" stroke-width="0.95" />
<line x1="358.1" y1="351.6" x2="358.1" y2="375.3" stroke="#4a4a4a" stroke-width="0.95" />
<line x1="356.4" y1="351.6" x2="359.8" y2="351.6" stroke="#4a4a4a" stroke-width="0.95" />
<line x1="356.4" y1="375.3" x2="359.8" y2="375.3" stroke="#4a4a4a" stroke-width="0.95" />
<line x1="354.7" y1="362.8" x2="354.7" y2="365.2" stroke="#4a4a4a" stroke-width="0.95" />
<line x1="361.5" y1="362.8" x2="361.5" y2="365.2" stroke="#4a4a4a" stroke-width="0.95" />
<circle cx="358.1" cy="364" r="1.75" fill="#fff" stroke="#222" stroke-width="0.8"/>
<line x1="361.3" y1="370.3" x2="368.1" y2="370.3" stroke="#4a4a4a" stroke-width="0.95" />
<line x1="364.7" y1="355.5" x2="364.7" y2="385.3" stroke="#4a4a4a" stroke-width="0.95" />
<line x1="363" y1="355.5" x2="366.4" y2="355.5" stroke="#4a4a4a" stroke-width="0.95" />
<line x1="363" y1="385.3" x2="366.4" y2="385.3" stroke="#4a4a4a" stroke-width="0.95" />
<line x1="361.3" y1="369.1" x2="361.3" y2="371.5" stroke="#4a4a4a" stroke-width="0.95" />
<line x1="368.1" y1="369.1" x2="368.1" y2="371.5" stroke="#4a4a4a" stroke-width="0.95" />
<circle cx="364.7" cy="370.3" r="1.75" fill="#fff" stroke="#222" stroke-width="0.8"/>
<line x1="368" y1="373.6" x2="374.8" y2="373.6" stroke="#4a4a4a" stroke-width="0.95" />
<line x1="371.4" y1="358.4" x2="371.4" y2="389.2" stroke="#4a4a4a" stroke-width="0.95" />
<line x1="369.7" y1="358.4" x2="373.1" y2="358.4" stroke="#4a4a4a" stroke-width="0.95" />
<line x1="369.7" y1="389.2" x2="373.1" y2="389.2" stroke="#4a4a4a" stroke-width="0.95" />
<line x1="368" y1="372.4" x2="368" y2="374.8" stroke="#4a4a4a" stroke-width="0.95" />
<line x1="374.8" y1="372.4" x2="374.8" y2="374.8" stroke="#4a4a4a" stroke-width="0.95" />
<circle cx="371.4" cy="373.6" r="1.75" fill="#fff" stroke="#222" stroke-width="0.8"/>
<line x1="374.5" y1="362.9" x2="381.3" y2="362.9" stroke="#4a4a4a" stroke-width="0.95" />
<line x1="377.9" y1="348.9" x2="377.9" y2="377.4" stroke="#4a4a4a" stroke-width="0.95" />
<line x1="376.2" y1="348.9" x2="379.6" y2="348.9" stroke="#4a4a4a" stroke-width="0.95" />
<line x1="376.2" y1="377.4" x2="379.6" y2="377.4" stroke="#4a4a4a" stroke-width="0.95" />
<line x1="374.5" y1="361.7" x2="374.5" y2="364.1" stroke="#4a4a4a" stroke-width="0.95" />
<line x1="381.3" y1="361.7" x2="381.3" y2="364.1" stroke="#4a4a4a" stroke-width="0.95" />
<circle cx="377.9" cy="362.9" r="1.75" fill="#fff" stroke="#222" stroke-width="0.8"/>
<line x1="381.1" y1="369.4" x2="387.9" y2="369.4" stroke="#4a4a4a" stroke-width="0.95" />
<line x1="384.5" y1="355.8" x2="384.5" y2="382.6" stroke="#4a4a4a" stroke-width="0.95" />
<line x1="382.8" y1="355.8" x2="386.2" y2="355.8" stroke="#4a4a4a" stroke-width="0.95" />
<line x1="382.8" y1="382.6" x2="386.2" y2="382.6" stroke="#4a4a4a" stroke-width="0.95" />
<line x1="381.1" y1="368.2" x2="381.1" y2="370.6" stroke="#4a4a4a" stroke-width="0.95" />
<line x1="387.9" y1="368.2" x2="387.9" y2="370.6" stroke="#4a4a4a" stroke-width="0.95" />
<circle cx="384.5" cy="369.4" r="1.75" fill="#fff" stroke="#222" stroke-width="0.8"/>
<line x1="387.7" y1="372.9" x2="394.5" y2="372.9" stroke="#4a4a4a" stroke-width="0.95" />
<line x1="391.1" y1="357.6" x2="391.1" y2="387.4" stroke="#4a4a4a" stroke-width="0.95" />
<line x1="389.4" y1="357.6" x2="392.8" y2="357.6" stroke="#4a4a4a" stroke-width="0.95" />
<line x1="389.4" y1="387.4" x2="392.8" y2="387.4" stroke="#4a4a4a" stroke-width="0.95" />
<line x1="387.7" y1="371.7" x2="387.7" y2="374.1" stroke="#4a4a4a" stroke-width="0.95" />
<line x1="394.5" y1="371.7" x2="394.5" y2="374.1" stroke="#4a4a4a" stroke-width="0.95" />
<circle cx="391.1" cy="372.9" r="1.75" fill="#fff" stroke="#222" stroke-width="0.8"/>
<line x1="394.3" y1="374.8" x2="401.1" y2="374.8" stroke="#4a4a4a" stroke-width="0.95" />
<line x1="397.7" y1="359.5" x2="397.7" y2="388.4" stroke="#4a4a4a" stroke-width="0.95" />
<line x1="396" y1="359.5" x2="399.4" y2="359.5" stroke="#4a4a4a" stroke-width="0.95" />
<line x1="396" y1="388.4" x2="399.4" y2="388.4" stroke="#4a4a4a" stroke-width="0.95" />
<line x1="394.3" y1="373.6" x2="394.3" y2="376" stroke="#4a4a4a" stroke-width="0.95" />
<line x1="401.1" y1="373.6" x2="401.1" y2="376" stroke="#4a4a4a" stroke-width="0.95" />
<circle cx="397.7" cy="374.8" r="1.75" fill="#fff" stroke="#222" stroke-width="0.8"/>
<line x1="400.7" y1="379.9" x2="407.5" y2="379.9" stroke="#4a4a4a" stroke-width="0.95" />
<line x1="404.1" y1="364.7" x2="404.1" y2="395.3" stroke="#4a4a4a" stroke-width="0.95" />
<line x1="402.4" y1="364.7" x2="405.8" y2="364.7" stroke="#4a4a4a" stroke-width="0.95" />
<line x1="402.4" y1="395.3" x2="405.8" y2="395.3" stroke="#4a4a4a" stroke-width="0.95" />
<line x1="400.7" y1="378.7" x2="400.7" y2="381.1" stroke="#4a4a4a" stroke-width="0.95" />
<line x1="407.5" y1="378.7" x2="407.5" y2="381.1" stroke="#4a4a4a" stroke-width="0.95" />
<circle cx="404.1" cy="379.9" r="1.75" fill="#fff" stroke="#222" stroke-width="0.8"/>
</g>
<rect x="36.6" y="297.6" width="382.8" height="209.4" fill="none" stroke="#484848" stroke-width="1.45"/>
<line x1="36.6" y1="507" x2="36.6" y2="503.5" stroke="#484848" stroke-width="0.8" />
<line x1="36.6" y1="297.6" x2="36.6" y2="301.1" stroke="#484848" stroke-width="0.8" />
<line x1="69.89" y1="507" x2="69.89" y2="503.5" stroke="#484848" stroke-width="0.8" />
<line x1="69.89" y1="297.6" x2="69.89" y2="301.1" stroke="#484848" stroke-width="0.8" />
<line x1="103.17" y1="507" x2="103.17" y2="503.5" stroke="#484848" stroke-width="0.8" />
<line x1="103.17" y1="297.6" x2="103.17" y2="301.1" stroke="#484848" stroke-width="0.8" />
<line x1="186.39" y1="507" x2="186.39" y2="503.5" stroke="#484848" stroke-width="0.8" />
<line x1="186.39" y1="297.6" x2="186.39" y2="301.1" stroke="#484848" stroke-width="0.8" />
<line x1="269.6" y1="507" x2="269.6" y2="503.5" stroke="#484848" stroke-width="0.8" />
<line x1="269.6" y1="297.6" x2="269.6" y2="301.1" stroke="#484848" stroke-width="0.8" />
<line x1="352.82" y1="507" x2="352.82" y2="503.5" stroke="#484848" stroke-width="0.8" />
<line x1="352.82" y1="297.6" x2="352.82" y2="301.1" stroke="#484848" stroke-width="0.8" />
<line x1="53.24" y1="507" x2="53.24" y2="505" stroke="#484848" stroke-width="0.6" />
<line x1="53.24" y1="297.6" x2="53.24" y2="299.6" stroke="#484848" stroke-width="0.6" />
<line x1="86.53" y1="507" x2="86.53" y2="505" stroke="#484848" stroke-width="0.6" />
<line x1="86.53" y1="297.6" x2="86.53" y2="299.6" stroke="#484848" stroke-width="0.6" />
<line x1="119.81" y1="507" x2="119.81" y2="505" stroke="#484848" stroke-width="0.6" />
<line x1="119.81" y1="297.6" x2="119.81" y2="299.6" stroke="#484848" stroke-width="0.6" />
<line x1="136.46" y1="507" x2="136.46" y2="505" stroke="#484848" stroke-width="0.6" />
<line x1="136.46" y1="297.6" x2="136.46" y2="299.6" stroke="#484848" stroke-width="0.6" />
<line x1="153.1" y1="507" x2="153.1" y2="505" stroke="#484848" stroke-width="0.6" />
<line x1="153.1" y1="297.6" x2="153.1" y2="299.6" stroke="#484848" stroke-width="0.6" />
<line x1="169.74" y1="507" x2="169.74" y2="505" stroke="#484848" stroke-width="0.6" />
<line x1="169.74" y1="297.6" x2="169.74" y2="299.6" stroke="#484848" stroke-width="0.6" />
<line x1="203.03" y1="507" x2="203.03" y2="505" stroke="#484848" stroke-width="0.6" />
<line x1="203.03" y1="297.6" x2="203.03" y2="299.6" stroke="#484848" stroke-width="0.6" />
<line x1="219.67" y1="507" x2="219.67" y2="505" stroke="#484848" stroke-width="0.6" />
<line x1="219.67" y1="297.6" x2="219.67" y2="299.6" stroke="#484848" stroke-width="0.6" />
<line x1="236.32" y1="507" x2="236.32" y2="505" stroke="#484848" stroke-width="0.6" />
<line x1="236.32" y1="297.6" x2="236.32" y2="299.6" stroke="#484848" stroke-width="0.6" />
<line x1="252.96" y1="507" x2="252.96" y2="505" stroke="#484848" stroke-width="0.6" />
<line x1="252.96" y1="297.6" x2="252.96" y2="299.6" stroke="#484848" stroke-width="0.6" />
<line x1="286.25" y1="507" x2="286.25" y2="505" stroke="#484848" stroke-width="0.6" />
<line x1="286.25" y1="297.6" x2="286.25" y2="299.6" stroke="#484848" stroke-width="0.6" />
<line x1="302.89" y1="507" x2="302.89" y2="505" stroke="#484848" stroke-width="0.6" />
<line x1="302.89" y1="297.6" x2="302.89" y2="299.6" stroke="#484848" stroke-width="0.6" />
<line x1="319.53" y1="507" x2="319.53" y2="505" stroke="#484848" stroke-width="0.6" />
<line x1="319.53" y1="297.6" x2="319.53" y2="299.6" stroke="#484848" stroke-width="0.6" />
<line x1="336.17" y1="507" x2="336.17" y2="505" stroke="#484848" stroke-width="0.6" />
<line x1="336.17" y1="297.6" x2="336.17" y2="299.6" stroke="#484848" stroke-width="0.6" />
<line x1="369.46" y1="507" x2="369.46" y2="505" stroke="#484848" stroke-width="0.6" />
<line x1="369.46" y1="297.6" x2="369.46" y2="299.6" stroke="#484848" stroke-width="0.6" />
<line x1="386.1" y1="507" x2="386.1" y2="505" stroke="#484848" stroke-width="0.6" />
<line x1="386.1" y1="297.6" x2="386.1" y2="299.6" stroke="#484848" stroke-width="0.6" />
<line x1="402.75" y1="507" x2="402.75" y2="505" stroke="#484848" stroke-width="0.6" />
<line x1="402.75" y1="297.6" x2="402.75" y2="299.6" stroke="#484848" stroke-width="0.6" />
<line x1="36.6" y1="507" x2="40.1" y2="507" stroke="#484848" stroke-width="0.8" />
<line x1="419.4" y1="507" x2="415.9" y2="507" stroke="#484848" stroke-width="0.8" />
<line x1="36.6" y1="486.44" x2="40.1" y2="486.44" stroke="#484848" stroke-width="0.8" />
<line x1="419.4" y1="486.44" x2="415.9" y2="486.44" stroke="#484848" stroke-width="0.8" />
<line x1="36.6" y1="465.88" x2="40.1" y2="465.88" stroke="#484848" stroke-width="0.8" />
<line x1="419.4" y1="465.88" x2="415.9" y2="465.88" stroke="#484848" stroke-width="0.8" />
<line x1="36.6" y1="445.32" x2="40.1" y2="445.32" stroke="#484848" stroke-width="0.8" />
<line x1="419.4" y1="445.32" x2="415.9" y2="445.32" stroke="#484848" stroke-width="0.8" />
<line x1="36.6" y1="424.76" x2="40.1" y2="424.76" stroke="#484848" stroke-width="0.8" />
<line x1="419.4" y1="424.76" x2="415.9" y2="424.76" stroke="#484848" stroke-width="0.8" />
<line x1="36.6" y1="404.2" x2="40.1" y2="404.2" stroke="#484848" stroke-width="0.8" />
<line x1="419.4" y1="404.2" x2="415.9" y2="404.2" stroke="#484848" stroke-width="0.8" />
<line x1="36.6" y1="383.64" x2="40.1" y2="383.64" stroke="#484848" stroke-width="0.8" />
<line x1="419.4" y1="383.64" x2="415.9" y2="383.64" stroke="#484848" stroke-width="0.8" />
<line x1="36.6" y1="363.08" x2="40.1" y2="363.08" stroke="#484848" stroke-width="0.8" />
<line x1="419.4" y1="363.08" x2="415.9" y2="363.08" stroke="#484848" stroke-width="0.8" />
<line x1="36.6" y1="342.52" x2="40.1" y2="342.52" stroke="#484848" stroke-width="0.8" />
<line x1="419.4" y1="342.52" x2="415.9" y2="342.52" stroke="#484848" stroke-width="0.8" />
<line x1="36.6" y1="321.96" x2="40.1" y2="321.96" stroke="#484848" stroke-width="0.8" />
<line x1="419.4" y1="321.96" x2="415.9" y2="321.96" stroke="#484848" stroke-width="0.8" />
<line x1="36.6" y1="301.4" x2="40.1" y2="301.4" stroke="#484848" stroke-width="0.8" />
<line x1="419.4" y1="301.4" x2="415.9" y2="301.4" stroke="#484848" stroke-width="0.8" />
<line x1="36.6" y1="507" x2="38.4" y2="507" stroke="#484848" stroke-width="0.65" />
<line x1="419.4" y1="507" x2="417.6" y2="507" stroke="#484848" stroke-width="0.65" />
<line x1="36.6" y1="504.94" x2="38.4" y2="504.94" stroke="#484848" stroke-width="0.65" />
<line x1="419.4" y1="504.94" x2="417.6" y2="504.94" stroke="#484848" stroke-width="0.65" />
<line x1="36.6" y1="502.89" x2="38.4" y2="502.89" stroke="#484848" stroke-width="0.65" />
<line x1="419.4" y1="502.89" x2="417.6" y2="502.89" stroke="#484848" stroke-width="0.65" />
<line x1="36.6" y1="500.83" x2="38.4" y2="500.83" stroke="#484848" stroke-width="0.65" />
<line x1="419.4" y1="500.83" x2="417.6" y2="500.83" stroke="#484848" stroke-width="0.65" />
<line x1="36.6" y1="498.78" x2="38.4" y2="498.78" stroke="#484848" stroke-width="0.65" />
<line x1="419.4" y1="498.78" x2="417.6" y2="498.78" stroke="#484848" stroke-width="0.65" />
<line x1="36.6" y1="496.72" x2="38.4" y2="496.72" stroke="#484848" stroke-width="0.65" />
<line x1="419.4" y1="496.72" x2="417.6" y2="496.72" stroke="#484848" stroke-width="0.65" />
<line x1="36.6" y1="494.66" x2="38.4" y2="494.66" stroke="#484848" stroke-width="0.65" />
<line x1="419.4" y1="494.66" x2="417.6" y2="494.66" stroke="#484848" stroke-width="0.65" />
<line x1="36.6" y1="492.61" x2="38.4" y2="492.61" stroke="#484848" stroke-width="0.65" />
<line x1="419.4" y1="492.61" x2="417.6" y2="492.61" stroke="#484848" stroke-width="0.65" />
<line x1="36.6" y1="490.55" x2="38.4" y2="490.55" stroke="#484848" stroke-width="0.65" />
<line x1="419.4" y1="490.55" x2="417.6" y2="490.55" stroke="#484848" stroke-width="0.65" />
<line x1="36.6" y1="488.5" x2="38.4" y2="488.5" stroke="#484848" stroke-width="0.65" />
<line x1="419.4" y1="488.5" x2="417.6" y2="488.5" stroke="#484848" stroke-width="0.65" />
<line x1="36.6" y1="486.44" x2="38.4" y2="486.44" stroke="#484848" stroke-width="0.65" />
<line x1="419.4" y1="486.44" x2="417.6" y2="486.44" stroke="#484848" stroke-width="0.65" />
<line x1="36.6" y1="484.38" x2="38.4" y2="484.38" stroke="#484848" stroke-width="0.65" />
<line x1="419.4" y1="484.38" x2="417.6" y2="484.38" stroke="#484848" stroke-width="0.65" />
<line x1="36.6" y1="482.33" x2="38.4" y2="482.33" stroke="#484848" stroke-width="0.65" />
<line x1="419.4" y1="482.33" x2="417.6" y2="482.33" stroke="#484848" stroke-width="0.65" />
<line x1="36.6" y1="480.27" x2="38.4" y2="480.27" stroke="#484848" stroke-width="0.65" />
<line x1="419.4" y1="480.27" x2="417.6" y2="480.27" stroke="#484848" stroke-width="0.65" />
<line x1="36.6" y1="478.22" x2="38.4" y2="478.22" stroke="#484848" stroke-width="0.65" />
<line x1="419.4" y1="478.22" x2="417.6" y2="478.22" stroke="#484848" stroke-width="0.65" />
<line x1="36.6" y1="476.16" x2="38.4" y2="476.16" stroke="#484848" stroke-width="0.65" />
<line x1="419.4" y1="476.16" x2="417.6" y2="476.16" stroke="#484848" stroke-width="0.65" />
<line x1="36.6" y1="474.1" x2="38.4" y2="474.1" stroke="#484848" stroke-width="0.65" />
<line x1="419.4" y1="474.1" x2="417.6" y2="474.1" stroke="#484848" stroke-width="0.65" />
<line x1="36.6" y1="472.05" x2="38.4" y2="472.05" stroke="#484848" stroke-width="0.65" />
<line x1="419.4" y1="472.05" x2="417.6" y2="472.05" stroke="#484848" stroke-width="0.65" />
<line x1="36.6" y1="469.99" x2="38.4" y2="469.99" stroke="#484848" stroke-width="0.65" />
<line x1="419.4" y1="469.99" x2="417.6" y2="469.99" stroke="#484848" stroke-width="0.65" />
<line x1="36.6" y1="467.94" x2="38.4" y2="467.94" stroke="#484848" stroke-width="0.65" />
<line x1="419.4" y1="467.94" x2="417.6" y2="467.94" stroke="#484848" stroke-width="0.65" />
<line x1="36.6" y1="465.88" x2="38.4" y2="465.88" stroke="#484848" stroke-width="0.65" />
<line x1="419.4" y1="465.88" x2="417.6" y2="465.88" stroke="#484848" stroke-width="0.65" />
<line x1="36.6" y1="463.82" x2="38.4" y2="463.82" stroke="#484848" stroke-width="0.65" />
<line x1="419.4" y1="463.82" x2="417.6" y2="463.82" stroke="#484848" stroke-width="0.65" />
<line x1="36.6" y1="461.77" x2="38.4" y2="461.77" stroke="#484848" stroke-width="0.65" />
<line x1="419.4" y1="461.77" x2="417.6" y2="461.77" stroke="#484848" stroke-width="0.65" />
<line x1="36.6" y1="459.71" x2="38.4" y2="459.71" stroke="#484848" stroke-width="0.65" />
<line x1="419.4" y1="459.71" x2="417.6" y2="459.71" stroke="#484848" stroke-width="0.65" />
<line x1="36.6" y1="457.66" x2="38.4" y2="457.66" stroke="#484848" stroke-width="0.65" />
<line x1="419.4" y1="457.66" x2="417.6" y2="457.66" stroke="#484848" stroke-width="0.65" />
<line x1="36.6" y1="455.6" x2="38.4" y2="455.6" stroke="#484848" stroke-width="0.65" />
<line x1="419.4" y1="455.6" x2="417.6" y2="455.6" stroke="#484848" stroke-width="0.65" />
<line x1="36.6" y1="453.54" x2="38.4" y2="453.54" stroke="#484848" stroke-width="0.65" />
<line x1="419.4" y1="453.54" x2="417.6" y2="453.54" stroke="#484848" stroke-width="0.65" />
<line x1="36.6" y1="451.49" x2="38.4" y2="451.49" stroke="#484848" stroke-width="0.65" />
<line x1="419.4" y1="451.49" x2="417.6" y2="451.49" stroke="#484848" stroke-width="0.65" />
<line x1="36.6" y1="449.43" x2="38.4" y2="449.43" stroke="#484848" stroke-width="0.65" />
<line x1="419.4" y1="449.43" x2="417.6" y2="449.43" stroke="#484848" stroke-width="0.65" />
<line x1="36.6" y1="447.38" x2="38.4" y2="447.38" stroke="#484848" stroke-width="0.65" />
<line x1="419.4" y1="447.38" x2="417.6" y2="447.38" stroke="#484848" stroke-width="0.65" />
<line x1="36.6" y1="445.32" x2="38.4" y2="445.32" stroke="#484848" stroke-width="0.65" />
<line x1="419.4" y1="445.32" x2="417.6" y2="445.32" stroke="#484848" stroke-width="0.65" />
<line x1="36.6" y1="443.26" x2="38.4" y2="443.26" stroke="#484848" stroke-width="0.65" />
<line x1="419.4" y1="443.26" x2="417.6" y2="443.26" stroke="#484848" stroke-width="0.65" />
<line x1="36.6" y1="441.21" x2="38.4" y2="441.21" stroke="#484848" stroke-width="0.65" />
<line x1="419.4" y1="441.21" x2="417.6" y2="441.21" stroke="#484848" stroke-width="0.65" />
<line x1="36.6" y1="439.15" x2="38.4" y2="439.15" stroke="#484848" stroke-width="0.65" />
<line x1="419.4" y1="439.15" x2="417.6" y2="439.15" stroke="#484848" stroke-width="0.65" />
<line x1="36.6" y1="437.1" x2="38.4" y2="437.1" stroke="#484848" stroke-width="0.65" />
<line x1="419.4" y1="437.1" x2="417.6" y2="437.1" stroke="#484848" stroke-width="0.65" />
<line x1="36.6" y1="435.04" x2="38.4" y2="435.04" stroke="#484848" stroke-width="0.65" />
<line x1="419.4" y1="435.04" x2="417.6" y2="435.04" stroke="#484848" stroke-width="0.65" />
<line x1="36.6" y1="432.98" x2="38.4" y2="432.98" stroke="#484848" stroke-width="0.65" />
<line x1="419.4" y1="432.98" x2="417.6" y2="432.98" stroke="#484848" stroke-width="0.65" />
<line x1="36.6" y1="430.93" x2="38.4" y2="430.93" stroke="#484848" stroke-width="0.65" />
<line x1="419.4" y1="430.93" x2="417.6" y2="430.93" stroke="#484848" stroke-width="0.65" />
<line x1="36.6" y1="428.87" x2="38.4" y2="428.87" stroke="#484848" stroke-width="0.65" />
<line x1="419.4" y1="428.87" x2="417.6" y2="428.87" stroke="#484848" stroke-width="0.65" />
<line x1="36.6" y1="426.82" x2="38.4" y2="426.82" stroke="#484848" stroke-width="0.65" />
<line x1="419.4" y1="426.82" x2="417.6" y2="426.82" stroke="#484848" stroke-width="0.65" />
<line x1="36.6" y1="424.76" x2="38.4" y2="424.76" stroke="#484848" stroke-width="0.65" />
<line x1="419.4" y1="424.76" x2="417.6" y2="424.76" stroke="#484848" stroke-width="0.65" />
<line x1="36.6" y1="422.7" x2="38.4" y2="422.7" stroke="#484848" stroke-width="0.65" />
<line x1="419.4" y1="422.7" x2="417.6" y2="422.7" stroke="#484848" stroke-width="0.65" />
<line x1="36.6" y1="420.65" x2="38.4" y2="420.65" stroke="#484848" stroke-width="0.65" />
<line x1="419.4" y1="420.65" x2="417.6" y2="420.65" stroke="#484848" stroke-width="0.65" />
<line x1="36.6" y1="418.59" x2="38.4" y2="418.59" stroke="#484848" stroke-width="0.65" />
<line x1="419.4" y1="418.59" x2="417.6" y2="418.59" stroke="#484848" stroke-width="0.65" />
<line x1="36.6" y1="416.54" x2="38.4" y2="416.54" stroke="#484848" stroke-width="0.65" />
<line x1="419.4" y1="416.54" x2="417.6" y2="416.54" stroke="#484848" stroke-width="0.65" />
<line x1="36.6" y1="414.48" x2="38.4" y2="414.48" stroke="#484848" stroke-width="0.65" />
<line x1="419.4" y1="414.48" x2="417.6" y2="414.48" stroke="#484848" stroke-width="0.65" />
<line x1="36.6" y1="412.42" x2="38.4" y2="412.42" stroke="#484848" stroke-width="0.65" />
<line x1="419.4" y1="412.42" x2="417.6" y2="412.42" stroke="#484848" stroke-width="0.65" />
<line x1="36.6" y1="410.37" x2="38.4" y2="410.37" stroke="#484848" stroke-width="0.65" />
<line x1="419.4" y1="410.37" x2="417.6" y2="410.37" stroke="#484848" stroke-width="0.65" />
<line x1="36.6" y1="408.31" x2="38.4" y2="408.31" stroke="#484848" stroke-width="0.65" />
<line x1="419.4" y1="408.31" x2="417.6" y2="408.31" stroke="#484848" stroke-width="0.65" />
<line x1="36.6" y1="406.26" x2="38.4" y2="406.26" stroke="#484848" stroke-width="0.65" />
<line x1="419.4" y1="406.26" x2="417.6" y2="406.26" stroke="#484848" stroke-width="0.65" />
<line x1="36.6" y1="404.2" x2="38.4" y2="404.2" stroke="#484848" stroke-width="0.65" />
<line x1="419.4" y1="404.2" x2="417.6" y2="404.2" stroke="#484848" stroke-width="0.65" />
<line x1="36.6" y1="402.14" x2="38.4" y2="402.14" stroke="#484848" stroke-width="0.65" />
<line x1="419.4" y1="402.14" x2="417.6" y2="402.14" stroke="#484848" stroke-width="0.65" />
<line x1="36.6" y1="400.09" x2="38.4" y2="400.09" stroke="#484848" stroke-width="0.65" />
<line x1="419.4" y1="400.09" x2="417.6" y2="400.09" stroke="#484848" stroke-width="0.65" />
<line x1="36.6" y1="398.03" x2="38.4" y2="398.03" stroke="#484848" stroke-width="0.65" />
<line x1="419.4" y1="398.03" x2="417.6" y2="398.03" stroke="#484848" stroke-width="0.65" />
<line x1="36.6" y1="395.98" x2="38.4" y2="395.98" stroke="#484848" stroke-width="0.65" />
<line x1="419.4" y1="395.98" x2="417.6" y2="395.98" stroke="#484848" stroke-width="0.65" />
<line x1="36.6" y1="393.92" x2="38.4" y2="393.92" stroke="#484848" stroke-width="0.65" />
<line x1="419.4" y1="393.92" x2="417.6" y2="393.92" stroke="#484848" stroke-width="0.65" />
<line x1="36.6" y1="391.86" x2="38.4" y2="391.86" stroke="#484848" stroke-width="0.65" />
<line x1="419.4" y1="391.86" x2="417.6" y2="391.86" stroke="#484848" stroke-width="0.65" />
<line x1="36.6" y1="389.81" x2="38.4" y2="389.81" stroke="#484848" stroke-width="0.65" />
<line x1="419.4" y1="389.81" x2="417.6" y2="389.81" stroke="#484848" stroke-width="0.65" />
<line x1="36.6" y1="387.75" x2="38.4" y2="387.75" stroke="#484848" stroke-width="0.65" />
<line x1="419.4" y1="387.75" x2="417.6" y2="387.75" stroke="#484848" stroke-width="0.65" />
<line x1="36.6" y1="385.7" x2="38.4" y2="385.7" stroke="#484848" stroke-width="0.65" />
<line x1="419.4" y1="385.7" x2="417.6" y2="385.7" stroke="#484848" stroke-width="0.65" />
<line x1="36.6" y1="383.64" x2="38.4" y2="383.64" stroke="#484848" stroke-width="0.65" />
<line x1="419.4" y1="383.64" x2="417.6" y2="383.64" stroke="#484848" stroke-width="0.65" />
<line x1="36.6" y1="381.58" x2="38.4" y2="381.58" stroke="#484848" stroke-width="0.65" />
<line x1="419.4" y1="381.58" x2="417.6" y2="381.58" stroke="#484848" stroke-width="0.65" />
<line x1="36.6" y1="379.53" x2="38.4" y2="379.53" stroke="#484848" stroke-width="0.65" />
<line x1="419.4" y1="379.53" x2="417.6" y2="379.53" stroke="#484848" stroke-width="0.65" />
<line x1="36.6" y1="377.47" x2="38.4" y2="377.47" stroke="#484848" stroke-width="0.65" />
<line x1="419.4" y1="377.47" x2="417.6" y2="377.47" stroke="#484848" stroke-width="0.65" />
<line x1="36.6" y1="375.42" x2="38.4" y2="375.42" stroke="#484848" stroke-width="0.65" />
<line x1="419.4" y1="375.42" x2="417.6" y2="375.42" stroke="#484848" stroke-width="0.65" />
<line x1="36.6" y1="373.36" x2="38.4" y2="373.36" stroke="#484848" stroke-width="0.65" />
<line x1="419.4" y1="373.36" x2="417.6" y2="373.36" stroke="#484848" stroke-width="0.65" />
<line x1="36.6" y1="371.3" x2="38.4" y2="371.3" stroke="#484848" stroke-width="0.65" />
<line x1="419.4" y1="371.3" x2="417.6" y2="371.3" stroke="#484848" stroke-width="0.65" />
<line x1="36.6" y1="369.25" x2="38.4" y2="369.25" stroke="#484848" stroke-width="0.65" />
<line x1="419.4" y1="369.25" x2="417.6" y2="369.25" stroke="#484848" stroke-width="0.65" />
<line x1="36.6" y1="367.19" x2="38.4" y2="367.19" stroke="#484848" stroke-width="0.65" />
<line x1="419.4" y1="367.19" x2="417.6" y2="367.19" stroke="#484848" stroke-width="0.65" />
<line x1="36.6" y1="365.14" x2="38.4" y2="365.14" stroke="#484848" stroke-width="0.65" />
<line x1="419.4" y1="365.14" x2="417.6" y2="365.14" stroke="#484848" stroke-width="0.65" />
<line x1="36.6" y1="363.08" x2="38.4" y2="363.08" stroke="#484848" stroke-width="0.65" />
<line x1="419.4" y1="363.08" x2="417.6" y2="363.08" stroke="#484848" stroke-width="0.65" />
<line x1="36.6" y1="361.02" x2="38.4" y2="361.02" stroke="#484848" stroke-width="0.65" />
<line x1="419.4" y1="361.02" x2="417.6" y2="361.02" stroke="#484848" stroke-width="0.65" />
<line x1="36.6" y1="358.97" x2="38.4" y2="358.97" stroke="#484848" stroke-width="0.65" />
<line x1="419.4" y1="358.97" x2="417.6" y2="358.97" stroke="#484848" stroke-width="0.65" />
<line x1="36.6" y1="356.91" x2="38.4" y2="356.91" stroke="#484848" stroke-width="0.65" />
<line x1="419.4" y1="356.91" x2="417.6" y2="356.91" stroke="#484848" stroke-width="0.65" />
<line x1="36.6" y1="354.86" x2="38.4" y2="354.86" stroke="#484848" stroke-width="0.65" />
<line x1="419.4" y1="354.86" x2="417.6" y2="354.86" stroke="#484848" stroke-width="0.65" />
<line x1="36.6" y1="352.8" x2="38.4" y2="352.8" stroke="#484848" stroke-width="0.65" />
<line x1="419.4" y1="352.8" x2="417.6" y2="352.8" stroke="#484848" stroke-width="0.65" />
<line x1="36.6" y1="350.74" x2="38.4" y2="350.74" stroke="#484848" stroke-width="0.65" />
<line x1="419.4" y1="350.74" x2="417.6" y2="350.74" stroke="#484848" stroke-width="0.65" />
<line x1="36.6" y1="348.69" x2="38.4" y2="348.69" stroke="#484848" stroke-width="0.65" />
<line x1="419.4" y1="348.69" x2="417.6" y2="348.69" stroke="#484848" stroke-width="0.65" />
<line x1="36.6" y1="346.63" x2="38.4" y2="346.63" stroke="#484848" stroke-width="0.65" />
<line x1="419.4" y1="346.63" x2="417.6" y2="346.63" stroke="#484848" stroke-width="0.65" />
<line x1="36.6" y1="344.58" x2="38.4" y2="344.58" stroke="#484848" stroke-width="0.65" />
<line x1="419.4" y1="344.58" x2="417.6" y2="344.58" stroke="#484848" stroke-width="0.65" />
<line x1="36.6" y1="342.52" x2="38.4" y2="342.52" stroke="#484848" stroke-width="0.65" />
<line x1="419.4" y1="342.52" x2="417.6" y2="342.52" stroke="#484848" stroke-width="0.65" />
<line x1="36.6" y1="340.46" x2="38.4" y2="340.46" stroke="#484848" stroke-width="0.65" />
<line x1="419.4" y1="340.46" x2="417.6" y2="340.46" stroke="#484848" stroke-width="0.65" />
<line x1="36.6" y1="338.41" x2="38.4" y2="338.41" stroke="#484848" stroke-width="0.65" />
<line x1="419.4" y1="338.41" x2="417.6" y2="338.41" stroke="#484848" stroke-width="0.65" />
<line x1="36.6" y1="336.35" x2="38.4" y2="336.35" stroke="#484848" stroke-width="0.65" />
<line x1="419.4" y1="336.35" x2="417.6" y2="336.35" stroke="#484848" stroke-width="0.65" />
<line x1="36.6" y1="334.3" x2="38.4" y2="334.3" stroke="#484848" stroke-width="0.65" />
<line x1="419.4" y1="334.3" x2="417.6" y2="334.3" stroke="#484848" stroke-width="0.65" />
<line x1="36.6" y1="332.24" x2="38.4" y2="332.24" stroke="#484848" stroke-width="0.65" />
<line x1="419.4" y1="332.24" x2="417.6" y2="332.24" stroke="#484848" stroke-width="0.65" />
<line x1="36.6" y1="330.18" x2="38.4" y2="330.18" stroke="#484848" stroke-width="0.65" />
<line x1="419.4" y1="330.18" x2="417.6" y2="330.18" stroke="#484848" stroke-width="0.65" />
<line x1="36.6" y1="328.13" x2="38.4" y2="328.13" stroke="#484848" stroke-width="0.65" />
<line x1="419.4" y1="328.13" x2="417.6" y2="328.13" stroke="#484848" stroke-width="0.65" />
<line x1="36.6" y1="326.07" x2="38.4" y2="326.07" stroke="#484848" stroke-width="0.65" />
<line x1="419.4" y1="326.07" x2="417.6" y2="326.07" stroke="#484848" stroke-width="0.65" />
<line x1="36.6" y1="324.02" x2="38.4" y2="324.02" stroke="#484848" stroke-width="0.65" />
<line x1="419.4" y1="324.02" x2="417.6" y2="324.02" stroke="#484848" stroke-width="0.65" />
<line x1="36.6" y1="321.96" x2="38.4" y2="321.96" stroke="#484848" stroke-width="0.65" />
<line x1="419.4" y1="321.96" x2="417.6" y2="321.96" stroke="#484848" stroke-width="0.65" />
<line x1="36.6" y1="319.9" x2="38.4" y2="319.9" stroke="#484848" stroke-width="0.65" />
<line x1="419.4" y1="319.9" x2="417.6" y2="319.9" stroke="#484848" stroke-width="0.65" />
<line x1="36.6" y1="317.85" x2="38.4" y2="317.85" stroke="#484848" stroke-width="0.65" />
<line x1="419.4" y1="317.85" x2="417.6" y2="317.85" stroke="#484848" stroke-width="0.65" />
<line x1="36.6" y1="315.79" x2="38.4" y2="315.79" stroke="#484848" stroke-width="0.65" />
<line x1="419.4" y1="315.79" x2="417.6" y2="315.79" stroke="#484848" stroke-width="0.65" />
<line x1="36.6" y1="313.74" x2="38.4" y2="313.74" stroke="#484848" stroke-width="0.65" />
<line x1="419.4" y1="313.74" x2="417.6" y2="313.74" stroke="#484848" stroke-width="0.65" />
<line x1="36.6" y1="311.68" x2="38.4" y2="311.68" stroke="#484848" stroke-width="0.65" />
<line x1="419.4" y1="311.68" x2="417.6" y2="311.68" stroke="#484848" stroke-width="0.65" />
<line x1="36.6" y1="309.62" x2="38.4" y2="309.62" stroke="#484848" stroke-width="0.65" />
<line x1="419.4" y1="309.62" x2="417.6" y2="309.62" stroke="#484848" stroke-width="0.65" />
<line x1="36.6" y1="307.57" x2="38.4" y2="307.57" stroke="#484848" stroke-width="0.65" />
<line x1="419.4" y1="307.57" x2="417.6" y2="307.57" stroke="#484848" stroke-width="0.65" />
<line x1="36.6" y1="305.51" x2="38.4" y2="305.51" stroke="#484848" stroke-width="0.65" />
<line x1="419.4" y1="305.51" x2="417.6" y2="305.51" stroke="#484848" stroke-width="0.65" />
<line x1="36.6" y1="303.46" x2="38.4" y2="303.46" stroke="#484848" stroke-width="0.65" />
<line x1="419.4" y1="303.46" x2="417.6" y2="303.46" stroke="#484848" stroke-width="0.65" />
<line x1="36.6" y1="301.4" x2="38.4" y2="301.4" stroke="#484848" stroke-width="0.65" />
<line x1="419.4" y1="301.4" x2="417.6" y2="301.4" stroke="#484848" stroke-width="0.65" />
<line x1="36.6" y1="299.34" x2="38.4" y2="299.34" stroke="#484848" stroke-width="0.65" />
<line x1="419.4" y1="299.34" x2="417.6" y2="299.34" stroke="#484848" stroke-width="0.65" />
<text x="18.66" y="509.9" font-size="10" text-anchor="start" textLength="14.89" lengthAdjust="spacingAndGlyphs" fill="#000" stroke-width="0.14" >4.0</text>
<text x="18.76" y="489.34" font-size="10" text-anchor="start" textLength="14.82" lengthAdjust="spacingAndGlyphs" fill="#000" stroke-width="0.14" >4.5</text>
<text x="18.74" y="468.78" font-size="10" text-anchor="start" textLength="14.81" lengthAdjust="spacingAndGlyphs" fill="#000" stroke-width="0.14" >5.0</text>
<text x="18.84" y="448.22" font-size="10" text-anchor="start" textLength="14.73" lengthAdjust="spacingAndGlyphs" fill="#000" stroke-width="0.14" >5.5</text>
<text x="18.75" y="427.66" font-size="10" text-anchor="start" textLength="14.79" lengthAdjust="spacingAndGlyphs" fill="#000" stroke-width="0.14" >6.0</text>
<text x="18.85" y="407.1" font-size="10" text-anchor="start" textLength="14.72" lengthAdjust="spacingAndGlyphs" fill="#000" stroke-width="0.14" >6.5</text>
<text x="18.65" y="386.54" font-size="10" text-anchor="start" textLength="14.9" lengthAdjust="spacingAndGlyphs" fill="#000" stroke-width="0.14" >7.0</text>
<text x="18.74" y="365.98" font-size="10" text-anchor="start" textLength="14.83" lengthAdjust="spacingAndGlyphs" fill="#000" stroke-width="0.14" >7.5</text>
<text x="18.81" y="345.42" font-size="10" text-anchor="start" textLength="14.73" lengthAdjust="spacingAndGlyphs" fill="#000" stroke-width="0.14" >8.0</text>
<text x="18.91" y="324.86" font-size="10" text-anchor="start" textLength="14.66" lengthAdjust="spacingAndGlyphs" fill="#000" stroke-width="0.14" >8.5</text>
<text x="18.82" y="304.3" font-size="10" text-anchor="start" textLength="14.72" lengthAdjust="spacingAndGlyphs" fill="#000" stroke-width="0.14" >9.0</text>
<text x="29.21" y="517.2" font-size="10" text-anchor="start" textLength="14.69" lengthAdjust="spacingAndGlyphs" fill="#000" stroke-width="0.14" >0.6</text>
<text x="62.51" y="517.2" font-size="10" text-anchor="start" textLength="14.76" lengthAdjust="spacingAndGlyphs" fill="#000" stroke-width="0.14" >0.8</text>
<text x="100.52" y="517.2" font-size="10" text-anchor="start" textLength="5.02" lengthAdjust="spacingAndGlyphs" fill="#000" stroke-width="0.14" >1</text>
<text x="178.74" y="517.2" font-size="10" text-anchor="start" textLength="14.73" lengthAdjust="spacingAndGlyphs" fill="#000" stroke-width="0.14" >1.5</text>
<text x="266.87" y="517.2" font-size="10" text-anchor="start" textLength="5.58" lengthAdjust="spacingAndGlyphs" fill="#000" stroke-width="0.14" >2</text>
<text x="345.41" y="517.2" font-size="10" text-anchor="start" textLength="14.75" lengthAdjust="spacingAndGlyphs" fill="#000" stroke-width="0.14" >2.5</text>
<text x="176.1" y="531.6" font-size="13.5" text-anchor="start" textLength="103.35" lengthAdjust="spacingAndGlyphs" fill="#000" stroke-width="0.12" >Wavelength (μm)</text>
<g transform="translate(10.8,402.3) rotate(-90)"><text x="0" y="0" font-size="13.8" stroke-width="0.12" text-anchor="middle" textLength="141" lengthAdjust="spacingAndGlyphs">Transit Depth (<tspan font-style="italic">R</tspan><tspan font-style="italic" font-size="9" dy="2.5">p</tspan><tspan dy="-2.5">/</tspan><tspan font-style="italic">R</tspan><tspan font-size="9" dy="2.5">*</tspan><tspan dy="-2.5">)</tspan><tspan font-size="9" dy="-5">2</tspan></text></g>
<text x="36.49" y="296.3" font-size="11.6" text-anchor="start" textLength="7.1" lengthAdjust="spacingAndGlyphs" fill="#000" stroke-width="0.14" >×</text>
<text x="43.65" y="294.7" font-size="9.6" text-anchor="start" textLength="10.86" lengthAdjust="spacingAndGlyphs" fill="#000" stroke-width="0.14" >10</text>
<text x="55.24" y="291.9" font-size="7.6" text-anchor="start" textLength="9.82" lengthAdjust="spacingAndGlyphs" fill="#000" stroke-width="0.08" >−3</text>
<text x="44.26" y="314.8" font-size="12.3" text-anchor="start" textLength="81.38" lengthAdjust="spacingAndGlyphs" fill="#000" stroke-width="0.12" >TRAPPIST-1b</text>
<text x="48.17" y="326.1" font-size="11" text-anchor="start" textLength="34.04" lengthAdjust="spacingAndGlyphs" fill="#000" stroke-width="0.14" >Visit 2</text>
<line x1="274.9" y1="307.5" x2="285.9" y2="307.5" stroke="#ffa54a" stroke-width="1.6" />
<line x1="274.9" y1="318.8" x2="285.9" y2="318.8" stroke="#b44fc4" stroke-width="1.6" />
<line x1="271.4" y1="330" x2="279.4" y2="330" stroke="#5e5e5e" stroke-width="1" />
<line x1="275.4" y1="325.9" x2="275.4" y2="334.1" stroke="#5e5e5e" stroke-width="1" />
<line x1="274" y1="325.9" x2="276.8" y2="325.9" stroke="#5e5e5e" stroke-width="1" />
<line x1="274" y1="334.1" x2="276.8" y2="334.1" stroke="#5e5e5e" stroke-width="1" />
<line x1="271.4" y1="328.5" x2="271.4" y2="331.5" stroke="#5e5e5e" stroke-width="1" />
<line x1="279.4" y1="328.5" x2="279.4" y2="331.5" stroke="#5e5e5e" stroke-width="1" />
<circle cx="275.4" cy="330" r="1.6" fill="#fff" stroke="#555" stroke-width="0.8"/>
<line x1="281.8" y1="330" x2="289.8" y2="330" stroke="#5e5e5e" stroke-width="1" />
<line x1="285.8" y1="325.9" x2="285.8" y2="334.1" stroke="#5e5e5e" stroke-width="1" />
<line x1="284.4" y1="325.9" x2="287.2" y2="325.9" stroke="#5e5e5e" stroke-width="1" />
<line x1="284.4" y1="334.1" x2="287.2" y2="334.1" stroke="#5e5e5e" stroke-width="1" />
<line x1="281.8" y1="328.5" x2="281.8" y2="331.5" stroke="#5e5e5e" stroke-width="1" />
<line x1="289.8" y1="328.5" x2="289.8" y2="331.5" stroke="#5e5e5e" stroke-width="1" />
<circle cx="285.8" cy="330" r="1.6" fill="#fff" stroke="#555" stroke-width="0.8"/>
<text x="293.74" y="310.3" font-size="8.4" text-anchor="start" textLength="60.98" lengthAdjust="spacingAndGlyphs" fill="#000" stroke-width="0.14" >Stellar Contam.</text>
<text x="293.74" y="321.8" font-size="8.4" text-anchor="start" textLength="118.89" lengthAdjust="spacingAndGlyphs" fill="#000" stroke-width="0.14" >Stellar Contam. + Atmosphere</text>
<text x="294.13" y="332.2" font-size="8.4" text-anchor="start" textLength="52.83" lengthAdjust="spacingAndGlyphs" fill="#000" stroke-width="0.14" >NIRISS SOSS</text>
<polygon points="429.3,113.4 429.3,112.8 432.47,112.8 432.47,111.3 435.63,111.3 435.63,110.1 438.8,110.1 438.8,106.5 441.97,106.5 441.97,100.2 445.13,100.2 445.13,94.5 448.3,94.5 448.3,83 451.47,83 451.47,72.3 454.64,72.3 454.64,67.4 457.8,67.4 457.8,52.3 460.97,52.3 460.97,44.4 464.14,44.4 464.14,42.4 467.3,42.4 467.3,39.8 470.47,39.8 470.47,38.7 473.64,38.7 473.64,42.4 476.81,42.4 476.81,46.1 479.97,46.1 479.97,53.9 483.14,53.9 483.14,59.2 486.31,59.2 486.31,65.4 489.47,65.4 489.47,73.2 492.64,73.2 492.64,80.2 495.81,80.2 495.81,86.3 498.97,86.3 498.97,90.1 502.14,90.1 502.14,93.4 505.31,93.4 505.31,97 508.48,97 508.48,101.6 511.64,101.6 511.64,104 514.81,104 514.81,107.3 517.98,107.3 517.98,108.5 521.14,108.5 521.14,110.9 524.31,110.9 524.31,113.4" fill="#b2c3f2" />
<polyline points="429.3,113.4 429.3,112.8 432.47,112.8 432.47,111.3 435.63,111.3 435.63,110.1 438.8,110.1 438.8,106.5 441.97,106.5 441.97,100.2 445.13,100.2 445.13,94.5 448.3,94.5 448.3,83 451.47,83 451.47,72.3 454.64,72.3 454.64,67.4 457.8,67.4 457.8,52.3 460.97,52.3 460.97,44.4 464.14,44.4 464.14,42.4 467.3,42.4 467.3,39.8 470.47,39.8 470.47,38.7 473.64,38.7 473.64,42.4 476.81,42.4 476.81,46.1 479.97,46.1 479.97,53.9 483.14,53.9 483.14,59.2 486.31,59.2 486.31,65.4 489.47,65.4 489.47,73.2 492.64,73.2 492.64,80.2 495.81,80.2 495.81,86.3 498.97,86.3 498.97,90.1 502.14,90.1 502.14,93.4 505.31,93.4 505.31,97 508.48,97 508.48,101.6 511.64,101.6 511.64,104 514.81,104 514.81,107.3 517.98,107.3 517.98,108.5 521.14,108.5 521.14,110.9 524.31,110.9 524.31,113.4" fill="none" stroke="#111" stroke-width="0.9" stroke-linejoin="round" />
<line x1="428.6" y1="113.4" x2="428.6" y2="110.6" stroke="#222" stroke-width="0.7" />
<line x1="428.6" y1="31.3" x2="428.6" y2="34.1" stroke="#222" stroke-width="0.7" />
<text x="423.67" y="121.9" font-size="7.2" text-anchor="start" textLength="9.86" lengthAdjust="spacingAndGlyphs" fill="#000" stroke-width="0.08" >0.0</text>
<line x1="447.76" y1="113.4" x2="447.76" y2="110.6" stroke="#222" stroke-width="0.7" />
<line x1="447.76" y1="31.3" x2="447.76" y2="34.1" stroke="#222" stroke-width="0.7" />
<text x="443.08" y="121.9" font-size="7.2" text-anchor="start" textLength="9.54" lengthAdjust="spacingAndGlyphs" fill="#000" stroke-width="0.08" >0.1</text>
<line x1="466.92" y1="113.4" x2="466.92" y2="110.6" stroke="#222" stroke-width="0.7" />
<line x1="466.92" y1="31.3" x2="466.92" y2="34.1" stroke="#222" stroke-width="0.7" />
<text x="462.09" y="121.9" font-size="7.2" text-anchor="start" textLength="9.79" lengthAdjust="spacingAndGlyphs" fill="#000" stroke-width="0.08" >0.2</text>
<line x1="486.08" y1="113.4" x2="486.08" y2="110.6" stroke="#222" stroke-width="0.7" />
<line x1="486.08" y1="31.3" x2="486.08" y2="34.1" stroke="#222" stroke-width="0.7" />
<text x="481.17" y="121.9" font-size="7.2" text-anchor="start" textLength="9.83" lengthAdjust="spacingAndGlyphs" fill="#000" stroke-width="0.08" >0.3</text>
<line x1="505.24" y1="113.4" x2="505.24" y2="110.6" stroke="#222" stroke-width="0.7" />
<line x1="505.24" y1="31.3" x2="505.24" y2="34.1" stroke="#222" stroke-width="0.7" />
<text x="500.26" y="121.9" font-size="7.2" text-anchor="start" textLength="9.78" lengthAdjust="spacingAndGlyphs" fill="#000" stroke-width="0.08" >0.4</text>
<line x1="524.4" y1="113.4" x2="524.4" y2="110.6" stroke="#222" stroke-width="0.7" />
<line x1="524.4" y1="31.3" x2="524.4" y2="34.1" stroke="#222" stroke-width="0.7" />
<text x="519.5" y="121.9" font-size="7.2" text-anchor="start" textLength="9.82" lengthAdjust="spacingAndGlyphs" fill="#000" stroke-width="0.08" >0.5</text>
<line x1="438.18" y1="113.4" x2="438.18" y2="111.8" stroke="#222" stroke-width="0.6" />
<line x1="438.18" y1="31.3" x2="438.18" y2="32.9" stroke="#222" stroke-width="0.6" />
<line x1="457.34" y1="113.4" x2="457.34" y2="111.8" stroke="#222" stroke-width="0.6" />
<line x1="457.34" y1="31.3" x2="457.34" y2="32.9" stroke="#222" stroke-width="0.6" />
<line x1="476.5" y1="113.4" x2="476.5" y2="111.8" stroke="#222" stroke-width="0.6" />
<line x1="476.5" y1="31.3" x2="476.5" y2="32.9" stroke="#222" stroke-width="0.6" />
<line x1="495.66" y1="113.4" x2="495.66" y2="111.8" stroke="#222" stroke-width="0.6" />
<line x1="495.66" y1="31.3" x2="495.66" y2="32.9" stroke="#222" stroke-width="0.6" />
<line x1="514.82" y1="113.4" x2="514.82" y2="111.8" stroke="#222" stroke-width="0.6" />
<line x1="514.82" y1="31.3" x2="514.82" y2="32.9" stroke="#222" stroke-width="0.6" />
<line x1="473.3" y1="31.3" x2="473.3" y2="113.4" stroke="#6a6a6a" stroke-width="1.15" />
<line x1="457.5" y1="113.4" x2="457.5" y2="31.3" stroke="#111" stroke-width="1.05" stroke-dasharray="4.7,2.3"/>
<line x1="492.1" y1="113.4" x2="492.1" y2="31.3" stroke="#111" stroke-width="1.05" stroke-dasharray="4.7,2.3"/>
<rect x="428.6" y="31.3" width="95.8" height="82.1" fill="none" stroke="#2a2a2a" stroke-width="1.1"/>
<text x="445.1" y="26.8" font-size="8.3" text-anchor="start" textLength="3.35" lengthAdjust="spacingAndGlyphs" fill="#000" stroke-width="0.14" >f</text>
<text x="448.25" y="28.3" font-size="5.7" text-anchor="start" textLength="12.16" lengthAdjust="spacingAndGlyphs" fill="#000" stroke-width="0.08" >spot</text>
<text x="463.94" y="26.8" font-size="8.3" text-anchor="start" textLength="7.28" lengthAdjust="spacingAndGlyphs" fill="#000" stroke-width="0.14" >=</text>
<text x="473.92" y="26.8" font-size="8.3" text-anchor="start" textLength="16.82" lengthAdjust="spacingAndGlyphs" fill="#000" stroke-width="0.14" >0.23</text>
<text x="490.89" y="23.5" font-size="5.7" text-anchor="start" textLength="16.98" lengthAdjust="spacingAndGlyphs" fill="#000" stroke-width="0.08" >+0.10</text>
<text x="490.89" y="29" font-size="5.7" text-anchor="start" textLength="16.98" lengthAdjust="spacingAndGlyphs" fill="#000" stroke-width="0.08" >−0.08</text>
<polygon points="541.5,113.4 541.5,39.8 543.2,39.8 543.2,42.8 544.8,42.8 544.8,41 546.5,41 546.5,42.8 548.1,42.8 548.1,38.7 549.7,38.7 549.7,39.5 550.8,39.5 550.8,49 552.5,49 552.5,41.5 554.1,41.5 554.1,50.2 555.7,50.2 555.7,54.3 557.4,54.3 557.4,57.2 559,57.2 559,61.7 561.2,61.7 561.2,66.6 563.3,66.6 563.3,71.5 565.3,71.5 565.3,76.4 567.2,76.4 567.2,82.2 569.4,82.2 569.4,88.8 571.5,88.8 571.5,93.7 573.5,93.7 573.5,97 575.5,97 575.5,100.2 577.6,100.2 577.6,103.5 579.7,103.5 579.7,105.5 581.7,105.5 581.7,106.8 583.7,106.8 583.7,108.5 585.8,108.5 585.8,110.1 587.9,110.1 587.9,111.2 590.5,111.2 590.5,111.8 594.4,111.8 594.4,112.4 598,112.4 598,113.4" fill="#b2c3f2" />
<polyline points="541.5,113.4 541.5,39.8 543.2,39.8 543.2,42.8 544.8,42.8 544.8,41 546.5,41 546.5,42.8 548.1,42.8 548.1,38.7 549.7,38.7 549.7,39.5 550.8,39.5 550.8,49 552.5,49 552.5,41.5 554.1,41.5 554.1,50.2 555.7,50.2 555.7,54.3 557.4,54.3 557.4,57.2 559,57.2 559,61.7 561.2,61.7 561.2,66.6 563.3,66.6 563.3,71.5 565.3,71.5 565.3,76.4 567.2,76.4 567.2,82.2 569.4,82.2 569.4,88.8 571.5,88.8 571.5,93.7 573.5,93.7 573.5,97 575.5,97 575.5,100.2 577.6,100.2 577.6,103.5 579.7,103.5 579.7,105.5 581.7,105.5 581.7,106.8 583.7,106.8 583.7,108.5 585.8,108.5 585.8,110.1 587.9,110.1 587.9,111.2 590.5,111.2 590.5,111.8 594.4,111.8 594.4,112.4 598,112.4 598,113.4" fill="none" stroke="#111" stroke-width="0.9" stroke-linejoin="round" />
<line x1="541.5" y1="113.4" x2="541.5" y2="110.6" stroke="#222" stroke-width="0.7" />
<line x1="541.5" y1="31.3" x2="541.5" y2="34.1" stroke="#222" stroke-width="0.7" />
<text x="533.48" y="121.9" font-size="7.2" text-anchor="start" textLength="15.98" lengthAdjust="spacingAndGlyphs" fill="#000" stroke-width="0.08" >2300</text>
<line x1="560.7" y1="113.4" x2="560.7" y2="110.6" stroke="#222" stroke-width="0.7" />
<line x1="560.7" y1="31.3" x2="560.7" y2="34.1" stroke="#222" stroke-width="0.7" />
<text x="552.68" y="121.9" font-size="7.2" text-anchor="start" textLength="15.98" lengthAdjust="spacingAndGlyphs" fill="#000" stroke-width="0.08" >2400</text>
<line x1="579.9" y1="113.4" x2="579.9" y2="110.6" stroke="#222" stroke-width="0.7" />
<line x1="579.9" y1="31.3" x2="579.9" y2="34.1" stroke="#222" stroke-width="0.7" />
<text x="571.88" y="121.9" font-size="7.2" text-anchor="start" textLength="15.98" lengthAdjust="spacingAndGlyphs" fill="#000" stroke-width="0.08" >2500</text>
<line x1="599.1" y1="113.4" x2="599.1" y2="110.6" stroke="#222" stroke-width="0.7" />
<line x1="599.1" y1="31.3" x2="599.1" y2="34.1" stroke="#222" stroke-width="0.7" />
<text x="591.08" y="121.9" font-size="7.2" text-anchor="start" textLength="15.98" lengthAdjust="spacingAndGlyphs" fill="#000" stroke-width="0.08" >2600</text>
<line x1="618.3" y1="113.4" x2="618.3" y2="110.6" stroke="#222" stroke-width="0.7" />
<line x1="618.3" y1="31.3" x2="618.3" y2="34.1" stroke="#222" stroke-width="0.7" />
<text x="610.28" y="121.9" font-size="7.2" text-anchor="start" textLength="15.98" lengthAdjust="spacingAndGlyphs" fill="#000" stroke-width="0.08" >2700</text>
<line x1="637.5" y1="113.4" x2="637.5" y2="110.6" stroke="#222" stroke-width="0.7" />
<line x1="637.5" y1="31.3" x2="637.5" y2="34.1" stroke="#222" stroke-width="0.7" />
<text x="629.48" y="121.9" font-size="7.2" text-anchor="start" textLength="15.98" lengthAdjust="spacingAndGlyphs" fill="#000" stroke-width="0.08" >2800</text>
<line x1="551.1" y1="113.4" x2="551.1" y2="111.8" stroke="#222" stroke-width="0.6" />
<line x1="551.1" y1="31.3" x2="551.1" y2="32.9" stroke="#222" stroke-width="0.6" />
<line x1="570.3" y1="113.4" x2="570.3" y2="111.8" stroke="#222" stroke-width="0.6" />
<line x1="570.3" y1="31.3" x2="570.3" y2="32.9" stroke="#222" stroke-width="0.6" />
<line x1="589.5" y1="113.4" x2="589.5" y2="111.8" stroke="#222" stroke-width="0.6" />
<line x1="589.5" y1="31.3" x2="589.5" y2="32.9" stroke="#222" stroke-width="0.6" />
<line x1="608.7" y1="113.4" x2="608.7" y2="111.8" stroke="#222" stroke-width="0.6" />
<line x1="608.7" y1="31.3" x2="608.7" y2="32.9" stroke="#222" stroke-width="0.6" />
<line x1="627.9" y1="113.4" x2="627.9" y2="111.8" stroke="#222" stroke-width="0.6" />
<line x1="627.9" y1="31.3" x2="627.9" y2="32.9" stroke="#222" stroke-width="0.6" />
<line x1="554.9" y1="31.3" x2="554.9" y2="113.4" stroke="#6a6a6a" stroke-width="1.15" />
<line x1="545.6" y1="113.4" x2="545.6" y2="31.3" stroke="#111" stroke-width="1.05" stroke-dasharray="4.7,2.3"/>
<line x1="568.6" y1="113.4" x2="568.6" y2="31.3" stroke="#111" stroke-width="1.05" stroke-dasharray="4.7,2.3"/>
<rect x="541.5" y="31.3" width="96" height="82.1" fill="none" stroke="#2a2a2a" stroke-width="1.1"/>
<text x="558.72" y="26.8" font-size="8.3" text-anchor="start" textLength="5.27" lengthAdjust="spacingAndGlyphs" fill="#000" stroke-width="0.14" >T</text>
<text x="563.66" y="28.3" font-size="5.7" text-anchor="start" textLength="12.16" lengthAdjust="spacingAndGlyphs" fill="#000" stroke-width="0.08" >spot</text>
<text x="579.35" y="26.8" font-size="8.3" text-anchor="start" textLength="7.28" lengthAdjust="spacingAndGlyphs" fill="#000" stroke-width="0.14" >=</text>
<text x="589.26" y="26.8" font-size="8.3" text-anchor="start" textLength="19.38" lengthAdjust="spacingAndGlyphs" fill="#000" stroke-width="0.14" >2370</text>
<text x="608.8" y="23.5" font-size="5.7" text-anchor="start" textLength="11.6" lengthAdjust="spacingAndGlyphs" fill="#000" stroke-width="0.08" >+70</text>
<text x="608.8" y="29" font-size="5.7" text-anchor="start" textLength="11.6" lengthAdjust="spacingAndGlyphs" fill="#000" stroke-width="0.08" >−48</text>
<polygon points="668.1,113.4 668.1,112.6 671.4,112.6 671.4,110.9 673.9,110.9 673.9,108.5 676,108.5 676,102.7 678,102.7 678,94.5 680,94.5 680,83.8 682.1,83.8 682.1,77.3 684.2,77.3 684.2,76.4 686.2,76.4 686.2,64.9 687.8,64.9 687.8,51 689.8,51 689.8,44.4 692,44.4 692,42.8 694.1,42.8 694.1,40.3 696,40.3 696,39.2 698,39.2 698,38.7 700.2,38.7 700.2,38.7 702,38.7 702,41.1 704.1,41.1 704.1,46.9 706.2,46.9 706.2,60.8 708.2,60.8 708.2,67.4 710.2,67.4 710.2,79.7 712.3,79.7 712.3,89.6 714.4,89.6 714.4,97.8 716.4,97.8 716.4,101.6 718.4,101.6 718.4,106 720.5,106 720.5,109.3 722.5,109.3 722.5,110.9 724.6,110.9 724.6,112.1 727.9,112.1 727.9,112.8 732.8,112.8 732.8,113.4" fill="#b2c3f2" />
<polyline points="668.1,113.4 668.1,112.6 671.4,112.6 671.4,110.9 673.9,110.9 673.9,108.5 676,108.5 676,102.7 678,102.7 678,94.5 680,94.5 680,83.8 682.1,83.8 682.1,77.3 684.2,77.3 684.2,76.4 686.2,76.4 686.2,64.9 687.8,64.9 687.8,51 689.8,51 689.8,44.4 692,44.4 692,42.8 694.1,42.8 694.1,40.3 696,40.3 696,39.2 698,39.2 698,38.7 700.2,38.7 700.2,38.7 702,38.7 702,41.1 704.1,41.1 704.1,46.9 706.2,46.9 706.2,60.8 708.2,60.8 708.2,67.4 710.2,67.4 710.2,79.7 712.3,79.7 712.3,89.6 714.4,89.6 714.4,97.8 716.4,97.8 716.4,101.6 718.4,101.6 718.4,106 720.5,106 720.5,109.3 722.5,109.3 722.5,110.9 724.6,110.9 724.6,112.1 727.9,112.1 727.9,112.8 732.8,112.8 732.8,113.4" fill="none" stroke="#111" stroke-width="0.9" stroke-linejoin="round" />
<line x1="657.1" y1="113.4" x2="657.1" y2="110.6" stroke="#222" stroke-width="0.7" />
<line x1="657.1" y1="31.3" x2="657.1" y2="34.1" stroke="#222" stroke-width="0.7" />
<text x="649.08" y="121.9" font-size="7.2" text-anchor="start" textLength="15.98" lengthAdjust="spacingAndGlyphs" fill="#000" stroke-width="0.08" >2400</text>
<line x1="669.05" y1="113.4" x2="669.05" y2="110.6" stroke="#222" stroke-width="0.7" />
<line x1="669.05" y1="31.3" x2="669.05" y2="34.1" stroke="#222" stroke-width="0.7" />
<text x="661.03" y="121.9" font-size="7.2" text-anchor="start" textLength="15.98" lengthAdjust="spacingAndGlyphs" fill="#000" stroke-width="0.08" >2450</text>
<line x1="681" y1="113.4" x2="681" y2="110.6" stroke="#222" stroke-width="0.7" />
<line x1="681" y1="31.3" x2="681" y2="34.1" stroke="#222" stroke-width="0.7" />
<text x="672.98" y="121.9" font-size="7.2" text-anchor="start" textLength="15.98" lengthAdjust="spacingAndGlyphs" fill="#000" stroke-width="0.08" >2500</text>
<line x1="692.95" y1="113.4" x2="692.95" y2="110.6" stroke="#222" stroke-width="0.7" />
<line x1="692.95" y1="31.3" x2="692.95" y2="34.1" stroke="#222" stroke-width="0.7" />
<text x="684.93" y="121.9" font-size="7.2" text-anchor="start" textLength="15.98" lengthAdjust="spacingAndGlyphs" fill="#000" stroke-width="0.08" >2550</text>
<line x1="704.9" y1="113.4" x2="704.9" y2="110.6" stroke="#222" stroke-width="0.7" />
<line x1="704.9" y1="31.3" x2="704.9" y2="34.1" stroke="#222" stroke-width="0.7" />
<text x="696.88" y="121.9" font-size="7.2" text-anchor="start" textLength="15.98" lengthAdjust="spacingAndGlyphs" fill="#000" stroke-width="0.08" >2600</text>
<line x1="716.85" y1="113.4" x2="716.85" y2="110.6" stroke="#222" stroke-width="0.7" />
<line x1="716.85" y1="31.3" x2="716.85" y2="34.1" stroke="#222" stroke-width="0.7" />
<text x="708.83" y="121.9" font-size="7.2" text-anchor="start" textLength="15.98" lengthAdjust="spacingAndGlyphs" fill="#000" stroke-width="0.08" >2650</text>
<line x1="728.8" y1="113.4" x2="728.8" y2="110.6" stroke="#222" stroke-width="0.7" />
<line x1="728.8" y1="31.3" x2="728.8" y2="34.1" stroke="#222" stroke-width="0.7" />
<text x="720.78" y="121.9" font-size="7.2" text-anchor="start" textLength="15.98" lengthAdjust="spacingAndGlyphs" fill="#000" stroke-width="0.08" >2700</text>
<line x1="740.75" y1="113.4" x2="740.75" y2="110.6" stroke="#222" stroke-width="0.7" />
<line x1="740.75" y1="31.3" x2="740.75" y2="34.1" stroke="#222" stroke-width="0.7" />
<text x="732.73" y="121.9" font-size="7.2" text-anchor="start" textLength="15.98" lengthAdjust="spacingAndGlyphs" fill="#000" stroke-width="0.08" >2750</text>
<line x1="752.7" y1="113.4" x2="752.7" y2="110.6" stroke="#222" stroke-width="0.7" />
<line x1="752.7" y1="31.3" x2="752.7" y2="34.1" stroke="#222" stroke-width="0.7" />
<text x="744.68" y="121.9" font-size="7.2" text-anchor="start" textLength="15.98" lengthAdjust="spacingAndGlyphs" fill="#000" stroke-width="0.08" >2800</text>
<line x1="698" y1="31.3" x2="698" y2="113.4" stroke="#6a6a6a" stroke-width="1.15" />
<line x1="687.8" y1="113.4" x2="687.8" y2="31.3" stroke="#111" stroke-width="1.05" stroke-dasharray="4.7,2.3"/>
<line x1="708.2" y1="113.4" x2="708.2" y2="31.3" stroke="#111" stroke-width="1.05" stroke-dasharray="4.7,2.3"/>
<rect x="657.1" y="31.3" width="95.6" height="82.1" fill="none" stroke="#2a2a2a" stroke-width="1.1"/>
<text x="673.98" y="26.8" font-size="8.3" text-anchor="start" textLength="5.27" lengthAdjust="spacingAndGlyphs" fill="#000" stroke-width="0.14" >T</text>
<text x="679.11" y="28.3" font-size="5.7" text-anchor="start" textLength="12.87" lengthAdjust="spacingAndGlyphs" fill="#000" stroke-width="0.08" >phot</text>
<text x="695.5" y="26.8" font-size="8.3" text-anchor="start" textLength="7.28" lengthAdjust="spacingAndGlyphs" fill="#000" stroke-width="0.14" >=</text>
<text x="705.42" y="26.8" font-size="8.3" text-anchor="start" textLength="19" lengthAdjust="spacingAndGlyphs" fill="#000" stroke-width="0.14" >2571</text>
<text x="724.38" y="23.5" font-size="5.7" text-anchor="start" textLength="11.58" lengthAdjust="spacingAndGlyphs" fill="#000" stroke-width="0.08" >+43</text>
<text x="724.38" y="29" font-size="5.7" text-anchor="start" textLength="11.54" lengthAdjust="spacingAndGlyphs" fill="#000" stroke-width="0.08" >−42</text>
<polygon points="428.6,226.5 428.6,163.7 433.2,163.7 433.2,151.7 437.6,151.7 437.6,157.4 440.9,157.4 440.9,157.4 444.2,157.4 444.2,156.9 447.5,156.9 447.5,160.4 451.9,160.4 451.9,157.1 456.4,157.1 456.4,161.2 460.5,161.2 460.5,160.4 466.2,160.4 466.2,163.7 471.1,163.7 471.1,162.4 476.1,162.4 476.1,165.6 480.1,165.6 480.1,175.2 484.2,175.2 484.2,170.6 486.7,170.6 486.7,169.3 489.4,169.3 489.4,174.7 493.7,174.7 493.7,180.4 498.6,180.4 498.6,185.4 503,185.4 503,189.5 507.9,189.5 507.9,200.1 512.9,200.1 512.9,203.4 517.8,203.4 517.8,217.4 522.3,217.4 522.3,219.8 524.4,219.8 524.4,226.5" fill="#b2c3f2" />
<polyline points="428.6,226.5 428.6,163.7 433.2,163.7 433.2,151.7 437.6,151.7 437.6,157.4 440.9,157.4 440.9,157.4 444.2,157.4 444.2,156.9 447.5,156.9 447.5,160.4 451.9,160.4 451.9,157.1 456.4,157.1 456.4,161.2 460.5,161.2 460.5,160.4 466.2,160.4 466.2,163.7 471.1,163.7 471.1,162.4 476.1,162.4 476.1,165.6 480.1,165.6 480.1,175.2 484.2,175.2 484.2,170.6 486.7,170.6 486.7,169.3 489.4,169.3 489.4,174.7 493.7,174.7 493.7,180.4 498.6,180.4 498.6,185.4 503,185.4 503,189.5 507.9,189.5 507.9,200.1 512.9,200.1 512.9,203.4 517.8,203.4 517.8,217.4 522.3,217.4 522.3,219.8 524.4,219.8 524.4,226.5" fill="none" stroke="#111" stroke-width="0.9" stroke-linejoin="round" />
<line x1="428.6" y1="226.5" x2="428.6" y2="223.7" stroke="#222" stroke-width="0.7" />
<line x1="428.6" y1="144.3" x2="428.6" y2="147.1" stroke="#222" stroke-width="0.7" />
<text x="424.04" y="235" font-size="7.2" text-anchor="start" textLength="9" lengthAdjust="spacingAndGlyphs" fill="#000" stroke-width="0.08" >−8</text>
<line x1="440.58" y1="226.5" x2="440.58" y2="223.7" stroke="#222" stroke-width="0.7" />
<line x1="440.58" y1="144.3" x2="440.58" y2="147.1" stroke="#222" stroke-width="0.7" />
<text x="436.04" y="235" font-size="7.2" text-anchor="start" textLength="8.9" lengthAdjust="spacingAndGlyphs" fill="#000" stroke-width="0.08" >−7</text>
<line x1="452.55" y1="226.5" x2="452.55" y2="223.7" stroke="#222" stroke-width="0.7" />
<line x1="452.55" y1="144.3" x2="452.55" y2="147.1" stroke="#222" stroke-width="0.7" />
<text x="447.99" y="235" font-size="7.2" text-anchor="start" textLength="8.95" lengthAdjust="spacingAndGlyphs" fill="#000" stroke-width="0.08" >−6</text>
<line x1="464.52" y1="226.5" x2="464.52" y2="223.7" stroke="#222" stroke-width="0.7" />
<line x1="464.52" y1="144.3" x2="464.52" y2="147.1" stroke="#222" stroke-width="0.7" />
<text x="460" y="235" font-size="7.2" text-anchor="start" textLength="8.96" lengthAdjust="spacingAndGlyphs" fill="#000" stroke-width="0.08" >−5</text>
<line x1="476.5" y1="226.5" x2="476.5" y2="223.7" stroke="#222" stroke-width="0.7" />
<line x1="476.5" y1="144.3" x2="476.5" y2="147.1" stroke="#222" stroke-width="0.7" />
<text x="471.9" y="235" font-size="7.2" text-anchor="start" textLength="8.9" lengthAdjust="spacingAndGlyphs" fill="#000" stroke-width="0.08" >−4</text>
<line x1="488.48" y1="226.5" x2="488.48" y2="223.7" stroke="#222" stroke-width="0.7" />
<line x1="488.48" y1="144.3" x2="488.48" y2="147.1" stroke="#222" stroke-width="0.7" />
<text x="483.94" y="235" font-size="7.2" text-anchor="start" textLength="8.97" lengthAdjust="spacingAndGlyphs" fill="#000" stroke-width="0.08" >−3</text>
<line x1="500.45" y1="226.5" x2="500.45" y2="223.7" stroke="#222" stroke-width="0.7" />
<line x1="500.45" y1="144.3" x2="500.45" y2="147.1" stroke="#222" stroke-width="0.7" />
<text x="496" y="235" font-size="7.2" text-anchor="start" textLength="8.94" lengthAdjust="spacingAndGlyphs" fill="#000" stroke-width="0.08" >−2</text>
<line x1="512.42" y1="226.5" x2="512.42" y2="223.7" stroke="#222" stroke-width="0.7" />
<line x1="512.42" y1="144.3" x2="512.42" y2="147.1" stroke="#222" stroke-width="0.7" />
<text x="508.12" y="235" font-size="7.2" text-anchor="start" textLength="8.68" lengthAdjust="spacingAndGlyphs" fill="#000" stroke-width="0.08" >−1</text>
<line x1="524.4" y1="226.5" x2="524.4" y2="223.7" stroke="#222" stroke-width="0.7" />
<line x1="524.4" y1="144.3" x2="524.4" y2="147.1" stroke="#222" stroke-width="0.7" />
<text x="522.51" y="235" font-size="7.2" text-anchor="start" textLength="3.77" lengthAdjust="spacingAndGlyphs" fill="#000" stroke-width="0.08" >0</text>
<line x1="445.4" y1="144.3" x2="445.4" y2="226.5" stroke="#6a6a6a" stroke-width="1.15" />
<line x1="488.1" y1="226.5" x2="488.1" y2="144.3" stroke="#111" stroke-width="1.05" stroke-dasharray="4.7,2.3"/>
<rect x="428.6" y="144.3" width="95.8" height="82.2" fill="none" stroke="#2a2a2a" stroke-width="1.1"/>
<text x="437.96" y="139.8" font-size="8.3" text-anchor="start" textLength="21.01" lengthAdjust="spacingAndGlyphs" fill="#000" stroke-width="0.14" >log H</text>
<text x="458.49" y="141.3" font-size="5.7" text-anchor="start" textLength="3.32" lengthAdjust="spacingAndGlyphs" fill="#000" stroke-width="0.08" >2</text>
<text x="465" y="139.8" font-size="8.3" text-anchor="start" textLength="7.28" lengthAdjust="spacingAndGlyphs" fill="#000" stroke-width="0.14" >=</text>
<text x="474.84" y="139.8" font-size="8.3" text-anchor="start" textLength="23.14" lengthAdjust="spacingAndGlyphs" fill="#000" stroke-width="0.14" >−6.60</text>
<text x="498.15" y="136.5" font-size="5.7" text-anchor="start" textLength="16.98" lengthAdjust="spacingAndGlyphs" fill="#000" stroke-width="0.08" >+3.58</text>
<text x="498.15" y="142" font-size="5.7" text-anchor="start" textLength="16.89" lengthAdjust="spacingAndGlyphs" fill="#000" stroke-width="0.08" >−3.37</text>
<polygon points="541.5,226.5 541.5,218.2 551.3,218.2 551.3,217.4 560.4,217.4 560.4,216.9 565.3,216.9 565.3,217.9 570.2,217.9 570.2,216.2 580.1,216.2 580.1,217.4 585,217.4 585,217.9 594.8,217.9 594.8,218.2 599.7,218.2 599.7,217.4 603,217.4 603,218.2 612.9,218.2 612.9,218.7 622.7,218.7 622.7,217.9 627.6,217.9 627.6,217.1 632.6,217.1 632.6,151.7 637.2,151.7 637.2,226.5" fill="#b2c3f2" />
<polyline points="541.5,226.5 541.5,218.2 551.3,218.2 551.3,217.4 560.4,217.4 560.4,216.9 565.3,216.9 565.3,217.9 570.2,217.9 570.2,216.2 580.1,216.2 580.1,217.4 585,217.4 585,217.9 594.8,217.9 594.8,218.2 599.7,218.2 599.7,217.4 603,217.4 603,218.2 612.9,218.2 612.9,218.7 622.7,218.7 622.7,217.9 627.6,217.9 627.6,217.1 632.6,217.1 632.6,151.7 637.2,151.7 637.2,226.5" fill="none" stroke="#111" stroke-width="0.9" stroke-linejoin="round" />
<line x1="541.5" y1="226.5" x2="541.5" y2="223.7" stroke="#222" stroke-width="0.7" />
<line x1="541.5" y1="144.3" x2="541.5" y2="147.1" stroke="#222" stroke-width="0.7" />
<text x="536.94" y="235" font-size="7.2" text-anchor="start" textLength="9" lengthAdjust="spacingAndGlyphs" fill="#000" stroke-width="0.08" >−8</text>
<line x1="553.5" y1="226.5" x2="553.5" y2="223.7" stroke="#222" stroke-width="0.7" />
<line x1="553.5" y1="144.3" x2="553.5" y2="147.1" stroke="#222" stroke-width="0.7" />
<text x="548.96" y="235" font-size="7.2" text-anchor="start" textLength="8.9" lengthAdjust="spacingAndGlyphs" fill="#000" stroke-width="0.08" >−7</text>
<line x1="565.5" y1="226.5" x2="565.5" y2="223.7" stroke="#222" stroke-width="0.7" />
<line x1="565.5" y1="144.3" x2="565.5" y2="147.1" stroke="#222" stroke-width="0.7" />
<text x="560.94" y="235" font-size="7.2" text-anchor="start" textLength="8.95" lengthAdjust="spacingAndGlyphs" fill="#000" stroke-width="0.08" >−6</text>
<line x1="577.5" y1="226.5" x2="577.5" y2="223.7" stroke="#222" stroke-width="0.7" />
<line x1="577.5" y1="144.3" x2="577.5" y2="147.1" stroke="#222" stroke-width="0.7" />
<text x="572.98" y="235" font-size="7.2" text-anchor="start" textLength="8.96" lengthAdjust="spacingAndGlyphs" fill="#000" stroke-width="0.08" >−5</text>
<line x1="589.5" y1="226.5" x2="589.5" y2="223.7" stroke="#222" stroke-width="0.7" />
<line x1="589.5" y1="144.3" x2="589.5" y2="147.1" stroke="#222" stroke-width="0.7" />
<text x="584.9" y="235" font-size="7.2" text-anchor="start" textLength="8.9" lengthAdjust="spacingAndGlyphs" fill="#000" stroke-width="0.08" >−4</text>
<line x1="601.5" y1="226.5" x2="601.5" y2="223.7" stroke="#222" stroke-width="0.7" />
<line x1="601.5" y1="144.3" x2="601.5" y2="147.1" stroke="#222" stroke-width="0.7" />
<text x="596.97" y="235" font-size="7.2" text-anchor="start" textLength="8.97" lengthAdjust="spacingAndGlyphs" fill="#000" stroke-width="0.08" >−3</text>
<line x1="613.5" y1="226.5" x2="613.5" y2="223.7" stroke="#222" stroke-width="0.7" />
<line x1="613.5" y1="144.3" x2="613.5" y2="147.1" stroke="#222" stroke-width="0.7" />
<text x="609.05" y="235" font-size="7.2" text-anchor="start" textLength="8.94" lengthAdjust="spacingAndGlyphs" fill="#000" stroke-width="0.08" >−2</text>
<line x1="625.5" y1="226.5" x2="625.5" y2="223.7" stroke="#222" stroke-width="0.7" />
<line x1="625.5" y1="144.3" x2="625.5" y2="147.1" stroke="#222" stroke-width="0.7" />
<text x="621.19" y="235" font-size="7.2" text-anchor="start" textLength="8.68" lengthAdjust="spacingAndGlyphs" fill="#000" stroke-width="0.08" >−1</text>
<line x1="637.5" y1="226.5" x2="637.5" y2="223.7" stroke="#222" stroke-width="0.7" />
<line x1="637.5" y1="144.3" x2="637.5" y2="147.1" stroke="#222" stroke-width="0.7" />
<text x="635.61" y="235" font-size="7.2" text-anchor="start" textLength="3.77" lengthAdjust="spacingAndGlyphs" fill="#000" stroke-width="0.08" >0</text>
<line x1="590.7" y1="144.3" x2="590.7" y2="226.5" stroke="#6a6a6a" stroke-width="1.15" />
<rect x="541.5" y="144.3" width="96" height="82.2" fill="none" stroke="#2a2a2a" stroke-width="1.1"/>
<text x="548" y="139.8" font-size="8.3" text-anchor="start" textLength="21.01" lengthAdjust="spacingAndGlyphs" fill="#000" stroke-width="0.14" >log H</text>
<text x="568.53" y="141.3" font-size="5.7" text-anchor="start" textLength="3.32" lengthAdjust="spacingAndGlyphs" fill="#000" stroke-width="0.08" >2</text>
<text x="571.54" y="139.8" font-size="8.3" text-anchor="start" textLength="6.17" lengthAdjust="spacingAndGlyphs" fill="#000" stroke-width="0.14" >O</text>
<text x="580.91" y="139.8" font-size="8.3" text-anchor="start" textLength="7.28" lengthAdjust="spacingAndGlyphs" fill="#000" stroke-width="0.14" >=</text>
<text x="590.75" y="139.8" font-size="8.3" text-anchor="start" textLength="23.02" lengthAdjust="spacingAndGlyphs" fill="#000" stroke-width="0.14" >−3.87</text>
<text x="614.02" y="136.5" font-size="5.7" text-anchor="start" textLength="16.89" lengthAdjust="spacingAndGlyphs" fill="#000" stroke-width="0.08" >+3.87</text>
<text x="614.02" y="142" font-size="5.7" text-anchor="start" textLength="16.89" lengthAdjust="spacingAndGlyphs" fill="#000" stroke-width="0.08" >−4.54</text>
<polygon points="657.1,226.5 657.1,217 662.4,217 662.4,216.2 671.4,216.2 671.4,217.9 681.3,217.9 681.3,218.5 695.2,218.5 695.2,220.2 709.2,220.2 709.2,221.2 728.9,221.2 728.9,221.8 738.8,221.8 738.8,220.8 743.7,220.8 743.7,219.2 748.3,219.2 748.3,151.7 752.2,151.7 752.2,226.5" fill="#b2c3f2" />
<polyline points="657.1,226.5 657.1,217 662.4,217 662.4,216.2 671.4,216.2 671.4,217.9 681.3,217.9 681.3,218.5 695.2,218.5 695.2,220.2 709.2,220.2 709.2,221.2 728.9,221.2 728.9,221.8 738.8,221.8 738.8,220.8 743.7,220.8 743.7,219.2 748.3,219.2 748.3,151.7 752.2,151.7 752.2,226.5" fill="none" stroke="#111" stroke-width="0.9" stroke-linejoin="round" />
<line x1="657.1" y1="226.5" x2="657.1" y2="223.7" stroke="#222" stroke-width="0.7" />
<line x1="657.1" y1="144.3" x2="657.1" y2="147.1" stroke="#222" stroke-width="0.7" />
<text x="652.54" y="235" font-size="7.2" text-anchor="start" textLength="9" lengthAdjust="spacingAndGlyphs" fill="#000" stroke-width="0.08" >−8</text>
<line x1="669.05" y1="226.5" x2="669.05" y2="223.7" stroke="#222" stroke-width="0.7" />
<line x1="669.05" y1="144.3" x2="669.05" y2="147.1" stroke="#222" stroke-width="0.7" />
<text x="664.51" y="235" font-size="7.2" text-anchor="start" textLength="8.9" lengthAdjust="spacingAndGlyphs" fill="#000" stroke-width="0.08" >−7</text>
<line x1="681" y1="226.5" x2="681" y2="223.7" stroke="#222" stroke-width="0.7" />
<line x1="681" y1="144.3" x2="681" y2="147.1" stroke="#222" stroke-width="0.7" />
<text x="676.44" y="235" font-size="7.2" text-anchor="start" textLength="8.95" lengthAdjust="spacingAndGlyphs" fill="#000" stroke-width="0.08" >−6</text>
<line x1="692.95" y1="226.5" x2="692.95" y2="223.7" stroke="#222" stroke-width="0.7" />
<line x1="692.95" y1="144.3" x2="692.95" y2="147.1" stroke="#222" stroke-width="0.7" />
<text x="688.43" y="235" font-size="7.2" text-anchor="start" textLength="8.96" lengthAdjust="spacingAndGlyphs" fill="#000" stroke-width="0.08" >−5</text>
<line x1="704.9" y1="226.5" x2="704.9" y2="223.7" stroke="#222" stroke-width="0.7" />
<line x1="704.9" y1="144.3" x2="704.9" y2="147.1" stroke="#222" stroke-width="0.7" />
<text x="700.3" y="235" font-size="7.2" text-anchor="start" textLength="8.9" lengthAdjust="spacingAndGlyphs" fill="#000" stroke-width="0.08" >−4</text>
<line x1="716.85" y1="226.5" x2="716.85" y2="223.7" stroke="#222" stroke-width="0.7" />
<line x1="716.85" y1="144.3" x2="716.85" y2="147.1" stroke="#222" stroke-width="0.7" />
<text x="712.32" y="235" font-size="7.2" text-anchor="start" textLength="8.97" lengthAdjust="spacingAndGlyphs" fill="#000" stroke-width="0.08" >−3</text>
<line x1="728.8" y1="226.5" x2="728.8" y2="223.7" stroke="#222" stroke-width="0.7" />
<line x1="728.8" y1="144.3" x2="728.8" y2="147.1" stroke="#222" stroke-width="0.7" />
<text x="724.35" y="235" font-size="7.2" text-anchor="start" textLength="8.94" lengthAdjust="spacingAndGlyphs" fill="#000" stroke-width="0.08" >−2</text>
<line x1="740.75" y1="226.5" x2="740.75" y2="223.7" stroke="#222" stroke-width="0.7" />
<line x1="740.75" y1="144.3" x2="740.75" y2="147.1" stroke="#222" stroke-width="0.7" />
<text x="736.44" y="235" font-size="7.2" text-anchor="start" textLength="8.68" lengthAdjust="spacingAndGlyphs" fill="#000" stroke-width="0.08" >−1</text>
<line x1="752.7" y1="226.5" x2="752.7" y2="223.7" stroke="#222" stroke-width="0.7" />
<line x1="752.7" y1="144.3" x2="752.7" y2="147.1" stroke="#222" stroke-width="0.7" />
<text x="750.81" y="235" font-size="7.2" text-anchor="start" textLength="3.77" lengthAdjust="spacingAndGlyphs" fill="#000" stroke-width="0.08" >0</text>
<line x1="696.1" y1="144.3" x2="696.1" y2="226.5" stroke="#6a6a6a" stroke-width="1.15" />
<rect x="657.1" y="144.3" width="95.6" height="82.2" fill="none" stroke="#2a2a2a" stroke-width="1.1"/>
<text x="663.62" y="139.8" font-size="8.3" text-anchor="start" textLength="26.59" lengthAdjust="spacingAndGlyphs" fill="#000" stroke-width="0.14" >log CO</text>
<text x="689.63" y="141.3" font-size="5.7" text-anchor="start" textLength="3.32" lengthAdjust="spacingAndGlyphs" fill="#000" stroke-width="0.08" >2</text>
<text x="696.14" y="139.8" font-size="8.3" text-anchor="start" textLength="7.28" lengthAdjust="spacingAndGlyphs" fill="#000" stroke-width="0.14" >=</text>
<text x="705.98" y="139.8" font-size="8.3" text-anchor="start" textLength="23.16" lengthAdjust="spacingAndGlyphs" fill="#000" stroke-width="0.14" >−4.69</text>
<text x="729.29" y="136.5" font-size="5.7" text-anchor="start" textLength="16.98" lengthAdjust="spacingAndGlyphs" fill="#000" stroke-width="0.08" >+4.68</text>
<text x="729.29" y="142" font-size="5.7" text-anchor="start" textLength="16.98" lengthAdjust="spacingAndGlyphs" fill="#000" stroke-width="0.08" >−4.30</text>
<polygon points="428.63,384.7 428.63,381.28 432.66,381.28 432.66,353.24 435.64,353.24 435.64,310.12 438.62,310.12 438.62,305.39 441.77,305.39 441.77,318.54 444.75,318.54 444.75,325.2 447.91,325.2 447.91,331.68 451.41,331.68 451.41,332.21 457.55,332.21 457.55,331.15 460.7,331.15 460.7,328.17 463.68,328.17 463.68,332.91 467.18,332.91 467.18,333.43 470.69,333.43 470.69,330.45 473.67,330.45 473.67,321.16 476.82,321.16 476.82,325.55 479.45,325.55 479.45,320.29 482.96,320.29 482.96,327.3 486.46,327.3 486.46,316.78 489.97,316.78 489.97,319.94 492.95,319.94 492.95,314.68 496.1,314.68 496.1,315.38 499.26,315.38 499.26,314.15 502.24,314.15 502.24,318.19 504.86,318.19 504.86,320.29 508.37,320.29 508.37,321.16 511.87,321.16 511.87,328.17 514.5,328.17 514.5,329.93 518.01,329.93 518.01,336.06 520.99,336.06 520.99,346.23 523.62,346.23 523.62,384.7" fill="#a6d0a7" />
<polyline points="428.63,384.7 428.63,381.28 432.66,381.28 432.66,353.24 435.64,353.24 435.64,310.12 438.62,310.12 438.62,305.39 441.77,305.39 441.77,318.54 444.75,318.54 444.75,325.2 447.91,325.2 447.91,331.68 451.41,331.68 451.41,332.21 457.55,332.21 457.55,331.15 460.7,331.15 460.7,328.17 463.68,328.17 463.68,332.91 467.18,332.91 467.18,333.43 470.69,333.43 470.69,330.45 473.67,330.45 473.67,321.16 476.82,321.16 476.82,325.55 479.45,325.55 479.45,320.29 482.96,320.29 482.96,327.3 486.46,327.3 486.46,316.78 489.97,316.78 489.97,319.94 492.95,319.94 492.95,314.68 496.1,314.68 496.1,315.38 499.26,315.38 499.26,314.15 502.24,314.15 502.24,318.19 504.86,318.19 504.86,320.29 508.37,320.29 508.37,321.16 511.87,321.16 511.87,328.17 514.5,328.17 514.5,329.93 518.01,329.93 518.01,336.06 520.99,336.06 520.99,346.23 523.62,346.23 523.62,384.7" fill="none" stroke="#111" stroke-width="0.9" stroke-linejoin="round" />
<line x1="428.6" y1="384.7" x2="428.6" y2="381.9" stroke="#222" stroke-width="0.7" />
<line x1="428.6" y1="297.5" x2="428.6" y2="300.3" stroke="#222" stroke-width="0.7" />
<text x="423.67" y="393.2" font-size="7.2" text-anchor="start" textLength="9.86" lengthAdjust="spacingAndGlyphs" fill="#000" stroke-width="0.08" >0.0</text>
<line x1="447.76" y1="384.7" x2="447.76" y2="381.9" stroke="#222" stroke-width="0.7" />
<line x1="447.76" y1="297.5" x2="447.76" y2="300.3" stroke="#222" stroke-width="0.7" />
<text x="443.08" y="393.2" font-size="7.2" text-anchor="start" textLength="9.54" lengthAdjust="spacingAndGlyphs" fill="#000" stroke-width="0.08" >0.1</text>
<line x1="466.92" y1="384.7" x2="466.92" y2="381.9" stroke="#222" stroke-width="0.7" />
<line x1="466.92" y1="297.5" x2="466.92" y2="300.3" stroke="#222" stroke-width="0.7" />
<text x="462.09" y="393.2" font-size="7.2" text-anchor="start" textLength="9.79" lengthAdjust="spacingAndGlyphs" fill="#000" stroke-width="0.08" >0.2</text>
<line x1="486.08" y1="384.7" x2="486.08" y2="381.9" stroke="#222" stroke-width="0.7" />
<line x1="486.08" y1="297.5" x2="486.08" y2="300.3" stroke="#222" stroke-width="0.7" />
<text x="481.17" y="393.2" font-size="7.2" text-anchor="start" textLength="9.83" lengthAdjust="spacingAndGlyphs" fill="#000" stroke-width="0.08" >0.3</text>
<line x1="505.24" y1="384.7" x2="505.24" y2="381.9" stroke="#222" stroke-width="0.7" />
<line x1="505.24" y1="297.5" x2="505.24" y2="300.3" stroke="#222" stroke-width="0.7" />
<text x="500.26" y="393.2" font-size="7.2" text-anchor="start" textLength="9.78" lengthAdjust="spacingAndGlyphs" fill="#000" stroke-width="0.08" >0.4</text>
<line x1="524.4" y1="384.7" x2="524.4" y2="381.9" stroke="#222" stroke-width="0.7" />
<line x1="524.4" y1="297.5" x2="524.4" y2="300.3" stroke="#222" stroke-width="0.7" />
<text x="519.5" y="393.2" font-size="7.2" text-anchor="start" textLength="9.82" lengthAdjust="spacingAndGlyphs" fill="#000" stroke-width="0.08" >0.5</text>
<line x1="438.18" y1="384.7" x2="438.18" y2="383.1" stroke="#222" stroke-width="0.6" />
<line x1="438.18" y1="297.5" x2="438.18" y2="299.1" stroke="#222" stroke-width="0.6" />
<line x1="457.34" y1="384.7" x2="457.34" y2="383.1" stroke="#222" stroke-width="0.6" />
<line x1="457.34" y1="297.5" x2="457.34" y2="299.1" stroke="#222" stroke-width="0.6" />
<line x1="476.5" y1="384.7" x2="476.5" y2="383.1" stroke="#222" stroke-width="0.6" />
<line x1="476.5" y1="297.5" x2="476.5" y2="299.1" stroke="#222" stroke-width="0.6" />
<line x1="495.66" y1="384.7" x2="495.66" y2="383.1" stroke="#222" stroke-width="0.6" />
<line x1="495.66" y1="297.5" x2="495.66" y2="299.1" stroke="#222" stroke-width="0.6" />
<line x1="514.82" y1="384.7" x2="514.82" y2="383.1" stroke="#222" stroke-width="0.6" />
<line x1="514.82" y1="297.5" x2="514.82" y2="299.1" stroke="#222" stroke-width="0.6" />
<line x1="479.5" y1="297.5" x2="479.5" y2="384.7" stroke="#6a6a6a" stroke-width="1.15" />
<line x1="445.6" y1="384.7" x2="445.6" y2="297.5" stroke="#111" stroke-width="1.05" stroke-dasharray="4.7,2.3"/>
<line x1="508" y1="384.7" x2="508" y2="297.5" stroke="#111" stroke-width="1.05" stroke-dasharray="4.7,2.3"/>
<rect x="428.6" y="297.5" width="95.8" height="87.2" fill="none" stroke="#2a2a2a" stroke-width="1.1"/>
<text x="446.92" y="293" font-size="8.3" text-anchor="start" textLength="3.35" lengthAdjust="spacingAndGlyphs" fill="#000" stroke-width="0.14" >f</text>
<text x="450.15" y="294.5" font-size="5.7" text-anchor="start" textLength="8.61" lengthAdjust="spacingAndGlyphs" fill="#000" stroke-width="0.08" >fac</text>
<text x="462.1" y="293" font-size="8.3" text-anchor="start" textLength="7.28" lengthAdjust="spacingAndGlyphs" fill="#000" stroke-width="0.14" >=</text>
<text x="472.08" y="293" font-size="8.3" text-anchor="start" textLength="16.74" lengthAdjust="spacingAndGlyphs" fill="#000" stroke-width="0.14" >0.27</text>
<text x="489.07" y="289.7" font-size="5.7" text-anchor="start" textLength="16.94" lengthAdjust="spacingAndGlyphs" fill="#000" stroke-width="0.08" >+0.15</text>
<text x="489.07" y="295.2" font-size="5.7" text-anchor="start" textLength="16.98" lengthAdjust="spacingAndGlyphs" fill="#000" stroke-width="0.08" >−0.18</text>
<polygon points="558.28,384.7 558.28,383.73 563.54,383.73 563.54,381.63 566.16,381.63 566.16,373.74 568.44,373.74 568.44,361.47 570.55,361.47 570.55,343.07 572.65,343.07 572.65,318.54 574.05,318.54 574.05,317.66 575.8,317.66 575.8,306.27 577.21,306.27 577.21,305.39 578.61,305.39 578.61,309.77 580.18,309.77 580.18,313.28 581.94,313.28 581.94,326.42 583.69,326.42 583.69,337.81 585.44,337.81 585.44,348.33 587.55,348.33 587.55,360.6 589.82,360.6 589.82,364.98 592.45,364.98 592.45,367.61 595.08,367.61 595.08,371.11 597.71,371.11 597.71,373.74 601.22,373.74 601.22,374.97 605.6,374.97 605.6,377.25 610.85,377.25 610.85,379.87 615.24,379.87 615.24,381.28 620.49,381.28 620.49,382.5 623.12,382.5 623.12,384.7" fill="#a6d0a7" />
<polyline points="558.28,384.7 558.28,383.73 563.54,383.73 563.54,381.63 566.16,381.63 566.16,373.74 568.44,373.74 568.44,361.47 570.55,361.47 570.55,343.07 572.65,343.07 572.65,318.54 574.05,318.54 574.05,317.66 575.8,317.66 575.8,306.27 577.21,306.27 577.21,305.39 578.61,305.39 578.61,309.77 580.18,309.77 580.18,313.28 581.94,313.28 581.94,326.42 583.69,326.42 583.69,337.81 585.44,337.81 585.44,348.33 587.55,348.33 587.55,360.6 589.82,360.6 589.82,364.98 592.45,364.98 592.45,367.61 595.08,367.61 595.08,371.11 597.71,371.11 597.71,373.74 601.22,373.74 601.22,374.97 605.6,374.97 605.6,377.25 610.85,377.25 610.85,379.87 615.24,379.87 615.24,381.28 620.49,381.28 620.49,382.5 623.12,382.5 623.12,384.7" fill="none" stroke="#111" stroke-width="0.9" stroke-linejoin="round" />
<line x1="541.5" y1="384.7" x2="541.5" y2="381.9" stroke="#222" stroke-width="0.7" />
<line x1="541.5" y1="297.5" x2="541.5" y2="300.3" stroke="#222" stroke-width="0.7" />
<text x="533.48" y="393.2" font-size="7.2" text-anchor="start" textLength="15.98" lengthAdjust="spacingAndGlyphs" fill="#000" stroke-width="0.08" >2400</text>
<line x1="553.5" y1="384.7" x2="553.5" y2="381.9" stroke="#222" stroke-width="0.7" />
<line x1="553.5" y1="297.5" x2="553.5" y2="300.3" stroke="#222" stroke-width="0.7" />
<text x="545.48" y="393.2" font-size="7.2" text-anchor="start" textLength="15.98" lengthAdjust="spacingAndGlyphs" fill="#000" stroke-width="0.08" >2500</text>
<line x1="565.5" y1="384.7" x2="565.5" y2="381.9" stroke="#222" stroke-width="0.7" />
<line x1="565.5" y1="297.5" x2="565.5" y2="300.3" stroke="#222" stroke-width="0.7" />
<text x="557.48" y="393.2" font-size="7.2" text-anchor="start" textLength="15.98" lengthAdjust="spacingAndGlyphs" fill="#000" stroke-width="0.08" >2600</text>
<line x1="577.5" y1="384.7" x2="577.5" y2="381.9" stroke="#222" stroke-width="0.7" />
<line x1="577.5" y1="297.5" x2="577.5" y2="300.3" stroke="#222" stroke-width="0.7" />
<text x="569.48" y="393.2" font-size="7.2" text-anchor="start" textLength="15.98" lengthAdjust="spacingAndGlyphs" fill="#000" stroke-width="0.08" >2700</text>
<line x1="589.5" y1="384.7" x2="589.5" y2="381.9" stroke="#222" stroke-width="0.7" />
<line x1="589.5" y1="297.5" x2="589.5" y2="300.3" stroke="#222" stroke-width="0.7" />
<text x="581.48" y="393.2" font-size="7.2" text-anchor="start" textLength="15.98" lengthAdjust="spacingAndGlyphs" fill="#000" stroke-width="0.08" >2800</text>
<line x1="601.5" y1="384.7" x2="601.5" y2="381.9" stroke="#222" stroke-width="0.7" />
<line x1="601.5" y1="297.5" x2="601.5" y2="300.3" stroke="#222" stroke-width="0.7" />
<text x="593.48" y="393.2" font-size="7.2" text-anchor="start" textLength="15.98" lengthAdjust="spacingAndGlyphs" fill="#000" stroke-width="0.08" >2900</text>
<line x1="613.5" y1="384.7" x2="613.5" y2="381.9" stroke="#222" stroke-width="0.7" />
<line x1="613.5" y1="297.5" x2="613.5" y2="300.3" stroke="#222" stroke-width="0.7" />
<text x="605.49" y="393.2" font-size="7.2" text-anchor="start" textLength="15.95" lengthAdjust="spacingAndGlyphs" fill="#000" stroke-width="0.08" >3000</text>
<line x1="625.5" y1="384.7" x2="625.5" y2="381.9" stroke="#222" stroke-width="0.7" />
<line x1="625.5" y1="297.5" x2="625.5" y2="300.3" stroke="#222" stroke-width="0.7" />
<text x="617.49" y="393.2" font-size="7.2" text-anchor="start" textLength="15.95" lengthAdjust="spacingAndGlyphs" fill="#000" stroke-width="0.08" >3100</text>
<line x1="637.5" y1="384.7" x2="637.5" y2="381.9" stroke="#222" stroke-width="0.7" />
<line x1="637.5" y1="297.5" x2="637.5" y2="300.3" stroke="#222" stroke-width="0.7" />
<text x="629.49" y="393.2" font-size="7.2" text-anchor="start" textLength="15.95" lengthAdjust="spacingAndGlyphs" fill="#000" stroke-width="0.08" >3200</text>
<line x1="581.6" y1="297.5" x2="581.6" y2="384.7" stroke="#6a6a6a" stroke-width="1.15" />
<line x1="574.9" y1="384.7" x2="574.9" y2="297.5" stroke="#111" stroke-width="1.05" stroke-dasharray="4.7,2.3"/>
<line x1="593.9" y1="384.7" x2="593.9" y2="297.5" stroke="#111" stroke-width="1.05" stroke-dasharray="4.7,2.3"/>
<rect x="541.5" y="297.5" width="96" height="87.2" fill="none" stroke="#2a2a2a" stroke-width="1.1"/>
<text x="558.72" y="293" font-size="8.3" text-anchor="start" textLength="5.27" lengthAdjust="spacingAndGlyphs" fill="#000" stroke-width="0.14" >T</text>
<text x="563.75" y="294.5" font-size="5.7" text-anchor="start" textLength="8.61" lengthAdjust="spacingAndGlyphs" fill="#000" stroke-width="0.08" >fac</text>
<text x="575.69" y="293" font-size="8.3" text-anchor="start" textLength="7.28" lengthAdjust="spacingAndGlyphs" fill="#000" stroke-width="0.14" >=</text>
<text x="585.61" y="293" font-size="8.3" text-anchor="start" textLength="19.27" lengthAdjust="spacingAndGlyphs" fill="#000" stroke-width="0.14" >2734</text>
<text x="605.26" y="289.7" font-size="5.7" text-anchor="start" textLength="15.15" lengthAdjust="spacingAndGlyphs" fill="#000" stroke-width="0.08" >+105</text>
<text x="605.26" y="295.2" font-size="5.7" text-anchor="start" textLength="11.58" lengthAdjust="spacingAndGlyphs" fill="#000" stroke-width="0.08" >−53</text>
<polygon points="669.02,384.7 669.02,383.73 675.15,383.73 675.15,381.63 677.43,381.63 677.43,378.12 679.54,378.12 679.54,373.74 682.16,373.74 682.16,369.01 684.44,369.01 684.44,359.72 686.9,359.72 686.9,350.96 689.17,350.96 689.17,340.97 691.45,340.97 691.45,324.67 693.56,324.67 693.56,318.54 695.66,318.54 695.66,310.65 697.94,310.65 697.94,309.77 699.69,309.77 699.69,305.39 701.44,305.39 701.44,314.68 703.72,314.68 703.72,324.14 705.82,324.14 705.82,336.94 707.58,336.94 707.58,342.72 710.73,342.72 710.73,353.59 713.18,353.59 713.18,364.98 715.46,364.98 715.46,371.11 717.74,371.11 717.74,377.25 720.19,377.25 720.19,381.28 722.47,381.28 722.47,383.03 725.1,383.03 725.1,383.73 728.61,383.73 728.61,384.7" fill="#a6d0a7" />
<polyline points="669.02,384.7 669.02,383.73 675.15,383.73 675.15,381.63 677.43,381.63 677.43,378.12 679.54,378.12 679.54,373.74 682.16,373.74 682.16,369.01 684.44,369.01 684.44,359.72 686.9,359.72 686.9,350.96 689.17,350.96 689.17,340.97 691.45,340.97 691.45,324.67 693.56,324.67 693.56,318.54 695.66,318.54 695.66,310.65 697.94,310.65 697.94,309.77 699.69,309.77 699.69,305.39 701.44,305.39 701.44,314.68 703.72,314.68 703.72,324.14 705.82,324.14 705.82,336.94 707.58,336.94 707.58,342.72 710.73,342.72 710.73,353.59 713.18,353.59 713.18,364.98 715.46,364.98 715.46,371.11 717.74,371.11 717.74,377.25 720.19,377.25 720.19,381.28 722.47,381.28 722.47,383.03 725.1,383.03 725.1,383.73 728.61,383.73 728.61,384.7" fill="none" stroke="#111" stroke-width="0.9" stroke-linejoin="round" />
<line x1="657.1" y1="384.7" x2="657.1" y2="381.9" stroke="#222" stroke-width="0.7" />
<line x1="657.1" y1="297.5" x2="657.1" y2="300.3" stroke="#222" stroke-width="0.7" />
<text x="649.08" y="393.2" font-size="7.2" text-anchor="start" textLength="15.98" lengthAdjust="spacingAndGlyphs" fill="#000" stroke-width="0.08" >2400</text>
<line x1="669.05" y1="384.7" x2="669.05" y2="381.9" stroke="#222" stroke-width="0.7" />
<line x1="669.05" y1="297.5" x2="669.05" y2="300.3" stroke="#222" stroke-width="0.7" />
<text x="661.03" y="393.2" font-size="7.2" text-anchor="start" textLength="15.98" lengthAdjust="spacingAndGlyphs" fill="#000" stroke-width="0.08" >2450</text>
<line x1="681" y1="384.7" x2="681" y2="381.9" stroke="#222" stroke-width="0.7" />
<line x1="681" y1="297.5" x2="681" y2="300.3" stroke="#222" stroke-width="0.7" />
<text x="672.98" y="393.2" font-size="7.2" text-anchor="start" textLength="15.98" lengthAdjust="spacingAndGlyphs" fill="#000" stroke-width="0.08" >2500</text>
<line x1="692.95" y1="384.7" x2="692.95" y2="381.9" stroke="#222" stroke-width="0.7" />
<line x1="692.95" y1="297.5" x2="692.95" y2="300.3" stroke="#222" stroke-width="0.7" />
<text x="684.93" y="393.2" font-size="7.2" text-anchor="start" textLength="15.98" lengthAdjust="spacingAndGlyphs" fill="#000" stroke-width="0.08" >2550</text>
<line x1="704.9" y1="384.7" x2="704.9" y2="381.9" stroke="#222" stroke-width="0.7" />
<line x1="704.9" y1="297.5" x2="704.9" y2="300.3" stroke="#222" stroke-width="0.7" />
<text x="696.88" y="393.2" font-size="7.2" text-anchor="start" textLength="15.98" lengthAdjust="spacingAndGlyphs" fill="#000" stroke-width="0.08" >2600</text>
<line x1="716.85" y1="384.7" x2="716.85" y2="381.9" stroke="#222" stroke-width="0.7" />
<line x1="716.85" y1="297.5" x2="716.85" y2="300.3" stroke="#222" stroke-width="0.7" />
<text x="708.83" y="393.2" font-size="7.2" text-anchor="start" textLength="15.98" lengthAdjust="spacingAndGlyphs" fill="#000" stroke-width="0.08" >2650</text>
<line x1="728.8" y1="384.7" x2="728.8" y2="381.9" stroke="#222" stroke-width="0.7" />
<line x1="728.8" y1="297.5" x2="728.8" y2="300.3" stroke="#222" stroke-width="0.7" />
<text x="720.78" y="393.2" font-size="7.2" text-anchor="start" textLength="15.98" lengthAdjust="spacingAndGlyphs" fill="#000" stroke-width="0.08" >2700</text>
<line x1="740.75" y1="384.7" x2="740.75" y2="381.9" stroke="#222" stroke-width="0.7" />
<line x1="740.75" y1="297.5" x2="740.75" y2="300.3" stroke="#222" stroke-width="0.7" />
<text x="732.73" y="393.2" font-size="7.2" text-anchor="start" textLength="15.98" lengthAdjust="spacingAndGlyphs" fill="#000" stroke-width="0.08" >2750</text>
<line x1="752.7" y1="384.7" x2="752.7" y2="381.9" stroke="#222" stroke-width="0.7" />
<line x1="752.7" y1="297.5" x2="752.7" y2="300.3" stroke="#222" stroke-width="0.7" />
<text x="744.68" y="393.2" font-size="7.2" text-anchor="start" textLength="15.98" lengthAdjust="spacingAndGlyphs" fill="#000" stroke-width="0.08" >2800</text>
<line x1="699.3" y1="297.5" x2="699.3" y2="384.7" stroke="#6a6a6a" stroke-width="1.15" />
<line x1="690.4" y1="384.7" x2="690.4" y2="297.5" stroke="#111" stroke-width="1.05" stroke-dasharray="4.7,2.3"/>
<line x1="707.2" y1="384.7" x2="707.2" y2="297.5" stroke="#111" stroke-width="1.05" stroke-dasharray="4.7,2.3"/>
<rect x="657.1" y="297.5" width="95.6" height="87.2" fill="none" stroke="#2a2a2a" stroke-width="1.1"/>
<text x="673.62" y="293" font-size="8.3" text-anchor="start" textLength="5.27" lengthAdjust="spacingAndGlyphs" fill="#000" stroke-width="0.14" >T</text>
<text x="678.75" y="294.5" font-size="5.7" text-anchor="start" textLength="12.87" lengthAdjust="spacingAndGlyphs" fill="#000" stroke-width="0.08" >phot</text>
<text x="695.14" y="293" font-size="8.3" text-anchor="start" textLength="7.28" lengthAdjust="spacingAndGlyphs" fill="#000" stroke-width="0.14" >=</text>
<text x="705.05" y="293" font-size="8.3" text-anchor="start" textLength="19.32" lengthAdjust="spacingAndGlyphs" fill="#000" stroke-width="0.14" >2576</text>
<text x="724.61" y="289.7" font-size="5.7" text-anchor="start" textLength="11.52" lengthAdjust="spacingAndGlyphs" fill="#000" stroke-width="0.08" >+34</text>
<text x="724.61" y="295.2" font-size="5.7" text-anchor="start" textLength="11.51" lengthAdjust="spacingAndGlyphs" fill="#000" stroke-width="0.08" >−37</text>
<polygon points="428.63,506.7 428.63,467.35 433.89,467.35 433.89,466.82 438.62,466.82 438.62,462.44 447.91,462.44 447.91,457.71 452.64,457.71 452.64,461.22 461.93,461.22 461.93,458.06 466.66,458.06 466.66,460.16 471.92,460.16 471.92,461.92 476.82,461.92 476.82,458.59 486.46,458.59 486.46,462.97 491.19,462.97 491.19,462.44 495.75,462.44 495.75,462.97 500.48,462.97 500.48,456.31 505.74,456.31 505.74,452.45 510.12,452.45 510.12,448.95 515.03,448.95 515.03,433 519.76,433 519.76,427.92 524.14,427.92 524.14,506.7" fill="#a6d0a7" />
<polyline points="428.63,506.7 428.63,467.35 433.89,467.35 433.89,466.82 438.62,466.82 438.62,462.44 447.91,462.44 447.91,457.71 452.64,457.71 452.64,461.22 461.93,461.22 461.93,458.06 466.66,458.06 466.66,460.16 471.92,460.16 471.92,461.92 476.82,461.92 476.82,458.59 486.46,458.59 486.46,462.97 491.19,462.97 491.19,462.44 495.75,462.44 495.75,462.97 500.48,462.97 500.48,456.31 505.74,456.31 505.74,452.45 510.12,452.45 510.12,448.95 515.03,448.95 515.03,433 519.76,433 519.76,427.92 524.14,427.92 524.14,506.7" fill="none" stroke="#111" stroke-width="0.9" stroke-linejoin="round" />
<line x1="428.6" y1="506.7" x2="428.6" y2="503.9" stroke="#222" stroke-width="0.7" />
<line x1="428.6" y1="419.5" x2="428.6" y2="422.3" stroke="#222" stroke-width="0.7" />
<text x="424.04" y="515.2" font-size="7.2" text-anchor="start" textLength="9" lengthAdjust="spacingAndGlyphs" fill="#000" stroke-width="0.08" >−8</text>
<line x1="440.58" y1="506.7" x2="440.58" y2="503.9" stroke="#222" stroke-width="0.7" />
<line x1="440.58" y1="419.5" x2="440.58" y2="422.3" stroke="#222" stroke-width="0.7" />
<text x="436.04" y="515.2" font-size="7.2" text-anchor="start" textLength="8.9" lengthAdjust="spacingAndGlyphs" fill="#000" stroke-width="0.08" >−7</text>
<line x1="452.55" y1="506.7" x2="452.55" y2="503.9" stroke="#222" stroke-width="0.7" />
<line x1="452.55" y1="419.5" x2="452.55" y2="422.3" stroke="#222" stroke-width="0.7" />
<text x="447.99" y="515.2" font-size="7.2" text-anchor="start" textLength="8.95" lengthAdjust="spacingAndGlyphs" fill="#000" stroke-width="0.08" >−6</text>
<line x1="464.52" y1="506.7" x2="464.52" y2="503.9" stroke="#222" stroke-width="0.7" />
<line x1="464.52" y1="419.5" x2="464.52" y2="422.3" stroke="#222" stroke-width="0.7" />
<text x="460" y="515.2" font-size="7.2" text-anchor="start" textLength="8.96" lengthAdjust="spacingAndGlyphs" fill="#000" stroke-width="0.08" >−5</text>
<line x1="476.5" y1="506.7" x2="476.5" y2="503.9" stroke="#222" stroke-width="0.7" />
<line x1="476.5" y1="419.5" x2="476.5" y2="422.3" stroke="#222" stroke-width="0.7" />
<text x="471.9" y="515.2" font-size="7.2" text-anchor="start" textLength="8.9" lengthAdjust="spacingAndGlyphs" fill="#000" stroke-width="0.08" >−4</text>
<line x1="488.48" y1="506.7" x2="488.48" y2="503.9" stroke="#222" stroke-width="0.7" />
<line x1="488.48" y1="419.5" x2="488.48" y2="422.3" stroke="#222" stroke-width="0.7" />
<text x="483.94" y="515.2" font-size="7.2" text-anchor="start" textLength="8.97" lengthAdjust="spacingAndGlyphs" fill="#000" stroke-width="0.08" >−3</text>
<line x1="500.45" y1="506.7" x2="500.45" y2="503.9" stroke="#222" stroke-width="0.7" />
<line x1="500.45" y1="419.5" x2="500.45" y2="422.3" stroke="#222" stroke-width="0.7" />
<text x="496" y="515.2" font-size="7.2" text-anchor="start" textLength="8.94" lengthAdjust="spacingAndGlyphs" fill="#000" stroke-width="0.08" >−2</text>
<line x1="512.42" y1="506.7" x2="512.42" y2="503.9" stroke="#222" stroke-width="0.7" />
<line x1="512.42" y1="419.5" x2="512.42" y2="422.3" stroke="#222" stroke-width="0.7" />
<text x="508.12" y="515.2" font-size="7.2" text-anchor="start" textLength="8.68" lengthAdjust="spacingAndGlyphs" fill="#000" stroke-width="0.08" >−1</text>
<line x1="524.4" y1="506.7" x2="524.4" y2="503.9" stroke="#222" stroke-width="0.7" />
<line x1="524.4" y1="419.5" x2="524.4" y2="422.3" stroke="#222" stroke-width="0.7" />
<text x="522.51" y="515.2" font-size="7.2" text-anchor="start" textLength="3.77" lengthAdjust="spacingAndGlyphs" fill="#000" stroke-width="0.08" >0</text>
<line x1="466.7" y1="419.5" x2="466.7" y2="506.7" stroke="#6a6a6a" stroke-width="1.15" />
<line x1="510.6" y1="506.7" x2="510.6" y2="419.5" stroke="#111" stroke-width="1.05" stroke-dasharray="4.7,2.3"/>
<rect x="428.6" y="419.5" width="95.8" height="87.2" fill="none" stroke="#2a2a2a" stroke-width="1.1"/>
<text x="438" y="415" font-size="8.3" text-anchor="start" textLength="21.01" lengthAdjust="spacingAndGlyphs" fill="#000" stroke-width="0.14" >log H</text>
<text x="458.52" y="416.5" font-size="5.7" text-anchor="start" textLength="3.32" lengthAdjust="spacingAndGlyphs" fill="#000" stroke-width="0.08" >2</text>
<text x="465.03" y="415" font-size="8.3" text-anchor="start" textLength="7.28" lengthAdjust="spacingAndGlyphs" fill="#000" stroke-width="0.14" >=</text>
<text x="474.88" y="415" font-size="8.3" text-anchor="start" textLength="23.08" lengthAdjust="spacingAndGlyphs" fill="#000" stroke-width="0.14" >−4.85</text>
<text x="498.11" y="411.7" font-size="5.7" text-anchor="start" textLength="16.71" lengthAdjust="spacingAndGlyphs" fill="#000" stroke-width="0.08" >+3.71</text>
<text x="498.11" y="417.2" font-size="5.7" text-anchor="start" textLength="16.98" lengthAdjust="spacingAndGlyphs" fill="#000" stroke-width="0.08" >−4.08</text>
<polygon points="541.28,506.7 541.28,457.71 546.89,457.71 546.89,455.96 551.27,455.96 551.27,454.56 560.91,454.56 560.91,450.7 565.29,450.7 565.29,449.65 570.55,449.65 570.55,448.95 575.8,448.95 575.8,448.42 584.57,448.42 584.57,447.55 589.82,447.55 589.82,450.17 594.21,450.17 594.21,453.68 598.59,453.68 598.59,458.94 602.97,458.94 602.97,462.44 608.23,462.44 608.23,463.67 613.48,463.67 613.48,463.67 618.74,463.67 618.74,471.73 622.77,471.73 622.77,477.34 628.03,477.34 628.03,476.46 632.24,476.46 632.24,427.39 636.79,427.39 636.79,506.7" fill="#a6d0a7" />
<polyline points="541.28,506.7 541.28,457.71 546.89,457.71 546.89,455.96 551.27,455.96 551.27,454.56 560.91,454.56 560.91,450.7 565.29,450.7 565.29,449.65 570.55,449.65 570.55,448.95 575.8,448.95 575.8,448.42 584.57,448.42 584.57,447.55 589.82,447.55 589.82,450.17 594.21,450.17 594.21,453.68 598.59,453.68 598.59,458.94 602.97,458.94 602.97,462.44 608.23,462.44 608.23,463.67 613.48,463.67 613.48,463.67 618.74,463.67 618.74,471.73 622.77,471.73 622.77,477.34 628.03,477.34 628.03,476.46 632.24,476.46 632.24,427.39 636.79,427.39 636.79,506.7" fill="none" stroke="#111" stroke-width="0.9" stroke-linejoin="round" />
<line x1="541.5" y1="506.7" x2="541.5" y2="503.9" stroke="#222" stroke-width="0.7" />
<line x1="541.5" y1="419.5" x2="541.5" y2="422.3" stroke="#222" stroke-width="0.7" />
<text x="536.94" y="515.2" font-size="7.2" text-anchor="start" textLength="9" lengthAdjust="spacingAndGlyphs" fill="#000" stroke-width="0.08" >−8</text>
<line x1="553.5" y1="506.7" x2="553.5" y2="503.9" stroke="#222" stroke-width="0.7" />
<line x1="553.5" y1="419.5" x2="553.5" y2="422.3" stroke="#222" stroke-width="0.7" />
<text x="548.96" y="515.2" font-size="7.2" text-anchor="start" textLength="8.9" lengthAdjust="spacingAndGlyphs" fill="#000" stroke-width="0.08" >−7</text>
<line x1="565.5" y1="506.7" x2="565.5" y2="503.9" stroke="#222" stroke-width="0.7" />
<line x1="565.5" y1="419.5" x2="565.5" y2="422.3" stroke="#222" stroke-width="0.7" />
<text x="560.94" y="515.2" font-size="7.2" text-anchor="start" textLength="8.95" lengthAdjust="spacingAndGlyphs" fill="#000" stroke-width="0.08" >−6</text>
<line x1="577.5" y1="506.7" x2="577.5" y2="503.9" stroke="#222" stroke-width="0.7" />
<line x1="577.5" y1="419.5" x2="577.5" y2="422.3" stroke="#222" stroke-width="0.7" />
<text x="572.98" y="515.2" font-size="7.2" text-anchor="start" textLength="8.96" lengthAdjust="spacingAndGlyphs" fill="#000" stroke-width="0.08" >−5</text>
<line x1="589.5" y1="506.7" x2="589.5" y2="503.9" stroke="#222" stroke-width="0.7" />
<line x1="589.5" y1="419.5" x2="589.5" y2="422.3" stroke="#222" stroke-width="0.7" />
<text x="584.9" y="515.2" font-size="7.2" text-anchor="start" textLength="8.9" lengthAdjust="spacingAndGlyphs" fill="#000" stroke-width="0.08" >−4</text>
<line x1="601.5" y1="506.7" x2="601.5" y2="503.9" stroke="#222" stroke-width="0.7" />
<line x1="601.5" y1="419.5" x2="601.5" y2="422.3" stroke="#222" stroke-width="0.7" />
<text x="596.97" y="515.2" font-size="7.2" text-anchor="start" textLength="8.97" lengthAdjust="spacingAndGlyphs" fill="#000" stroke-width="0.08" >−3</text>
<line x1="613.5" y1="506.7" x2="613.5" y2="503.9" stroke="#222" stroke-width="0.7" />
<line x1="613.5" y1="419.5" x2="613.5" y2="422.3" stroke="#222" stroke-width="0.7" />
<text x="609.05" y="515.2" font-size="7.2" text-anchor="start" textLength="8.94" lengthAdjust="spacingAndGlyphs" fill="#000" stroke-width="0.08" >−2</text>
<line x1="625.5" y1="506.7" x2="625.5" y2="503.9" stroke="#222" stroke-width="0.7" />
<line x1="625.5" y1="419.5" x2="625.5" y2="422.3" stroke="#222" stroke-width="0.7" />
<text x="621.19" y="515.2" font-size="7.2" text-anchor="start" textLength="8.68" lengthAdjust="spacingAndGlyphs" fill="#000" stroke-width="0.08" >−1</text>
<line x1="637.5" y1="506.7" x2="637.5" y2="503.9" stroke="#222" stroke-width="0.7" />
<line x1="637.5" y1="419.5" x2="637.5" y2="422.3" stroke="#222" stroke-width="0.7" />
<text x="635.61" y="515.2" font-size="7.2" text-anchor="start" textLength="3.77" lengthAdjust="spacingAndGlyphs" fill="#000" stroke-width="0.08" >0</text>
<line x1="572.3" y1="419.5" x2="572.3" y2="506.7" stroke="#6a6a6a" stroke-width="1.15" />
<line x1="613.8" y1="506.7" x2="613.8" y2="419.5" stroke="#111" stroke-width="1.05" stroke-dasharray="4.7,2.3"/>
<rect x="541.5" y="419.5" width="96" height="87.2" fill="none" stroke="#2a2a2a" stroke-width="1.1"/>
<text x="547.98" y="415" font-size="8.3" text-anchor="start" textLength="21.01" lengthAdjust="spacingAndGlyphs" fill="#000" stroke-width="0.14" >log H</text>
<text x="568.51" y="416.5" font-size="5.7" text-anchor="start" textLength="3.32" lengthAdjust="spacingAndGlyphs" fill="#000" stroke-width="0.08" >2</text>
<text x="571.52" y="415" font-size="8.3" text-anchor="start" textLength="6.17" lengthAdjust="spacingAndGlyphs" fill="#000" stroke-width="0.14" >O</text>
<text x="580.89" y="415" font-size="8.3" text-anchor="start" textLength="7.28" lengthAdjust="spacingAndGlyphs" fill="#000" stroke-width="0.14" >=</text>
<text x="590.73" y="415" font-size="8.3" text-anchor="start" textLength="23.16" lengthAdjust="spacingAndGlyphs" fill="#000" stroke-width="0.14" >−5.39</text>
<text x="614.04" y="411.7" font-size="5.7" text-anchor="start" textLength="16.89" lengthAdjust="spacingAndGlyphs" fill="#000" stroke-width="0.08" >+3.44</text>
<text x="614.04" y="417.2" font-size="5.7" text-anchor="start" textLength="17" lengthAdjust="spacingAndGlyphs" fill="#000" stroke-width="0.08" >−3.59</text>
<polygon points="657.28,506.7 657.28,506.43 707.58,506.43 707.58,505.73 730.36,505.73 730.36,505.03 738.77,505.03 738.77,503.63 743.5,503.63 743.5,501 747.88,501 747.88,427.39 751.74,427.39 751.74,506.7" fill="#a6d0a7" />
<polyline points="657.28,506.7 657.28,506.43 707.58,506.43 707.58,505.73 730.36,505.73 730.36,505.03 738.77,505.03 738.77,503.63 743.5,503.63 743.5,501 747.88,501 747.88,427.39 751.74,427.39 751.74,506.7" fill="none" stroke="#111" stroke-width="0.9" stroke-linejoin="round" />
<line x1="657.1" y1="506.7" x2="657.1" y2="503.9" stroke="#222" stroke-width="0.7" />
<line x1="657.1" y1="419.5" x2="657.1" y2="422.3" stroke="#222" stroke-width="0.7" />
<text x="652.54" y="515.2" font-size="7.2" text-anchor="start" textLength="9" lengthAdjust="spacingAndGlyphs" fill="#000" stroke-width="0.08" >−8</text>
<line x1="669.05" y1="506.7" x2="669.05" y2="503.9" stroke="#222" stroke-width="0.7" />
<line x1="669.05" y1="419.5" x2="669.05" y2="422.3" stroke="#222" stroke-width="0.7" />
<text x="664.51" y="515.2" font-size="7.2" text-anchor="start" textLength="8.9" lengthAdjust="spacingAndGlyphs" fill="#000" stroke-width="0.08" >−7</text>
<line x1="681" y1="506.7" x2="681" y2="503.9" stroke="#222" stroke-width="0.7" />
<line x1="681" y1="419.5" x2="681" y2="422.3" stroke="#222" stroke-width="0.7" />
<text x="676.44" y="515.2" font-size="7.2" text-anchor="start" textLength="8.95" lengthAdjust="spacingAndGlyphs" fill="#000" stroke-width="0.08" >−6</text>
<line x1="692.95" y1="506.7" x2="692.95" y2="503.9" stroke="#222" stroke-width="0.7" />
<line x1="692.95" y1="419.5" x2="692.95" y2="422.3" stroke="#222" stroke-width="0.7" />
<text x="688.43" y="515.2" font-size="7.2" text-anchor="start" textLength="8.96" lengthAdjust="spacingAndGlyphs" fill="#000" stroke-width="0.08" >−5</text>
<line x1="704.9" y1="506.7" x2="704.9" y2="503.9" stroke="#222" stroke-width="0.7" />
<line x1="704.9" y1="419.5" x2="704.9" y2="422.3" stroke="#222" stroke-width="0.7" />
<text x="700.3" y="515.2" font-size="7.2" text-anchor="start" textLength="8.9" lengthAdjust="spacingAndGlyphs" fill="#000" stroke-width="0.08" >−4</text>
<line x1="716.85" y1="506.7" x2="716.85" y2="503.9" stroke="#222" stroke-width="0.7" />
<line x1="716.85" y1="419.5" x2="716.85" y2="422.3" stroke="#222" stroke-width="0.7" />
<text x="712.32" y="515.2" font-size="7.2" text-anchor="start" textLength="8.97" lengthAdjust="spacingAndGlyphs" fill="#000" stroke-width="0.08" >−3</text>
<line x1="728.8" y1="506.7" x2="728.8" y2="503.9" stroke="#222" stroke-width="0.7" />
<line x1="728.8" y1="419.5" x2="728.8" y2="422.3" stroke="#222" stroke-width="0.7" />
<text x="724.35" y="515.2" font-size="7.2" text-anchor="start" textLength="8.94" lengthAdjust="spacingAndGlyphs" fill="#000" stroke-width="0.08" >−2</text>
<line x1="740.75" y1="506.7" x2="740.75" y2="503.9" stroke="#222" stroke-width="0.7" />
<line x1="740.75" y1="419.5" x2="740.75" y2="422.3" stroke="#222" stroke-width="0.7" />
<text x="736.44" y="515.2" font-size="7.2" text-anchor="start" textLength="8.68" lengthAdjust="spacingAndGlyphs" fill="#000" stroke-width="0.08" >−1</text>
<line x1="752.7" y1="506.7" x2="752.7" y2="503.9" stroke="#222" stroke-width="0.7" />
<line x1="752.7" y1="419.5" x2="752.7" y2="422.3" stroke="#222" stroke-width="0.7" />
<text x="750.81" y="515.2" font-size="7.2" text-anchor="start" textLength="3.77" lengthAdjust="spacingAndGlyphs" fill="#000" stroke-width="0.08" >0</text>
<line x1="730.4" y1="506.7" x2="730.4" y2="419.5" stroke="#111" stroke-width="1.05" stroke-dasharray="4.7,2.3"/>
<rect x="657.1" y="419.5" width="95.6" height="87.2" fill="none" stroke="#2a2a2a" stroke-width="1.1"/>
<text x="663.74" y="415" font-size="8.3" text-anchor="start" textLength="26.59" lengthAdjust="spacingAndGlyphs" fill="#000" stroke-width="0.14" >log CO</text>
<text x="689.75" y="416.5" font-size="5.7" text-anchor="start" textLength="3.32" lengthAdjust="spacingAndGlyphs" fill="#000" stroke-width="0.08" >2</text>
<text x="696.26" y="415" font-size="8.3" text-anchor="start" textLength="7.28" lengthAdjust="spacingAndGlyphs" fill="#000" stroke-width="0.14" >=</text>
<text x="706.1" y="415" font-size="8.3" text-anchor="start" textLength="23.06" lengthAdjust="spacingAndGlyphs" fill="#000" stroke-width="0.14" >−0.02</text>
<text x="729.16" y="411.7" font-size="5.7" text-anchor="start" textLength="16.92" lengthAdjust="spacingAndGlyphs" fill="#000" stroke-width="0.08" >+0.02</text>
<text x="729.16" y="417.2" font-size="5.7" text-anchor="start" textLength="16.93" lengthAdjust="spacingAndGlyphs" fill="#000" stroke-width="0.08" >−1.86</text>
</svg></body></html>
